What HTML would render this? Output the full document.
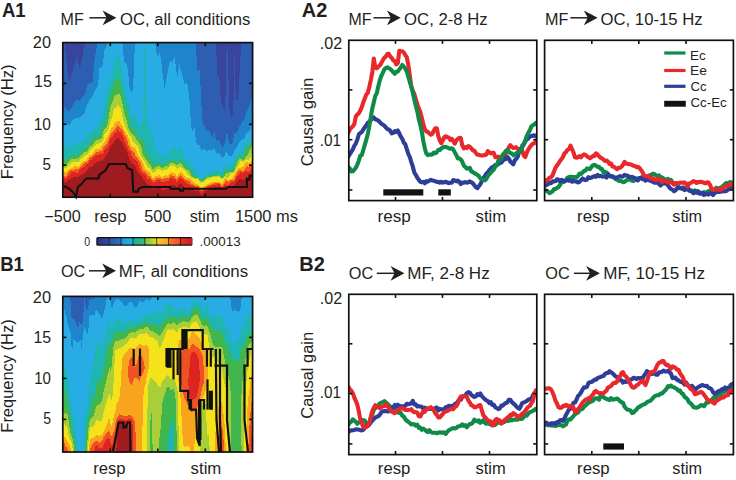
<!DOCTYPE html>
<html><head><meta charset="utf-8"><style>
html,body{margin:0;padding:0;background:#fff;width:736px;height:480px;overflow:hidden}
svg{display:block}
text{font-family:"Liberation Sans", sans-serif;fill:#231f20}
</style></head><body>
<svg width="736" height="480" viewBox="0 0 736 480">
<rect width="736" height="480" fill="#fff"/>
<rect x="63" y="43" width="1.5" height="17.5" fill="#39449d"/>
<rect x="63" y="60" width="1.5" height="51.5" fill="#2e5eb2"/>
<rect x="63" y="111" width="1.5" height="13.5" fill="#1f84cc"/>
<rect x="63" y="124" width="1.5" height="23.5" fill="#27ade3"/>
<rect x="63" y="147" width="1.5" height="13.5" fill="#1fb5b0"/>
<rect x="63" y="160" width="1.5" height="5.5" fill="#40b64c"/>
<rect x="63" y="165" width="1.5" height="2.5" fill="#a9cf38"/>
<rect x="63" y="167" width="1.5" height="6.5" fill="#f4e31b"/>
<rect x="63" y="173" width="1.5" height="3.5" fill="#f8a51d"/>
<rect x="63" y="176" width="1.5" height="2.5" fill="#ef5123"/>
<rect x="63" y="178" width="1.5" height="4.5" fill="#dc2420"/>
<rect x="63" y="182" width="1.5" height="15.5" fill="#9e1b1f"/>
<rect x="64" y="43" width="1.5" height="63.5" fill="#2e5eb2"/>
<rect x="64" y="106" width="1.5" height="18.5" fill="#1f84cc"/>
<rect x="64" y="124" width="1.5" height="19.5" fill="#27ade3"/>
<rect x="64" y="143" width="1.5" height="16.5" fill="#1fb5b0"/>
<rect x="64" y="159" width="1.5" height="6.5" fill="#40b64c"/>
<rect x="64" y="165" width="1.5" height="3.5" fill="#a9cf38"/>
<rect x="64" y="168" width="1.5" height="4.5" fill="#f4e31b"/>
<rect x="64" y="172" width="1.5" height="4.5" fill="#f8a51d"/>
<rect x="64" y="176" width="1.5" height="2.5" fill="#ef5123"/>
<rect x="64" y="178" width="1.5" height="4.5" fill="#dc2420"/>
<rect x="64" y="182" width="1.5" height="15.5" fill="#9e1b1f"/>
<rect x="65" y="43" width="1.5" height="10.5" fill="#39449d"/>
<rect x="65" y="53" width="1.5" height="55.5" fill="#2e5eb2"/>
<rect x="65" y="108" width="1.5" height="17.5" fill="#1f84cc"/>
<rect x="65" y="125" width="1.5" height="21.5" fill="#27ade3"/>
<rect x="65" y="146" width="1.5" height="14.5" fill="#1fb5b0"/>
<rect x="65" y="160" width="1.5" height="5.5" fill="#40b64c"/>
<rect x="65" y="165" width="1.5" height="3.5" fill="#a9cf38"/>
<rect x="65" y="168" width="1.5" height="4.5" fill="#f4e31b"/>
<rect x="65" y="172" width="1.5" height="5.5" fill="#f8a51d"/>
<rect x="65" y="177" width="1.5" height="2.5" fill="#ef5123"/>
<rect x="65" y="179" width="1.5" height="3.5" fill="#dc2420"/>
<rect x="65" y="182" width="1.5" height="15.5" fill="#9e1b1f"/>
<rect x="66" y="43" width="1.5" height="18.5" fill="#39449d"/>
<rect x="66" y="61" width="1.5" height="49.5" fill="#2e5eb2"/>
<rect x="66" y="110" width="1.5" height="15.5" fill="#1f84cc"/>
<rect x="66" y="125" width="1.5" height="22.5" fill="#27ade3"/>
<rect x="66" y="147" width="1.5" height="13.5" fill="#1fb5b0"/>
<rect x="66" y="160" width="1.5" height="5.5" fill="#40b64c"/>
<rect x="66" y="165" width="1.5" height="3.5" fill="#a9cf38"/>
<rect x="66" y="168" width="1.5" height="4.5" fill="#f4e31b"/>
<rect x="66" y="172" width="1.5" height="4.5" fill="#f8a51d"/>
<rect x="66" y="176" width="1.5" height="2.5" fill="#ef5123"/>
<rect x="66" y="178" width="1.5" height="4.5" fill="#dc2420"/>
<rect x="66" y="182" width="1.5" height="15.5" fill="#9e1b1f"/>
<rect x="67" y="43" width="1.5" height="27.5" fill="#39449d"/>
<rect x="67" y="70" width="1.5" height="40.5" fill="#2e5eb2"/>
<rect x="67" y="110" width="1.5" height="14.5" fill="#1f84cc"/>
<rect x="67" y="124" width="1.5" height="23.5" fill="#27ade3"/>
<rect x="67" y="147" width="1.5" height="12.5" fill="#1fb5b0"/>
<rect x="67" y="159" width="1.5" height="4.5" fill="#40b64c"/>
<rect x="67" y="163" width="1.5" height="4.5" fill="#a9cf38"/>
<rect x="67" y="167" width="1.5" height="4.5" fill="#f4e31b"/>
<rect x="67" y="171" width="1.5" height="3.5" fill="#f8a51d"/>
<rect x="67" y="174" width="1.5" height="3.5" fill="#ef5123"/>
<rect x="67" y="177" width="1.5" height="4.5" fill="#dc2420"/>
<rect x="67" y="181" width="1.5" height="16.5" fill="#9e1b1f"/>
<rect x="68" y="43" width="1.5" height="35.5" fill="#39449d"/>
<rect x="68" y="78" width="1.5" height="33.5" fill="#2e5eb2"/>
<rect x="68" y="111" width="1.5" height="13.5" fill="#1f84cc"/>
<rect x="68" y="124" width="1.5" height="24.5" fill="#27ade3"/>
<rect x="68" y="148" width="1.5" height="10.5" fill="#1fb5b0"/>
<rect x="68" y="158" width="1.5" height="4.5" fill="#40b64c"/>
<rect x="68" y="162" width="1.5" height="4.5" fill="#a9cf38"/>
<rect x="68" y="166" width="1.5" height="4.5" fill="#f4e31b"/>
<rect x="68" y="170" width="1.5" height="2.5" fill="#f8a51d"/>
<rect x="68" y="172" width="1.5" height="4.5" fill="#ef5123"/>
<rect x="68" y="176" width="1.5" height="4.5" fill="#dc2420"/>
<rect x="68" y="180" width="1.5" height="17.5" fill="#9e1b1f"/>
<rect x="69" y="43" width="1.5" height="38.5" fill="#39449d"/>
<rect x="69" y="81" width="1.5" height="30.5" fill="#2e5eb2"/>
<rect x="69" y="111" width="1.5" height="14.5" fill="#1f84cc"/>
<rect x="69" y="125" width="1.5" height="23.5" fill="#27ade3"/>
<rect x="69" y="148" width="1.5" height="9.5" fill="#1fb5b0"/>
<rect x="69" y="157" width="1.5" height="4.5" fill="#40b64c"/>
<rect x="69" y="161" width="1.5" height="4.5" fill="#a9cf38"/>
<rect x="69" y="165" width="1.5" height="4.5" fill="#f4e31b"/>
<rect x="69" y="169" width="1.5" height="2.5" fill="#f8a51d"/>
<rect x="69" y="171" width="1.5" height="4.5" fill="#ef5123"/>
<rect x="69" y="175" width="1.5" height="5.5" fill="#dc2420"/>
<rect x="69" y="180" width="1.5" height="17.5" fill="#9e1b1f"/>
<rect x="70" y="43" width="1.5" height="35.5" fill="#39449d"/>
<rect x="70" y="78" width="1.5" height="31.5" fill="#2e5eb2"/>
<rect x="70" y="109" width="1.5" height="14.5" fill="#1f84cc"/>
<rect x="70" y="123" width="1.5" height="24.5" fill="#27ade3"/>
<rect x="70" y="147" width="1.5" height="10.5" fill="#1fb5b0"/>
<rect x="70" y="157" width="1.5" height="3.5" fill="#40b64c"/>
<rect x="70" y="160" width="1.5" height="4.5" fill="#a9cf38"/>
<rect x="70" y="164" width="1.5" height="5.5" fill="#f4e31b"/>
<rect x="70" y="169" width="1.5" height="1.5" fill="#f8a51d"/>
<rect x="70" y="170" width="1.5" height="4.5" fill="#ef5123"/>
<rect x="70" y="174" width="1.5" height="5.5" fill="#dc2420"/>
<rect x="70" y="179" width="1.5" height="18.5" fill="#9e1b1f"/>
<rect x="71" y="43" width="1.5" height="32.5" fill="#39449d"/>
<rect x="71" y="75" width="1.5" height="33.5" fill="#2e5eb2"/>
<rect x="71" y="108" width="1.5" height="13.5" fill="#1f84cc"/>
<rect x="71" y="121" width="1.5" height="25.5" fill="#27ade3"/>
<rect x="71" y="146" width="1.5" height="11.5" fill="#1fb5b0"/>
<rect x="71" y="157" width="1.5" height="2.5" fill="#40b64c"/>
<rect x="71" y="159" width="1.5" height="4.5" fill="#a9cf38"/>
<rect x="71" y="163" width="1.5" height="5.5" fill="#f4e31b"/>
<rect x="71" y="168" width="1.5" height="2.5" fill="#f8a51d"/>
<rect x="71" y="170" width="1.5" height="2.5" fill="#ef5123"/>
<rect x="71" y="172" width="1.5" height="6.5" fill="#dc2420"/>
<rect x="71" y="178" width="1.5" height="19.5" fill="#9e1b1f"/>
<rect x="72" y="43" width="1.5" height="29.5" fill="#39449d"/>
<rect x="72" y="72" width="1.5" height="34.5" fill="#2e5eb2"/>
<rect x="72" y="106" width="1.5" height="14.5" fill="#1f84cc"/>
<rect x="72" y="120" width="1.5" height="25.5" fill="#27ade3"/>
<rect x="72" y="145" width="1.5" height="11.5" fill="#1fb5b0"/>
<rect x="72" y="156" width="1.5" height="3.5" fill="#40b64c"/>
<rect x="72" y="159" width="1.5" height="3.5" fill="#a9cf38"/>
<rect x="72" y="162" width="1.5" height="6.5" fill="#f4e31b"/>
<rect x="72" y="168" width="1.5" height="2.5" fill="#f8a51d"/>
<rect x="72" y="170" width="1.5" height="2.5" fill="#ef5123"/>
<rect x="72" y="172" width="1.5" height="6.5" fill="#dc2420"/>
<rect x="72" y="178" width="1.5" height="19.5" fill="#9e1b1f"/>
<rect x="73" y="43" width="1.5" height="25.5" fill="#39449d"/>
<rect x="73" y="68" width="1.5" height="36.5" fill="#2e5eb2"/>
<rect x="73" y="104" width="1.5" height="15.5" fill="#1f84cc"/>
<rect x="73" y="119" width="1.5" height="25.5" fill="#27ade3"/>
<rect x="73" y="144" width="1.5" height="11.5" fill="#1fb5b0"/>
<rect x="73" y="155" width="1.5" height="4.5" fill="#40b64c"/>
<rect x="73" y="159" width="1.5" height="3.5" fill="#a9cf38"/>
<rect x="73" y="162" width="1.5" height="5.5" fill="#f4e31b"/>
<rect x="73" y="167" width="1.5" height="3.5" fill="#f8a51d"/>
<rect x="73" y="170" width="1.5" height="2.5" fill="#ef5123"/>
<rect x="73" y="172" width="1.5" height="5.5" fill="#dc2420"/>
<rect x="73" y="177" width="1.5" height="20.5" fill="#9e1b1f"/>
<rect x="74" y="43" width="1.5" height="21.5" fill="#39449d"/>
<rect x="74" y="64" width="1.5" height="38.5" fill="#2e5eb2"/>
<rect x="74" y="102" width="1.5" height="17.5" fill="#1f84cc"/>
<rect x="74" y="119" width="1.5" height="24.5" fill="#27ade3"/>
<rect x="74" y="143" width="1.5" height="11.5" fill="#1fb5b0"/>
<rect x="74" y="154" width="1.5" height="5.5" fill="#40b64c"/>
<rect x="74" y="159" width="1.5" height="3.5" fill="#a9cf38"/>
<rect x="74" y="162" width="1.5" height="4.5" fill="#f4e31b"/>
<rect x="74" y="166" width="1.5" height="4.5" fill="#f8a51d"/>
<rect x="74" y="170" width="1.5" height="2.5" fill="#ef5123"/>
<rect x="74" y="172" width="1.5" height="5.5" fill="#dc2420"/>
<rect x="74" y="177" width="1.5" height="20.5" fill="#9e1b1f"/>
<rect x="75" y="43" width="1.5" height="18.5" fill="#39449d"/>
<rect x="75" y="61" width="1.5" height="40.5" fill="#2e5eb2"/>
<rect x="75" y="101" width="1.5" height="17.5" fill="#1f84cc"/>
<rect x="75" y="118" width="1.5" height="24.5" fill="#27ade3"/>
<rect x="75" y="142" width="1.5" height="12.5" fill="#1fb5b0"/>
<rect x="75" y="154" width="1.5" height="5.5" fill="#40b64c"/>
<rect x="75" y="159" width="1.5" height="3.5" fill="#a9cf38"/>
<rect x="75" y="162" width="1.5" height="4.5" fill="#f4e31b"/>
<rect x="75" y="166" width="1.5" height="3.5" fill="#f8a51d"/>
<rect x="75" y="169" width="1.5" height="3.5" fill="#ef5123"/>
<rect x="75" y="172" width="1.5" height="5.5" fill="#dc2420"/>
<rect x="75" y="177" width="1.5" height="20.5" fill="#9e1b1f"/>
<rect x="76" y="43" width="1.5" height="15.5" fill="#39449d"/>
<rect x="76" y="58" width="1.5" height="42.5" fill="#2e5eb2"/>
<rect x="76" y="100" width="1.5" height="18.5" fill="#1f84cc"/>
<rect x="76" y="118" width="1.5" height="24.5" fill="#27ade3"/>
<rect x="76" y="142" width="1.5" height="12.5" fill="#1fb5b0"/>
<rect x="76" y="154" width="1.5" height="4.5" fill="#40b64c"/>
<rect x="76" y="158" width="1.5" height="4.5" fill="#a9cf38"/>
<rect x="76" y="162" width="1.5" height="4.5" fill="#f4e31b"/>
<rect x="76" y="166" width="1.5" height="3.5" fill="#f8a51d"/>
<rect x="76" y="169" width="1.5" height="4.5" fill="#ef5123"/>
<rect x="76" y="173" width="1.5" height="4.5" fill="#dc2420"/>
<rect x="76" y="177" width="1.5" height="20.5" fill="#9e1b1f"/>
<rect x="77" y="43" width="1.5" height="16.5" fill="#39449d"/>
<rect x="77" y="59" width="1.5" height="41.5" fill="#2e5eb2"/>
<rect x="77" y="100" width="1.5" height="18.5" fill="#1f84cc"/>
<rect x="77" y="118" width="1.5" height="24.5" fill="#27ade3"/>
<rect x="77" y="142" width="1.5" height="13.5" fill="#1fb5b0"/>
<rect x="77" y="155" width="1.5" height="4.5" fill="#40b64c"/>
<rect x="77" y="159" width="1.5" height="3.5" fill="#a9cf38"/>
<rect x="77" y="162" width="1.5" height="5.5" fill="#f4e31b"/>
<rect x="77" y="167" width="1.5" height="2.5" fill="#f8a51d"/>
<rect x="77" y="169" width="1.5" height="4.5" fill="#ef5123"/>
<rect x="77" y="173" width="1.5" height="4.5" fill="#dc2420"/>
<rect x="77" y="177" width="1.5" height="20.5" fill="#9e1b1f"/>
<rect x="78" y="43" width="1.5" height="21.5" fill="#39449d"/>
<rect x="78" y="64" width="1.5" height="37.5" fill="#2e5eb2"/>
<rect x="78" y="101" width="1.5" height="17.5" fill="#1f84cc"/>
<rect x="78" y="118" width="1.5" height="26.5" fill="#27ade3"/>
<rect x="78" y="144" width="1.5" height="11.5" fill="#1fb5b0"/>
<rect x="78" y="155" width="1.5" height="3.5" fill="#40b64c"/>
<rect x="78" y="158" width="1.5" height="4.5" fill="#a9cf38"/>
<rect x="78" y="162" width="1.5" height="5.5" fill="#f4e31b"/>
<rect x="78" y="167" width="1.5" height="2.5" fill="#f8a51d"/>
<rect x="78" y="169" width="1.5" height="3.5" fill="#ef5123"/>
<rect x="78" y="172" width="1.5" height="5.5" fill="#dc2420"/>
<rect x="78" y="177" width="1.5" height="20.5" fill="#9e1b1f"/>
<rect x="79" y="43" width="1.5" height="25.5" fill="#39449d"/>
<rect x="79" y="68" width="1.5" height="33.5" fill="#2e5eb2"/>
<rect x="79" y="101" width="1.5" height="16.5" fill="#1f84cc"/>
<rect x="79" y="117" width="1.5" height="27.5" fill="#27ade3"/>
<rect x="79" y="144" width="1.5" height="10.5" fill="#1fb5b0"/>
<rect x="79" y="154" width="1.5" height="3.5" fill="#40b64c"/>
<rect x="79" y="157" width="1.5" height="4.5" fill="#a9cf38"/>
<rect x="79" y="161" width="1.5" height="5.5" fill="#f4e31b"/>
<rect x="79" y="166" width="1.5" height="2.5" fill="#f8a51d"/>
<rect x="79" y="168" width="1.5" height="2.5" fill="#ef5123"/>
<rect x="79" y="170" width="1.5" height="6.5" fill="#dc2420"/>
<rect x="79" y="176" width="1.5" height="21.5" fill="#9e1b1f"/>
<rect x="80" y="43" width="1.5" height="23.5" fill="#39449d"/>
<rect x="80" y="66" width="1.5" height="34.5" fill="#2e5eb2"/>
<rect x="80" y="100" width="1.5" height="17.5" fill="#1f84cc"/>
<rect x="80" y="117" width="1.5" height="26.5" fill="#27ade3"/>
<rect x="80" y="143" width="1.5" height="10.5" fill="#1fb5b0"/>
<rect x="80" y="153" width="1.5" height="3.5" fill="#40b64c"/>
<rect x="80" y="156" width="1.5" height="3.5" fill="#a9cf38"/>
<rect x="80" y="159" width="1.5" height="5.5" fill="#f4e31b"/>
<rect x="80" y="164" width="1.5" height="3.5" fill="#f8a51d"/>
<rect x="80" y="167" width="1.5" height="2.5" fill="#ef5123"/>
<rect x="80" y="169" width="1.5" height="6.5" fill="#dc2420"/>
<rect x="80" y="175" width="1.5" height="22.5" fill="#9e1b1f"/>
<rect x="81" y="43" width="1.5" height="18.5" fill="#39449d"/>
<rect x="81" y="61" width="1.5" height="37.5" fill="#2e5eb2"/>
<rect x="81" y="98" width="1.5" height="18.5" fill="#1f84cc"/>
<rect x="81" y="116" width="1.5" height="26.5" fill="#27ade3"/>
<rect x="81" y="142" width="1.5" height="9.5" fill="#1fb5b0"/>
<rect x="81" y="151" width="1.5" height="4.5" fill="#40b64c"/>
<rect x="81" y="155" width="1.5" height="4.5" fill="#a9cf38"/>
<rect x="81" y="159" width="1.5" height="4.5" fill="#f4e31b"/>
<rect x="81" y="163" width="1.5" height="3.5" fill="#f8a51d"/>
<rect x="81" y="166" width="1.5" height="2.5" fill="#ef5123"/>
<rect x="81" y="168" width="1.5" height="7.5" fill="#dc2420"/>
<rect x="81" y="175" width="1.5" height="22.5" fill="#9e1b1f"/>
<rect x="82" y="43" width="1.5" height="13.5" fill="#39449d"/>
<rect x="82" y="56" width="1.5" height="41.5" fill="#2e5eb2"/>
<rect x="82" y="97" width="1.5" height="18.5" fill="#1f84cc"/>
<rect x="82" y="115" width="1.5" height="26.5" fill="#27ade3"/>
<rect x="82" y="141" width="1.5" height="9.5" fill="#1fb5b0"/>
<rect x="82" y="150" width="1.5" height="4.5" fill="#40b64c"/>
<rect x="82" y="154" width="1.5" height="4.5" fill="#a9cf38"/>
<rect x="82" y="158" width="1.5" height="4.5" fill="#f4e31b"/>
<rect x="82" y="162" width="1.5" height="3.5" fill="#f8a51d"/>
<rect x="82" y="165" width="1.5" height="3.5" fill="#ef5123"/>
<rect x="82" y="168" width="1.5" height="6.5" fill="#dc2420"/>
<rect x="82" y="174" width="1.5" height="23.5" fill="#9e1b1f"/>
<rect x="83" y="43" width="1.5" height="7.5" fill="#39449d"/>
<rect x="83" y="50" width="1.5" height="46.5" fill="#2e5eb2"/>
<rect x="83" y="96" width="1.5" height="18.5" fill="#1f84cc"/>
<rect x="83" y="114" width="1.5" height="26.5" fill="#27ade3"/>
<rect x="83" y="140" width="1.5" height="9.5" fill="#1fb5b0"/>
<rect x="83" y="149" width="1.5" height="4.5" fill="#40b64c"/>
<rect x="83" y="153" width="1.5" height="4.5" fill="#a9cf38"/>
<rect x="83" y="157" width="1.5" height="4.5" fill="#f4e31b"/>
<rect x="83" y="161" width="1.5" height="3.5" fill="#f8a51d"/>
<rect x="83" y="164" width="1.5" height="3.5" fill="#ef5123"/>
<rect x="83" y="167" width="1.5" height="6.5" fill="#dc2420"/>
<rect x="83" y="173" width="1.5" height="24.5" fill="#9e1b1f"/>
<rect x="84" y="43" width="1.5" height="4.5" fill="#39449d"/>
<rect x="84" y="47" width="1.5" height="48.5" fill="#2e5eb2"/>
<rect x="84" y="95" width="1.5" height="18.5" fill="#1f84cc"/>
<rect x="84" y="113" width="1.5" height="27.5" fill="#27ade3"/>
<rect x="84" y="140" width="1.5" height="9.5" fill="#1fb5b0"/>
<rect x="84" y="149" width="1.5" height="3.5" fill="#40b64c"/>
<rect x="84" y="152" width="1.5" height="4.5" fill="#a9cf38"/>
<rect x="84" y="156" width="1.5" height="5.5" fill="#f4e31b"/>
<rect x="84" y="161" width="1.5" height="2.5" fill="#f8a51d"/>
<rect x="84" y="163" width="1.5" height="4.5" fill="#ef5123"/>
<rect x="84" y="167" width="1.5" height="6.5" fill="#dc2420"/>
<rect x="84" y="173" width="1.5" height="24.5" fill="#9e1b1f"/>
<rect x="85" y="43" width="1.5" height="50.5" fill="#2e5eb2"/>
<rect x="85" y="93" width="1.5" height="16.5" fill="#1f84cc"/>
<rect x="85" y="109" width="1.5" height="30.5" fill="#27ade3"/>
<rect x="85" y="139" width="1.5" height="10.5" fill="#1fb5b0"/>
<rect x="85" y="149" width="1.5" height="3.5" fill="#40b64c"/>
<rect x="85" y="152" width="1.5" height="3.5" fill="#a9cf38"/>
<rect x="85" y="155" width="1.5" height="6.5" fill="#f4e31b"/>
<rect x="85" y="161" width="1.5" height="1.5" fill="#f8a51d"/>
<rect x="85" y="162" width="1.5" height="3.5" fill="#ef5123"/>
<rect x="85" y="165" width="1.5" height="7.5" fill="#dc2420"/>
<rect x="85" y="172" width="1.5" height="25.5" fill="#9e1b1f"/>
<rect x="86" y="43" width="1.5" height="45.5" fill="#2e5eb2"/>
<rect x="86" y="88" width="1.5" height="18.5" fill="#1f84cc"/>
<rect x="86" y="106" width="1.5" height="30.5" fill="#27ade3"/>
<rect x="86" y="136" width="1.5" height="12.5" fill="#1fb5b0"/>
<rect x="86" y="148" width="1.5" height="4.5" fill="#40b64c"/>
<rect x="86" y="152" width="1.5" height="3.5" fill="#a9cf38"/>
<rect x="86" y="155" width="1.5" height="5.5" fill="#f4e31b"/>
<rect x="86" y="160" width="1.5" height="2.5" fill="#f8a51d"/>
<rect x="86" y="162" width="1.5" height="2.5" fill="#ef5123"/>
<rect x="86" y="164" width="1.5" height="7.5" fill="#dc2420"/>
<rect x="86" y="171" width="1.5" height="26.5" fill="#9e1b1f"/>
<rect x="87" y="43" width="1.5" height="42.5" fill="#2e5eb2"/>
<rect x="87" y="85" width="1.5" height="19.5" fill="#1f84cc"/>
<rect x="87" y="104" width="1.5" height="31.5" fill="#27ade3"/>
<rect x="87" y="135" width="1.5" height="11.5" fill="#1fb5b0"/>
<rect x="87" y="146" width="1.5" height="5.5" fill="#40b64c"/>
<rect x="87" y="151" width="1.5" height="3.5" fill="#a9cf38"/>
<rect x="87" y="154" width="1.5" height="4.5" fill="#f4e31b"/>
<rect x="87" y="158" width="1.5" height="4.5" fill="#f8a51d"/>
<rect x="87" y="162" width="1.5" height="2.5" fill="#ef5123"/>
<rect x="87" y="164" width="1.5" height="6.5" fill="#dc2420"/>
<rect x="87" y="170" width="1.5" height="27.5" fill="#9e1b1f"/>
<rect x="88" y="43" width="1.5" height="41.5" fill="#2e5eb2"/>
<rect x="88" y="84" width="1.5" height="19.5" fill="#1f84cc"/>
<rect x="88" y="103" width="1.5" height="30.5" fill="#27ade3"/>
<rect x="88" y="133" width="1.5" height="11.5" fill="#1fb5b0"/>
<rect x="88" y="144" width="1.5" height="5.5" fill="#40b64c"/>
<rect x="88" y="149" width="1.5" height="4.5" fill="#a9cf38"/>
<rect x="88" y="153" width="1.5" height="4.5" fill="#f4e31b"/>
<rect x="88" y="157" width="1.5" height="3.5" fill="#f8a51d"/>
<rect x="88" y="160" width="1.5" height="3.5" fill="#ef5123"/>
<rect x="88" y="163" width="1.5" height="6.5" fill="#dc2420"/>
<rect x="88" y="169" width="1.5" height="28.5" fill="#9e1b1f"/>
<rect x="89" y="43" width="1.5" height="40.5" fill="#2e5eb2"/>
<rect x="89" y="83" width="1.5" height="17.5" fill="#1f84cc"/>
<rect x="89" y="100" width="1.5" height="32.5" fill="#27ade3"/>
<rect x="89" y="132" width="1.5" height="11.5" fill="#1fb5b0"/>
<rect x="89" y="143" width="1.5" height="4.5" fill="#40b64c"/>
<rect x="89" y="147" width="1.5" height="4.5" fill="#a9cf38"/>
<rect x="89" y="151" width="1.5" height="4.5" fill="#f4e31b"/>
<rect x="89" y="155" width="1.5" height="3.5" fill="#f8a51d"/>
<rect x="89" y="158" width="1.5" height="3.5" fill="#ef5123"/>
<rect x="89" y="161" width="1.5" height="6.5" fill="#dc2420"/>
<rect x="89" y="167" width="1.5" height="30.5" fill="#9e1b1f"/>
<rect x="90" y="43" width="1.5" height="40.5" fill="#2e5eb2"/>
<rect x="90" y="83" width="1.5" height="16.5" fill="#1f84cc"/>
<rect x="90" y="99" width="1.5" height="33.5" fill="#27ade3"/>
<rect x="90" y="132" width="1.5" height="10.5" fill="#1fb5b0"/>
<rect x="90" y="142" width="1.5" height="4.5" fill="#40b64c"/>
<rect x="90" y="146" width="1.5" height="4.5" fill="#a9cf38"/>
<rect x="90" y="150" width="1.5" height="5.5" fill="#f4e31b"/>
<rect x="90" y="155" width="1.5" height="2.5" fill="#f8a51d"/>
<rect x="90" y="157" width="1.5" height="3.5" fill="#ef5123"/>
<rect x="90" y="160" width="1.5" height="7.5" fill="#dc2420"/>
<rect x="90" y="167" width="1.5" height="30.5" fill="#9e1b1f"/>
<rect x="91" y="43" width="1.5" height="40.5" fill="#2e5eb2"/>
<rect x="91" y="83" width="1.5" height="15.5" fill="#1f84cc"/>
<rect x="91" y="98" width="1.5" height="34.5" fill="#27ade3"/>
<rect x="91" y="132" width="1.5" height="10.5" fill="#1fb5b0"/>
<rect x="91" y="142" width="1.5" height="4.5" fill="#40b64c"/>
<rect x="91" y="146" width="1.5" height="3.5" fill="#a9cf38"/>
<rect x="91" y="149" width="1.5" height="6.5" fill="#f4e31b"/>
<rect x="91" y="155" width="1.5" height="2.5" fill="#f8a51d"/>
<rect x="91" y="157" width="1.5" height="3.5" fill="#ef5123"/>
<rect x="91" y="160" width="1.5" height="7.5" fill="#dc2420"/>
<rect x="91" y="167" width="1.5" height="30.5" fill="#9e1b1f"/>
<rect x="92" y="43" width="1.5" height="39.5" fill="#2e5eb2"/>
<rect x="92" y="82" width="1.5" height="14.5" fill="#1f84cc"/>
<rect x="92" y="96" width="1.5" height="36.5" fill="#27ade3"/>
<rect x="92" y="132" width="1.5" height="9.5" fill="#1fb5b0"/>
<rect x="92" y="141" width="1.5" height="4.5" fill="#40b64c"/>
<rect x="92" y="145" width="1.5" height="3.5" fill="#a9cf38"/>
<rect x="92" y="148" width="1.5" height="6.5" fill="#f4e31b"/>
<rect x="92" y="154" width="1.5" height="2.5" fill="#f8a51d"/>
<rect x="92" y="156" width="1.5" height="2.5" fill="#ef5123"/>
<rect x="92" y="158" width="1.5" height="8.5" fill="#dc2420"/>
<rect x="92" y="166" width="1.5" height="31.5" fill="#9e1b1f"/>
<rect x="93" y="43" width="1.5" height="28.5" fill="#2e5eb2"/>
<rect x="93" y="71" width="1.5" height="23.5" fill="#1f84cc"/>
<rect x="93" y="94" width="1.5" height="36.5" fill="#27ade3"/>
<rect x="93" y="130" width="1.5" height="9.5" fill="#1fb5b0"/>
<rect x="93" y="139" width="1.5" height="5.5" fill="#40b64c"/>
<rect x="93" y="144" width="1.5" height="3.5" fill="#a9cf38"/>
<rect x="93" y="147" width="1.5" height="5.5" fill="#f4e31b"/>
<rect x="93" y="152" width="1.5" height="3.5" fill="#f8a51d"/>
<rect x="93" y="155" width="1.5" height="2.5" fill="#ef5123"/>
<rect x="93" y="157" width="1.5" height="8.5" fill="#dc2420"/>
<rect x="93" y="165" width="1.5" height="32.5" fill="#9e1b1f"/>
<rect x="94" y="43" width="1.5" height="18.5" fill="#2e5eb2"/>
<rect x="94" y="61" width="1.5" height="30.5" fill="#1f84cc"/>
<rect x="94" y="91" width="1.5" height="37.5" fill="#27ade3"/>
<rect x="94" y="128" width="1.5" height="10.5" fill="#1fb5b0"/>
<rect x="94" y="138" width="1.5" height="4.5" fill="#40b64c"/>
<rect x="94" y="142" width="1.5" height="4.5" fill="#a9cf38"/>
<rect x="94" y="146" width="1.5" height="5.5" fill="#f4e31b"/>
<rect x="94" y="151" width="1.5" height="3.5" fill="#f8a51d"/>
<rect x="94" y="154" width="1.5" height="2.5" fill="#ef5123"/>
<rect x="94" y="156" width="1.5" height="8.5" fill="#dc2420"/>
<rect x="94" y="164" width="1.5" height="33.5" fill="#9e1b1f"/>
<rect x="95" y="43" width="1.5" height="11.5" fill="#2e5eb2"/>
<rect x="95" y="54" width="1.5" height="36.5" fill="#1f84cc"/>
<rect x="95" y="90" width="1.5" height="36.5" fill="#27ade3"/>
<rect x="95" y="126" width="1.5" height="10.5" fill="#1fb5b0"/>
<rect x="95" y="136" width="1.5" height="5.5" fill="#40b64c"/>
<rect x="95" y="141" width="1.5" height="4.5" fill="#a9cf38"/>
<rect x="95" y="145" width="1.5" height="4.5" fill="#f4e31b"/>
<rect x="95" y="149" width="1.5" height="4.5" fill="#f8a51d"/>
<rect x="95" y="153" width="1.5" height="3.5" fill="#ef5123"/>
<rect x="95" y="156" width="1.5" height="7.5" fill="#dc2420"/>
<rect x="95" y="163" width="1.5" height="34.5" fill="#9e1b1f"/>
<rect x="96" y="43" width="1.5" height="5.5" fill="#2e5eb2"/>
<rect x="96" y="48" width="1.5" height="40.5" fill="#1f84cc"/>
<rect x="96" y="88" width="1.5" height="38.5" fill="#27ade3"/>
<rect x="96" y="126" width="1.5" height="10.5" fill="#1fb5b0"/>
<rect x="96" y="136" width="1.5" height="4.5" fill="#40b64c"/>
<rect x="96" y="140" width="1.5" height="4.5" fill="#a9cf38"/>
<rect x="96" y="144" width="1.5" height="5.5" fill="#f4e31b"/>
<rect x="96" y="149" width="1.5" height="3.5" fill="#f8a51d"/>
<rect x="96" y="152" width="1.5" height="3.5" fill="#ef5123"/>
<rect x="96" y="155" width="1.5" height="7.5" fill="#dc2420"/>
<rect x="96" y="162" width="1.5" height="35.5" fill="#9e1b1f"/>
<rect x="97" y="43" width="1.5" height="43.5" fill="#1f84cc"/>
<rect x="97" y="86" width="1.5" height="40.5" fill="#27ade3"/>
<rect x="97" y="126" width="1.5" height="10.5" fill="#1fb5b0"/>
<rect x="97" y="136" width="1.5" height="4.5" fill="#40b64c"/>
<rect x="97" y="140" width="1.5" height="4.5" fill="#a9cf38"/>
<rect x="97" y="144" width="1.5" height="5.5" fill="#f4e31b"/>
<rect x="97" y="149" width="1.5" height="3.5" fill="#f8a51d"/>
<rect x="97" y="152" width="1.5" height="3.5" fill="#ef5123"/>
<rect x="97" y="155" width="1.5" height="7.5" fill="#dc2420"/>
<rect x="97" y="162" width="1.5" height="35.5" fill="#9e1b1f"/>
<rect x="98" y="43" width="1.5" height="36.5" fill="#1f84cc"/>
<rect x="98" y="79" width="1.5" height="46.5" fill="#27ade3"/>
<rect x="98" y="125" width="1.5" height="11.5" fill="#1fb5b0"/>
<rect x="98" y="136" width="1.5" height="4.5" fill="#40b64c"/>
<rect x="98" y="140" width="1.5" height="4.5" fill="#a9cf38"/>
<rect x="98" y="144" width="1.5" height="5.5" fill="#f4e31b"/>
<rect x="98" y="149" width="1.5" height="3.5" fill="#f8a51d"/>
<rect x="98" y="152" width="1.5" height="3.5" fill="#ef5123"/>
<rect x="98" y="155" width="1.5" height="7.5" fill="#dc2420"/>
<rect x="98" y="162" width="1.5" height="35.5" fill="#9e1b1f"/>
<rect x="99" y="43" width="1.5" height="25.5" fill="#1f84cc"/>
<rect x="99" y="68" width="1.5" height="53.5" fill="#27ade3"/>
<rect x="99" y="121" width="1.5" height="14.5" fill="#1fb5b0"/>
<rect x="99" y="135" width="1.5" height="4.5" fill="#40b64c"/>
<rect x="99" y="139" width="1.5" height="4.5" fill="#a9cf38"/>
<rect x="99" y="143" width="1.5" height="6.5" fill="#f4e31b"/>
<rect x="99" y="149" width="1.5" height="2.5" fill="#f8a51d"/>
<rect x="99" y="151" width="1.5" height="3.5" fill="#ef5123"/>
<rect x="99" y="154" width="1.5" height="7.5" fill="#dc2420"/>
<rect x="99" y="161" width="1.5" height="36.5" fill="#9e1b1f"/>
<rect x="100" y="43" width="1.5" height="24.5" fill="#1f84cc"/>
<rect x="100" y="67" width="1.5" height="53.5" fill="#27ade3"/>
<rect x="100" y="120" width="1.5" height="14.5" fill="#1fb5b0"/>
<rect x="100" y="134" width="1.5" height="5.5" fill="#40b64c"/>
<rect x="100" y="139" width="1.5" height="4.5" fill="#a9cf38"/>
<rect x="100" y="143" width="1.5" height="5.5" fill="#f4e31b"/>
<rect x="100" y="148" width="1.5" height="3.5" fill="#f8a51d"/>
<rect x="100" y="151" width="1.5" height="3.5" fill="#ef5123"/>
<rect x="100" y="154" width="1.5" height="7.5" fill="#dc2420"/>
<rect x="100" y="161" width="1.5" height="36.5" fill="#9e1b1f"/>
<rect x="101" y="43" width="1.5" height="25.5" fill="#1f84cc"/>
<rect x="101" y="68" width="1.5" height="49.5" fill="#27ade3"/>
<rect x="101" y="117" width="1.5" height="13.5" fill="#1fb5b0"/>
<rect x="101" y="130" width="1.5" height="8.5" fill="#40b64c"/>
<rect x="101" y="138" width="1.5" height="4.5" fill="#a9cf38"/>
<rect x="101" y="142" width="1.5" height="4.5" fill="#f4e31b"/>
<rect x="101" y="146" width="1.5" height="5.5" fill="#f8a51d"/>
<rect x="101" y="151" width="1.5" height="3.5" fill="#ef5123"/>
<rect x="101" y="154" width="1.5" height="7.5" fill="#dc2420"/>
<rect x="101" y="161" width="1.5" height="36.5" fill="#9e1b1f"/>
<rect x="102" y="43" width="1.5" height="22.5" fill="#1f84cc"/>
<rect x="102" y="65" width="1.5" height="50.5" fill="#27ade3"/>
<rect x="102" y="115" width="1.5" height="13.5" fill="#1fb5b0"/>
<rect x="102" y="128" width="1.5" height="7.5" fill="#40b64c"/>
<rect x="102" y="135" width="1.5" height="6.5" fill="#a9cf38"/>
<rect x="102" y="141" width="1.5" height="4.5" fill="#f4e31b"/>
<rect x="102" y="145" width="1.5" height="5.5" fill="#f8a51d"/>
<rect x="102" y="150" width="1.5" height="4.5" fill="#ef5123"/>
<rect x="102" y="154" width="1.5" height="6.5" fill="#dc2420"/>
<rect x="102" y="160" width="1.5" height="37.5" fill="#9e1b1f"/>
<rect x="103" y="43" width="1.5" height="15.5" fill="#1f84cc"/>
<rect x="103" y="58" width="1.5" height="54.5" fill="#27ade3"/>
<rect x="103" y="112" width="1.5" height="14.5" fill="#1fb5b0"/>
<rect x="103" y="126" width="1.5" height="5.5" fill="#40b64c"/>
<rect x="103" y="131" width="1.5" height="8.5" fill="#a9cf38"/>
<rect x="103" y="139" width="1.5" height="4.5" fill="#f4e31b"/>
<rect x="103" y="143" width="1.5" height="4.5" fill="#f8a51d"/>
<rect x="103" y="147" width="1.5" height="6.5" fill="#ef5123"/>
<rect x="103" y="153" width="1.5" height="6.5" fill="#dc2420"/>
<rect x="103" y="159" width="1.5" height="38.5" fill="#9e1b1f"/>
<rect x="104" y="43" width="1.5" height="7.5" fill="#1f84cc"/>
<rect x="104" y="50" width="1.5" height="59.5" fill="#27ade3"/>
<rect x="104" y="109" width="1.5" height="15.5" fill="#1fb5b0"/>
<rect x="104" y="124" width="1.5" height="5.5" fill="#40b64c"/>
<rect x="104" y="129" width="1.5" height="5.5" fill="#a9cf38"/>
<rect x="104" y="134" width="1.5" height="8.5" fill="#f4e31b"/>
<rect x="104" y="142" width="1.5" height="4.5" fill="#f8a51d"/>
<rect x="104" y="146" width="1.5" height="4.5" fill="#ef5123"/>
<rect x="104" y="150" width="1.5" height="8.5" fill="#dc2420"/>
<rect x="104" y="158" width="1.5" height="39.5" fill="#9e1b1f"/>
<rect x="105" y="43" width="1.5" height="5.5" fill="#1f84cc"/>
<rect x="105" y="48" width="1.5" height="50.5" fill="#27ade3"/>
<rect x="105" y="98" width="1.5" height="23.5" fill="#1fb5b0"/>
<rect x="105" y="121" width="1.5" height="7.5" fill="#40b64c"/>
<rect x="105" y="128" width="1.5" height="5.5" fill="#a9cf38"/>
<rect x="105" y="133" width="1.5" height="7.5" fill="#f4e31b"/>
<rect x="105" y="140" width="1.5" height="5.5" fill="#f8a51d"/>
<rect x="105" y="145" width="1.5" height="4.5" fill="#ef5123"/>
<rect x="105" y="149" width="1.5" height="7.5" fill="#dc2420"/>
<rect x="105" y="156" width="1.5" height="41.5" fill="#9e1b1f"/>
<rect x="106" y="43" width="1.5" height="3.5" fill="#1f84cc"/>
<rect x="106" y="46" width="1.5" height="45.5" fill="#27ade3"/>
<rect x="106" y="91" width="1.5" height="25.5" fill="#1fb5b0"/>
<rect x="106" y="116" width="1.5" height="11.5" fill="#40b64c"/>
<rect x="106" y="127" width="1.5" height="5.5" fill="#a9cf38"/>
<rect x="106" y="132" width="1.5" height="6.5" fill="#f4e31b"/>
<rect x="106" y="138" width="1.5" height="6.5" fill="#f8a51d"/>
<rect x="106" y="144" width="1.5" height="4.5" fill="#ef5123"/>
<rect x="106" y="148" width="1.5" height="7.5" fill="#dc2420"/>
<rect x="106" y="155" width="1.5" height="42.5" fill="#9e1b1f"/>
<rect x="107" y="43" width="1.5" height="44.5" fill="#27ade3"/>
<rect x="107" y="87" width="1.5" height="22.5" fill="#1fb5b0"/>
<rect x="107" y="109" width="1.5" height="15.5" fill="#40b64c"/>
<rect x="107" y="124" width="1.5" height="7.5" fill="#a9cf38"/>
<rect x="107" y="131" width="1.5" height="6.5" fill="#f4e31b"/>
<rect x="107" y="137" width="1.5" height="5.5" fill="#f8a51d"/>
<rect x="107" y="142" width="1.5" height="5.5" fill="#ef5123"/>
<rect x="107" y="147" width="1.5" height="7.5" fill="#dc2420"/>
<rect x="107" y="154" width="1.5" height="43.5" fill="#9e1b1f"/>
<rect x="108" y="43" width="1.5" height="42.5" fill="#27ade3"/>
<rect x="108" y="85" width="1.5" height="18.5" fill="#1fb5b0"/>
<rect x="108" y="103" width="1.5" height="16.5" fill="#40b64c"/>
<rect x="108" y="119" width="1.5" height="10.5" fill="#a9cf38"/>
<rect x="108" y="129" width="1.5" height="6.5" fill="#f4e31b"/>
<rect x="108" y="135" width="1.5" height="5.5" fill="#f8a51d"/>
<rect x="108" y="140" width="1.5" height="5.5" fill="#ef5123"/>
<rect x="108" y="145" width="1.5" height="7.5" fill="#dc2420"/>
<rect x="108" y="152" width="1.5" height="45.5" fill="#9e1b1f"/>
<rect x="109" y="43" width="1.5" height="39.5" fill="#27ade3"/>
<rect x="109" y="82" width="1.5" height="15.5" fill="#1fb5b0"/>
<rect x="109" y="97" width="1.5" height="15.5" fill="#40b64c"/>
<rect x="109" y="112" width="1.5" height="13.5" fill="#a9cf38"/>
<rect x="109" y="125" width="1.5" height="8.5" fill="#f4e31b"/>
<rect x="109" y="133" width="1.5" height="4.5" fill="#f8a51d"/>
<rect x="109" y="137" width="1.5" height="4.5" fill="#ef5123"/>
<rect x="109" y="141" width="1.5" height="8.5" fill="#dc2420"/>
<rect x="109" y="149" width="1.5" height="48.5" fill="#9e1b1f"/>
<rect x="110" y="43" width="1.5" height="34.5" fill="#27ade3"/>
<rect x="110" y="77" width="1.5" height="17.5" fill="#1fb5b0"/>
<rect x="110" y="94" width="1.5" height="13.5" fill="#40b64c"/>
<rect x="110" y="107" width="1.5" height="14.5" fill="#a9cf38"/>
<rect x="110" y="121" width="1.5" height="9.5" fill="#f4e31b"/>
<rect x="110" y="130" width="1.5" height="5.5" fill="#f8a51d"/>
<rect x="110" y="135" width="1.5" height="3.5" fill="#ef5123"/>
<rect x="110" y="138" width="1.5" height="9.5" fill="#dc2420"/>
<rect x="110" y="147" width="1.5" height="50.5" fill="#9e1b1f"/>
<rect x="111" y="43" width="1.5" height="31.5" fill="#27ade3"/>
<rect x="111" y="74" width="1.5" height="18.5" fill="#1fb5b0"/>
<rect x="111" y="92" width="1.5" height="12.5" fill="#40b64c"/>
<rect x="111" y="104" width="1.5" height="15.5" fill="#a9cf38"/>
<rect x="111" y="119" width="1.5" height="9.5" fill="#f4e31b"/>
<rect x="111" y="128" width="1.5" height="5.5" fill="#f8a51d"/>
<rect x="111" y="133" width="1.5" height="5.5" fill="#ef5123"/>
<rect x="111" y="138" width="1.5" height="7.5" fill="#dc2420"/>
<rect x="111" y="145" width="1.5" height="52.5" fill="#9e1b1f"/>
<rect x="112" y="43" width="1.5" height="27.5" fill="#27ade3"/>
<rect x="112" y="70" width="1.5" height="19.5" fill="#1fb5b0"/>
<rect x="112" y="89" width="1.5" height="13.5" fill="#40b64c"/>
<rect x="112" y="102" width="1.5" height="14.5" fill="#a9cf38"/>
<rect x="112" y="116" width="1.5" height="11.5" fill="#f4e31b"/>
<rect x="112" y="127" width="1.5" height="5.5" fill="#f8a51d"/>
<rect x="112" y="132" width="1.5" height="5.5" fill="#ef5123"/>
<rect x="112" y="137" width="1.5" height="7.5" fill="#dc2420"/>
<rect x="112" y="144" width="1.5" height="53.5" fill="#9e1b1f"/>
<rect x="113" y="43" width="1.5" height="23.5" fill="#27ade3"/>
<rect x="113" y="66" width="1.5" height="20.5" fill="#1fb5b0"/>
<rect x="113" y="86" width="1.5" height="13.5" fill="#40b64c"/>
<rect x="113" y="99" width="1.5" height="12.5" fill="#a9cf38"/>
<rect x="113" y="111" width="1.5" height="16.5" fill="#f4e31b"/>
<rect x="113" y="127" width="1.5" height="4.5" fill="#f8a51d"/>
<rect x="113" y="131" width="1.5" height="4.5" fill="#ef5123"/>
<rect x="113" y="135" width="1.5" height="8.5" fill="#dc2420"/>
<rect x="113" y="143" width="1.5" height="54.5" fill="#9e1b1f"/>
<rect x="114" y="43" width="1.5" height="16.5" fill="#27ade3"/>
<rect x="114" y="59" width="1.5" height="22.5" fill="#1fb5b0"/>
<rect x="114" y="81" width="1.5" height="15.5" fill="#40b64c"/>
<rect x="114" y="96" width="1.5" height="12.5" fill="#a9cf38"/>
<rect x="114" y="108" width="1.5" height="15.5" fill="#f4e31b"/>
<rect x="114" y="123" width="1.5" height="7.5" fill="#f8a51d"/>
<rect x="114" y="130" width="1.5" height="3.5" fill="#ef5123"/>
<rect x="114" y="133" width="1.5" height="8.5" fill="#dc2420"/>
<rect x="114" y="141" width="1.5" height="56.5" fill="#9e1b1f"/>
<rect x="115" y="43" width="1.5" height="16.5" fill="#27ade3"/>
<rect x="115" y="59" width="1.5" height="21.5" fill="#1fb5b0"/>
<rect x="115" y="80" width="1.5" height="15.5" fill="#40b64c"/>
<rect x="115" y="95" width="1.5" height="13.5" fill="#a9cf38"/>
<rect x="115" y="108" width="1.5" height="14.5" fill="#f4e31b"/>
<rect x="115" y="122" width="1.5" height="6.5" fill="#f8a51d"/>
<rect x="115" y="128" width="1.5" height="5.5" fill="#ef5123"/>
<rect x="115" y="133" width="1.5" height="7.5" fill="#dc2420"/>
<rect x="115" y="140" width="1.5" height="57.5" fill="#9e1b1f"/>
<rect x="116" y="43" width="1.5" height="15.5" fill="#27ade3"/>
<rect x="116" y="58" width="1.5" height="21.5" fill="#1fb5b0"/>
<rect x="116" y="79" width="1.5" height="16.5" fill="#40b64c"/>
<rect x="116" y="95" width="1.5" height="12.5" fill="#a9cf38"/>
<rect x="116" y="107" width="1.5" height="15.5" fill="#f4e31b"/>
<rect x="116" y="122" width="1.5" height="5.5" fill="#f8a51d"/>
<rect x="116" y="127" width="1.5" height="5.5" fill="#ef5123"/>
<rect x="116" y="132" width="1.5" height="7.5" fill="#dc2420"/>
<rect x="116" y="139" width="1.5" height="58.5" fill="#9e1b1f"/>
<rect x="117" y="43" width="1.5" height="13.5" fill="#27ade3"/>
<rect x="117" y="56" width="1.5" height="21.5" fill="#1fb5b0"/>
<rect x="117" y="77" width="1.5" height="17.5" fill="#40b64c"/>
<rect x="117" y="94" width="1.5" height="11.5" fill="#a9cf38"/>
<rect x="117" y="105" width="1.5" height="16.5" fill="#f4e31b"/>
<rect x="117" y="121" width="1.5" height="4.5" fill="#f8a51d"/>
<rect x="117" y="125" width="1.5" height="4.5" fill="#ef5123"/>
<rect x="117" y="129" width="1.5" height="9.5" fill="#dc2420"/>
<rect x="117" y="138" width="1.5" height="59.5" fill="#9e1b1f"/>
<rect x="118" y="43" width="1.5" height="14.5" fill="#27ade3"/>
<rect x="118" y="57" width="1.5" height="21.5" fill="#1fb5b0"/>
<rect x="118" y="78" width="1.5" height="16.5" fill="#40b64c"/>
<rect x="118" y="94" width="1.5" height="12.5" fill="#a9cf38"/>
<rect x="118" y="106" width="1.5" height="15.5" fill="#f4e31b"/>
<rect x="118" y="121" width="1.5" height="5.5" fill="#f8a51d"/>
<rect x="118" y="126" width="1.5" height="5.5" fill="#ef5123"/>
<rect x="118" y="131" width="1.5" height="7.5" fill="#dc2420"/>
<rect x="118" y="138" width="1.5" height="59.5" fill="#9e1b1f"/>
<rect x="119" y="43" width="1.5" height="15.5" fill="#27ade3"/>
<rect x="119" y="58" width="1.5" height="21.5" fill="#1fb5b0"/>
<rect x="119" y="79" width="1.5" height="15.5" fill="#40b64c"/>
<rect x="119" y="94" width="1.5" height="13.5" fill="#a9cf38"/>
<rect x="119" y="107" width="1.5" height="14.5" fill="#f4e31b"/>
<rect x="119" y="121" width="1.5" height="6.5" fill="#f8a51d"/>
<rect x="119" y="127" width="1.5" height="5.5" fill="#ef5123"/>
<rect x="119" y="132" width="1.5" height="7.5" fill="#dc2420"/>
<rect x="119" y="139" width="1.5" height="58.5" fill="#9e1b1f"/>
<rect x="120" y="43" width="1.5" height="20.5" fill="#27ade3"/>
<rect x="120" y="63" width="1.5" height="20.5" fill="#1fb5b0"/>
<rect x="120" y="83" width="1.5" height="13.5" fill="#40b64c"/>
<rect x="120" y="96" width="1.5" height="12.5" fill="#a9cf38"/>
<rect x="120" y="108" width="1.5" height="15.5" fill="#f4e31b"/>
<rect x="120" y="123" width="1.5" height="5.5" fill="#f8a51d"/>
<rect x="120" y="128" width="1.5" height="4.5" fill="#ef5123"/>
<rect x="120" y="132" width="1.5" height="9.5" fill="#dc2420"/>
<rect x="120" y="141" width="1.5" height="56.5" fill="#9e1b1f"/>
<rect x="121" y="43" width="1.5" height="25.5" fill="#27ade3"/>
<rect x="121" y="68" width="1.5" height="19.5" fill="#1fb5b0"/>
<rect x="121" y="87" width="1.5" height="13.5" fill="#40b64c"/>
<rect x="121" y="100" width="1.5" height="12.5" fill="#a9cf38"/>
<rect x="121" y="112" width="1.5" height="13.5" fill="#f4e31b"/>
<rect x="121" y="125" width="1.5" height="4.5" fill="#f8a51d"/>
<rect x="121" y="129" width="1.5" height="5.5" fill="#ef5123"/>
<rect x="121" y="134" width="1.5" height="8.5" fill="#dc2420"/>
<rect x="121" y="142" width="1.5" height="55.5" fill="#9e1b1f"/>
<rect x="122" y="43" width="1.5" height="1.5" fill="#1f84cc"/>
<rect x="122" y="44" width="1.5" height="30.5" fill="#27ade3"/>
<rect x="122" y="74" width="1.5" height="18.5" fill="#1fb5b0"/>
<rect x="122" y="92" width="1.5" height="12.5" fill="#40b64c"/>
<rect x="122" y="104" width="1.5" height="13.5" fill="#a9cf38"/>
<rect x="122" y="117" width="1.5" height="9.5" fill="#f4e31b"/>
<rect x="122" y="126" width="1.5" height="4.5" fill="#f8a51d"/>
<rect x="122" y="130" width="1.5" height="5.5" fill="#ef5123"/>
<rect x="122" y="135" width="1.5" height="8.5" fill="#dc2420"/>
<rect x="122" y="143" width="1.5" height="54.5" fill="#9e1b1f"/>
<rect x="123" y="43" width="1.5" height="12.5" fill="#1f84cc"/>
<rect x="123" y="55" width="1.5" height="29.5" fill="#27ade3"/>
<rect x="123" y="84" width="1.5" height="14.5" fill="#1fb5b0"/>
<rect x="123" y="98" width="1.5" height="11.5" fill="#40b64c"/>
<rect x="123" y="109" width="1.5" height="12.5" fill="#a9cf38"/>
<rect x="123" y="121" width="1.5" height="8.5" fill="#f4e31b"/>
<rect x="123" y="129" width="1.5" height="3.5" fill="#f8a51d"/>
<rect x="123" y="132" width="1.5" height="5.5" fill="#ef5123"/>
<rect x="123" y="137" width="1.5" height="8.5" fill="#dc2420"/>
<rect x="123" y="145" width="1.5" height="52.5" fill="#9e1b1f"/>
<rect x="124" y="43" width="1.5" height="19.5" fill="#1f84cc"/>
<rect x="124" y="62" width="1.5" height="27.5" fill="#27ade3"/>
<rect x="124" y="89" width="1.5" height="14.5" fill="#1fb5b0"/>
<rect x="124" y="103" width="1.5" height="11.5" fill="#40b64c"/>
<rect x="124" y="114" width="1.5" height="10.5" fill="#a9cf38"/>
<rect x="124" y="124" width="1.5" height="7.5" fill="#f4e31b"/>
<rect x="124" y="131" width="1.5" height="4.5" fill="#f8a51d"/>
<rect x="124" y="135" width="1.5" height="6.5" fill="#ef5123"/>
<rect x="124" y="141" width="1.5" height="7.5" fill="#dc2420"/>
<rect x="124" y="148" width="1.5" height="49.5" fill="#9e1b1f"/>
<rect x="125" y="43" width="1.5" height="20.5" fill="#1f84cc"/>
<rect x="125" y="63" width="1.5" height="28.5" fill="#27ade3"/>
<rect x="125" y="91" width="1.5" height="15.5" fill="#1fb5b0"/>
<rect x="125" y="106" width="1.5" height="11.5" fill="#40b64c"/>
<rect x="125" y="117" width="1.5" height="10.5" fill="#a9cf38"/>
<rect x="125" y="127" width="1.5" height="5.5" fill="#f4e31b"/>
<rect x="125" y="132" width="1.5" height="4.5" fill="#f8a51d"/>
<rect x="125" y="136" width="1.5" height="7.5" fill="#ef5123"/>
<rect x="125" y="143" width="1.5" height="6.5" fill="#dc2420"/>
<rect x="125" y="149" width="1.5" height="48.5" fill="#9e1b1f"/>
<rect x="126" y="43" width="1.5" height="21.5" fill="#1f84cc"/>
<rect x="126" y="64" width="1.5" height="29.5" fill="#27ade3"/>
<rect x="126" y="93" width="1.5" height="15.5" fill="#1fb5b0"/>
<rect x="126" y="108" width="1.5" height="12.5" fill="#40b64c"/>
<rect x="126" y="120" width="1.5" height="9.5" fill="#a9cf38"/>
<rect x="126" y="129" width="1.5" height="5.5" fill="#f4e31b"/>
<rect x="126" y="134" width="1.5" height="4.5" fill="#f8a51d"/>
<rect x="126" y="138" width="1.5" height="7.5" fill="#ef5123"/>
<rect x="126" y="145" width="1.5" height="6.5" fill="#dc2420"/>
<rect x="126" y="151" width="1.5" height="46.5" fill="#9e1b1f"/>
<rect x="127" y="43" width="1.5" height="25.5" fill="#1f84cc"/>
<rect x="127" y="68" width="1.5" height="29.5" fill="#27ade3"/>
<rect x="127" y="97" width="1.5" height="15.5" fill="#1fb5b0"/>
<rect x="127" y="112" width="1.5" height="12.5" fill="#40b64c"/>
<rect x="127" y="124" width="1.5" height="7.5" fill="#a9cf38"/>
<rect x="127" y="131" width="1.5" height="4.5" fill="#f4e31b"/>
<rect x="127" y="135" width="1.5" height="6.5" fill="#f8a51d"/>
<rect x="127" y="141" width="1.5" height="6.5" fill="#ef5123"/>
<rect x="127" y="147" width="1.5" height="6.5" fill="#dc2420"/>
<rect x="127" y="153" width="1.5" height="44.5" fill="#9e1b1f"/>
<rect x="128" y="43" width="1.5" height="33.5" fill="#1f84cc"/>
<rect x="128" y="76" width="1.5" height="25.5" fill="#27ade3"/>
<rect x="128" y="101" width="1.5" height="16.5" fill="#1fb5b0"/>
<rect x="128" y="117" width="1.5" height="11.5" fill="#40b64c"/>
<rect x="128" y="128" width="1.5" height="5.5" fill="#a9cf38"/>
<rect x="128" y="133" width="1.5" height="5.5" fill="#f4e31b"/>
<rect x="128" y="138" width="1.5" height="7.5" fill="#f8a51d"/>
<rect x="128" y="145" width="1.5" height="5.5" fill="#ef5123"/>
<rect x="128" y="150" width="1.5" height="6.5" fill="#dc2420"/>
<rect x="128" y="156" width="1.5" height="41.5" fill="#9e1b1f"/>
<rect x="129" y="43" width="1.5" height="44.5" fill="#1f84cc"/>
<rect x="129" y="87" width="1.5" height="19.5" fill="#27ade3"/>
<rect x="129" y="106" width="1.5" height="15.5" fill="#1fb5b0"/>
<rect x="129" y="121" width="1.5" height="9.5" fill="#40b64c"/>
<rect x="129" y="130" width="1.5" height="5.5" fill="#a9cf38"/>
<rect x="129" y="135" width="1.5" height="5.5" fill="#f4e31b"/>
<rect x="129" y="140" width="1.5" height="7.5" fill="#f8a51d"/>
<rect x="129" y="147" width="1.5" height="4.5" fill="#ef5123"/>
<rect x="129" y="151" width="1.5" height="8.5" fill="#dc2420"/>
<rect x="129" y="159" width="1.5" height="38.5" fill="#9e1b1f"/>
<rect x="130" y="43" width="1.5" height="48.5" fill="#1f84cc"/>
<rect x="130" y="91" width="1.5" height="21.5" fill="#27ade3"/>
<rect x="130" y="112" width="1.5" height="14.5" fill="#1fb5b0"/>
<rect x="130" y="126" width="1.5" height="6.5" fill="#40b64c"/>
<rect x="130" y="132" width="1.5" height="4.5" fill="#a9cf38"/>
<rect x="130" y="136" width="1.5" height="8.5" fill="#f4e31b"/>
<rect x="130" y="144" width="1.5" height="5.5" fill="#f8a51d"/>
<rect x="130" y="149" width="1.5" height="3.5" fill="#ef5123"/>
<rect x="130" y="152" width="1.5" height="9.5" fill="#dc2420"/>
<rect x="130" y="161" width="1.5" height="36.5" fill="#9e1b1f"/>
<rect x="131" y="43" width="1.5" height="49.5" fill="#1f84cc"/>
<rect x="131" y="92" width="1.5" height="23.5" fill="#27ade3"/>
<rect x="131" y="115" width="1.5" height="14.5" fill="#1fb5b0"/>
<rect x="131" y="129" width="1.5" height="4.5" fill="#40b64c"/>
<rect x="131" y="133" width="1.5" height="5.5" fill="#a9cf38"/>
<rect x="131" y="138" width="1.5" height="8.5" fill="#f4e31b"/>
<rect x="131" y="146" width="1.5" height="4.5" fill="#f8a51d"/>
<rect x="131" y="150" width="1.5" height="5.5" fill="#ef5123"/>
<rect x="131" y="155" width="1.5" height="8.5" fill="#dc2420"/>
<rect x="131" y="163" width="1.5" height="34.5" fill="#9e1b1f"/>
<rect x="132" y="43" width="1.5" height="47.5" fill="#1f84cc"/>
<rect x="132" y="90" width="1.5" height="26.5" fill="#27ade3"/>
<rect x="132" y="116" width="1.5" height="13.5" fill="#1fb5b0"/>
<rect x="132" y="129" width="1.5" height="5.5" fill="#40b64c"/>
<rect x="132" y="134" width="1.5" height="7.5" fill="#a9cf38"/>
<rect x="132" y="141" width="1.5" height="6.5" fill="#f4e31b"/>
<rect x="132" y="147" width="1.5" height="4.5" fill="#f8a51d"/>
<rect x="132" y="151" width="1.5" height="6.5" fill="#ef5123"/>
<rect x="132" y="157" width="1.5" height="7.5" fill="#dc2420"/>
<rect x="132" y="164" width="1.5" height="33.5" fill="#9e1b1f"/>
<rect x="133" y="43" width="1.5" height="35.5" fill="#1f84cc"/>
<rect x="133" y="78" width="1.5" height="37.5" fill="#27ade3"/>
<rect x="133" y="115" width="1.5" height="14.5" fill="#1fb5b0"/>
<rect x="133" y="129" width="1.5" height="6.5" fill="#40b64c"/>
<rect x="133" y="135" width="1.5" height="7.5" fill="#a9cf38"/>
<rect x="133" y="142" width="1.5" height="5.5" fill="#f4e31b"/>
<rect x="133" y="147" width="1.5" height="5.5" fill="#f8a51d"/>
<rect x="133" y="152" width="1.5" height="7.5" fill="#ef5123"/>
<rect x="133" y="159" width="1.5" height="5.5" fill="#dc2420"/>
<rect x="133" y="164" width="1.5" height="33.5" fill="#9e1b1f"/>
<rect x="134" y="43" width="1.5" height="10.5" fill="#1f84cc"/>
<rect x="134" y="53" width="1.5" height="62.5" fill="#27ade3"/>
<rect x="134" y="115" width="1.5" height="14.5" fill="#1fb5b0"/>
<rect x="134" y="129" width="1.5" height="7.5" fill="#40b64c"/>
<rect x="134" y="136" width="1.5" height="7.5" fill="#a9cf38"/>
<rect x="134" y="143" width="1.5" height="4.5" fill="#f4e31b"/>
<rect x="134" y="147" width="1.5" height="6.5" fill="#f8a51d"/>
<rect x="134" y="153" width="1.5" height="6.5" fill="#ef5123"/>
<rect x="134" y="159" width="1.5" height="6.5" fill="#dc2420"/>
<rect x="134" y="165" width="1.5" height="32.5" fill="#9e1b1f"/>
<rect x="135" y="43" width="1.5" height="73.5" fill="#27ade3"/>
<rect x="135" y="116" width="1.5" height="14.5" fill="#1fb5b0"/>
<rect x="135" y="130" width="1.5" height="8.5" fill="#40b64c"/>
<rect x="135" y="138" width="1.5" height="6.5" fill="#a9cf38"/>
<rect x="135" y="144" width="1.5" height="5.5" fill="#f4e31b"/>
<rect x="135" y="149" width="1.5" height="7.5" fill="#f8a51d"/>
<rect x="135" y="156" width="1.5" height="4.5" fill="#ef5123"/>
<rect x="135" y="160" width="1.5" height="7.5" fill="#dc2420"/>
<rect x="135" y="167" width="1.5" height="30.5" fill="#9e1b1f"/>
<rect x="136" y="43" width="1.5" height="77.5" fill="#27ade3"/>
<rect x="136" y="120" width="1.5" height="13.5" fill="#1fb5b0"/>
<rect x="136" y="133" width="1.5" height="7.5" fill="#40b64c"/>
<rect x="136" y="140" width="1.5" height="5.5" fill="#a9cf38"/>
<rect x="136" y="145" width="1.5" height="6.5" fill="#f4e31b"/>
<rect x="136" y="151" width="1.5" height="6.5" fill="#f8a51d"/>
<rect x="136" y="157" width="1.5" height="4.5" fill="#ef5123"/>
<rect x="136" y="161" width="1.5" height="9.5" fill="#dc2420"/>
<rect x="136" y="170" width="1.5" height="27.5" fill="#9e1b1f"/>
<rect x="137" y="43" width="1.5" height="81.5" fill="#27ade3"/>
<rect x="137" y="124" width="1.5" height="12.5" fill="#1fb5b0"/>
<rect x="137" y="136" width="1.5" height="5.5" fill="#40b64c"/>
<rect x="137" y="141" width="1.5" height="5.5" fill="#a9cf38"/>
<rect x="137" y="146" width="1.5" height="8.5" fill="#f4e31b"/>
<rect x="137" y="154" width="1.5" height="4.5" fill="#f8a51d"/>
<rect x="137" y="158" width="1.5" height="4.5" fill="#ef5123"/>
<rect x="137" y="162" width="1.5" height="9.5" fill="#dc2420"/>
<rect x="137" y="171" width="1.5" height="26.5" fill="#9e1b1f"/>
<rect x="138" y="43" width="1.5" height="82.5" fill="#27ade3"/>
<rect x="138" y="125" width="1.5" height="13.5" fill="#1fb5b0"/>
<rect x="138" y="138" width="1.5" height="4.5" fill="#40b64c"/>
<rect x="138" y="142" width="1.5" height="6.5" fill="#a9cf38"/>
<rect x="138" y="148" width="1.5" height="8.5" fill="#f4e31b"/>
<rect x="138" y="156" width="1.5" height="4.5" fill="#f8a51d"/>
<rect x="138" y="160" width="1.5" height="5.5" fill="#ef5123"/>
<rect x="138" y="165" width="1.5" height="8.5" fill="#dc2420"/>
<rect x="138" y="173" width="1.5" height="24.5" fill="#9e1b1f"/>
<rect x="139" y="43" width="1.5" height="82.5" fill="#27ade3"/>
<rect x="139" y="125" width="1.5" height="13.5" fill="#1fb5b0"/>
<rect x="139" y="138" width="1.5" height="6.5" fill="#40b64c"/>
<rect x="139" y="144" width="1.5" height="8.5" fill="#a9cf38"/>
<rect x="139" y="152" width="1.5" height="5.5" fill="#f4e31b"/>
<rect x="139" y="157" width="1.5" height="4.5" fill="#f8a51d"/>
<rect x="139" y="161" width="1.5" height="7.5" fill="#ef5123"/>
<rect x="139" y="168" width="1.5" height="6.5" fill="#dc2420"/>
<rect x="139" y="174" width="1.5" height="23.5" fill="#9e1b1f"/>
<rect x="140" y="43" width="1.5" height="82.5" fill="#27ade3"/>
<rect x="140" y="125" width="1.5" height="13.5" fill="#1fb5b0"/>
<rect x="140" y="138" width="1.5" height="7.5" fill="#40b64c"/>
<rect x="140" y="145" width="1.5" height="10.5" fill="#a9cf38"/>
<rect x="140" y="155" width="1.5" height="4.5" fill="#f4e31b"/>
<rect x="140" y="159" width="1.5" height="4.5" fill="#f8a51d"/>
<rect x="140" y="163" width="1.5" height="8.5" fill="#ef5123"/>
<rect x="140" y="171" width="1.5" height="4.5" fill="#dc2420"/>
<rect x="140" y="175" width="1.5" height="22.5" fill="#9e1b1f"/>
<rect x="141" y="43" width="1.5" height="81.5" fill="#27ade3"/>
<rect x="141" y="124" width="1.5" height="15.5" fill="#1fb5b0"/>
<rect x="141" y="139" width="1.5" height="9.5" fill="#40b64c"/>
<rect x="141" y="148" width="1.5" height="9.5" fill="#a9cf38"/>
<rect x="141" y="157" width="1.5" height="3.5" fill="#f4e31b"/>
<rect x="141" y="160" width="1.5" height="6.5" fill="#f8a51d"/>
<rect x="141" y="166" width="1.5" height="6.5" fill="#ef5123"/>
<rect x="141" y="172" width="1.5" height="4.5" fill="#dc2420"/>
<rect x="141" y="176" width="1.5" height="21.5" fill="#9e1b1f"/>
<rect x="142" y="43" width="1.5" height="79.5" fill="#27ade3"/>
<rect x="142" y="122" width="1.5" height="18.5" fill="#1fb5b0"/>
<rect x="142" y="140" width="1.5" height="13.5" fill="#40b64c"/>
<rect x="142" y="153" width="1.5" height="5.5" fill="#a9cf38"/>
<rect x="142" y="158" width="1.5" height="4.5" fill="#f4e31b"/>
<rect x="142" y="162" width="1.5" height="7.5" fill="#f8a51d"/>
<rect x="142" y="169" width="1.5" height="4.5" fill="#ef5123"/>
<rect x="142" y="173" width="1.5" height="5.5" fill="#dc2420"/>
<rect x="142" y="178" width="1.5" height="19.5" fill="#9e1b1f"/>
<rect x="143" y="43" width="1.5" height="57.5" fill="#27ade3"/>
<rect x="143" y="100" width="1.5" height="41.5" fill="#1fb5b0"/>
<rect x="143" y="141" width="1.5" height="15.5" fill="#40b64c"/>
<rect x="143" y="156" width="1.5" height="4.5" fill="#a9cf38"/>
<rect x="143" y="160" width="1.5" height="4.5" fill="#f4e31b"/>
<rect x="143" y="164" width="1.5" height="7.5" fill="#f8a51d"/>
<rect x="143" y="171" width="1.5" height="3.5" fill="#ef5123"/>
<rect x="143" y="174" width="1.5" height="6.5" fill="#dc2420"/>
<rect x="143" y="180" width="1.5" height="17.5" fill="#9e1b1f"/>
<rect x="144" y="43" width="1.5" height="100.5" fill="#1fb5b0"/>
<rect x="144" y="143" width="1.5" height="14.5" fill="#40b64c"/>
<rect x="144" y="157" width="1.5" height="4.5" fill="#a9cf38"/>
<rect x="144" y="161" width="1.5" height="6.5" fill="#f4e31b"/>
<rect x="144" y="167" width="1.5" height="4.5" fill="#f8a51d"/>
<rect x="144" y="171" width="1.5" height="3.5" fill="#ef5123"/>
<rect x="144" y="174" width="1.5" height="6.5" fill="#dc2420"/>
<rect x="144" y="180" width="1.5" height="17.5" fill="#9e1b1f"/>
<rect x="145" y="43" width="1.5" height="10.5" fill="#27ade3"/>
<rect x="145" y="53" width="1.5" height="97.5" fill="#1fb5b0"/>
<rect x="145" y="150" width="1.5" height="9.5" fill="#40b64c"/>
<rect x="145" y="159" width="1.5" height="4.5" fill="#a9cf38"/>
<rect x="145" y="163" width="1.5" height="6.5" fill="#f4e31b"/>
<rect x="145" y="169" width="1.5" height="3.5" fill="#f8a51d"/>
<rect x="145" y="172" width="1.5" height="3.5" fill="#ef5123"/>
<rect x="145" y="175" width="1.5" height="7.5" fill="#dc2420"/>
<rect x="145" y="182" width="1.5" height="15.5" fill="#9e1b1f"/>
<rect x="146" y="43" width="1.5" height="60.5" fill="#27ade3"/>
<rect x="146" y="103" width="1.5" height="51.5" fill="#1fb5b0"/>
<rect x="146" y="154" width="1.5" height="6.5" fill="#40b64c"/>
<rect x="146" y="160" width="1.5" height="5.5" fill="#a9cf38"/>
<rect x="146" y="165" width="1.5" height="5.5" fill="#f4e31b"/>
<rect x="146" y="170" width="1.5" height="3.5" fill="#f8a51d"/>
<rect x="146" y="173" width="1.5" height="4.5" fill="#ef5123"/>
<rect x="146" y="177" width="1.5" height="6.5" fill="#dc2420"/>
<rect x="146" y="183" width="1.5" height="14.5" fill="#9e1b1f"/>
<rect x="147" y="43" width="1.5" height="79.5" fill="#27ade3"/>
<rect x="147" y="122" width="1.5" height="34.5" fill="#1fb5b0"/>
<rect x="147" y="156" width="1.5" height="5.5" fill="#40b64c"/>
<rect x="147" y="161" width="1.5" height="6.5" fill="#a9cf38"/>
<rect x="147" y="167" width="1.5" height="4.5" fill="#f4e31b"/>
<rect x="147" y="171" width="1.5" height="3.5" fill="#f8a51d"/>
<rect x="147" y="174" width="1.5" height="5.5" fill="#ef5123"/>
<rect x="147" y="179" width="1.5" height="5.5" fill="#dc2420"/>
<rect x="147" y="184" width="1.5" height="13.5" fill="#9e1b1f"/>
<rect x="148" y="43" width="1.5" height="83.5" fill="#27ade3"/>
<rect x="148" y="126" width="1.5" height="30.5" fill="#1fb5b0"/>
<rect x="148" y="156" width="1.5" height="7.5" fill="#40b64c"/>
<rect x="148" y="163" width="1.5" height="5.5" fill="#a9cf38"/>
<rect x="148" y="168" width="1.5" height="3.5" fill="#f4e31b"/>
<rect x="148" y="171" width="1.5" height="5.5" fill="#f8a51d"/>
<rect x="148" y="176" width="1.5" height="3.5" fill="#ef5123"/>
<rect x="148" y="179" width="1.5" height="6.5" fill="#dc2420"/>
<rect x="148" y="185" width="1.5" height="12.5" fill="#9e1b1f"/>
<rect x="149" y="43" width="1.5" height="88.5" fill="#27ade3"/>
<rect x="149" y="131" width="1.5" height="26.5" fill="#1fb5b0"/>
<rect x="149" y="157" width="1.5" height="7.5" fill="#40b64c"/>
<rect x="149" y="164" width="1.5" height="4.5" fill="#a9cf38"/>
<rect x="149" y="168" width="1.5" height="4.5" fill="#f4e31b"/>
<rect x="149" y="172" width="1.5" height="4.5" fill="#f8a51d"/>
<rect x="149" y="176" width="1.5" height="3.5" fill="#ef5123"/>
<rect x="149" y="179" width="1.5" height="6.5" fill="#dc2420"/>
<rect x="149" y="185" width="1.5" height="12.5" fill="#9e1b1f"/>
<rect x="150" y="43" width="1.5" height="88.5" fill="#27ade3"/>
<rect x="150" y="131" width="1.5" height="27.5" fill="#1fb5b0"/>
<rect x="150" y="158" width="1.5" height="7.5" fill="#40b64c"/>
<rect x="150" y="165" width="1.5" height="4.5" fill="#a9cf38"/>
<rect x="150" y="169" width="1.5" height="4.5" fill="#f4e31b"/>
<rect x="150" y="173" width="1.5" height="4.5" fill="#f8a51d"/>
<rect x="150" y="177" width="1.5" height="2.5" fill="#ef5123"/>
<rect x="150" y="179" width="1.5" height="6.5" fill="#dc2420"/>
<rect x="150" y="185" width="1.5" height="12.5" fill="#9e1b1f"/>
<rect x="151" y="43" width="1.5" height="88.5" fill="#27ade3"/>
<rect x="151" y="131" width="1.5" height="30.5" fill="#1fb5b0"/>
<rect x="151" y="161" width="1.5" height="6.5" fill="#40b64c"/>
<rect x="151" y="167" width="1.5" height="4.5" fill="#a9cf38"/>
<rect x="151" y="171" width="1.5" height="5.5" fill="#f4e31b"/>
<rect x="151" y="176" width="1.5" height="3.5" fill="#f8a51d"/>
<rect x="151" y="179" width="1.5" height="2.5" fill="#ef5123"/>
<rect x="151" y="181" width="1.5" height="6.5" fill="#dc2420"/>
<rect x="151" y="187" width="1.5" height="10.5" fill="#9e1b1f"/>
<rect x="152" y="43" width="1.5" height="92.5" fill="#27ade3"/>
<rect x="152" y="135" width="1.5" height="30.5" fill="#1fb5b0"/>
<rect x="152" y="165" width="1.5" height="4.5" fill="#40b64c"/>
<rect x="152" y="169" width="1.5" height="3.5" fill="#a9cf38"/>
<rect x="152" y="172" width="1.5" height="6.5" fill="#f4e31b"/>
<rect x="152" y="178" width="1.5" height="2.5" fill="#f8a51d"/>
<rect x="152" y="180" width="1.5" height="2.5" fill="#ef5123"/>
<rect x="152" y="182" width="1.5" height="6.5" fill="#dc2420"/>
<rect x="152" y="188" width="1.5" height="9.5" fill="#9e1b1f"/>
<rect x="153" y="43" width="1.5" height="98.5" fill="#27ade3"/>
<rect x="153" y="141" width="1.5" height="24.5" fill="#1fb5b0"/>
<rect x="153" y="165" width="1.5" height="4.5" fill="#40b64c"/>
<rect x="153" y="169" width="1.5" height="4.5" fill="#a9cf38"/>
<rect x="153" y="173" width="1.5" height="5.5" fill="#f4e31b"/>
<rect x="153" y="178" width="1.5" height="2.5" fill="#f8a51d"/>
<rect x="153" y="180" width="1.5" height="3.5" fill="#ef5123"/>
<rect x="153" y="183" width="1.5" height="6.5" fill="#dc2420"/>
<rect x="153" y="189" width="1.5" height="8.5" fill="#9e1b1f"/>
<rect x="154" y="43" width="1.5" height="103.5" fill="#27ade3"/>
<rect x="154" y="146" width="1.5" height="19.5" fill="#1fb5b0"/>
<rect x="154" y="165" width="1.5" height="3.5" fill="#40b64c"/>
<rect x="154" y="168" width="1.5" height="4.5" fill="#a9cf38"/>
<rect x="154" y="172" width="1.5" height="5.5" fill="#f4e31b"/>
<rect x="154" y="177" width="1.5" height="3.5" fill="#f8a51d"/>
<rect x="154" y="180" width="1.5" height="2.5" fill="#ef5123"/>
<rect x="154" y="182" width="1.5" height="7.5" fill="#dc2420"/>
<rect x="154" y="189" width="1.5" height="8.5" fill="#9e1b1f"/>
<rect x="155" y="43" width="1.5" height="3.5" fill="#1f84cc"/>
<rect x="155" y="46" width="1.5" height="103.5" fill="#27ade3"/>
<rect x="155" y="149" width="1.5" height="15.5" fill="#1fb5b0"/>
<rect x="155" y="164" width="1.5" height="3.5" fill="#40b64c"/>
<rect x="155" y="167" width="1.5" height="4.5" fill="#a9cf38"/>
<rect x="155" y="171" width="1.5" height="5.5" fill="#f4e31b"/>
<rect x="155" y="176" width="1.5" height="3.5" fill="#f8a51d"/>
<rect x="155" y="179" width="1.5" height="3.5" fill="#ef5123"/>
<rect x="155" y="182" width="1.5" height="6.5" fill="#dc2420"/>
<rect x="155" y="188" width="1.5" height="9.5" fill="#9e1b1f"/>
<rect x="156" y="43" width="1.5" height="10.5" fill="#1f84cc"/>
<rect x="156" y="53" width="1.5" height="100.5" fill="#27ade3"/>
<rect x="156" y="153" width="1.5" height="11.5" fill="#1fb5b0"/>
<rect x="156" y="164" width="1.5" height="3.5" fill="#40b64c"/>
<rect x="156" y="167" width="1.5" height="3.5" fill="#a9cf38"/>
<rect x="156" y="170" width="1.5" height="6.5" fill="#f4e31b"/>
<rect x="156" y="176" width="1.5" height="2.5" fill="#f8a51d"/>
<rect x="156" y="178" width="1.5" height="3.5" fill="#ef5123"/>
<rect x="156" y="181" width="1.5" height="7.5" fill="#dc2420"/>
<rect x="156" y="188" width="1.5" height="9.5" fill="#9e1b1f"/>
<rect x="157" y="43" width="1.5" height="13.5" fill="#1f84cc"/>
<rect x="157" y="56" width="1.5" height="99.5" fill="#27ade3"/>
<rect x="157" y="155" width="1.5" height="9.5" fill="#1fb5b0"/>
<rect x="157" y="164" width="1.5" height="2.5" fill="#40b64c"/>
<rect x="157" y="166" width="1.5" height="3.5" fill="#a9cf38"/>
<rect x="157" y="169" width="1.5" height="7.5" fill="#f4e31b"/>
<rect x="157" y="176" width="1.5" height="2.5" fill="#f8a51d"/>
<rect x="157" y="178" width="1.5" height="2.5" fill="#ef5123"/>
<rect x="157" y="180" width="1.5" height="8.5" fill="#dc2420"/>
<rect x="157" y="188" width="1.5" height="9.5" fill="#9e1b1f"/>
<rect x="158" y="43" width="1.5" height="12.5" fill="#1f84cc"/>
<rect x="158" y="55" width="1.5" height="98.5" fill="#27ade3"/>
<rect x="158" y="153" width="1.5" height="10.5" fill="#1fb5b0"/>
<rect x="158" y="163" width="1.5" height="3.5" fill="#40b64c"/>
<rect x="158" y="166" width="1.5" height="3.5" fill="#a9cf38"/>
<rect x="158" y="169" width="1.5" height="6.5" fill="#f4e31b"/>
<rect x="158" y="175" width="1.5" height="3.5" fill="#f8a51d"/>
<rect x="158" y="178" width="1.5" height="2.5" fill="#ef5123"/>
<rect x="158" y="180" width="1.5" height="7.5" fill="#dc2420"/>
<rect x="158" y="187" width="1.5" height="10.5" fill="#9e1b1f"/>
<rect x="159" y="43" width="1.5" height="10.5" fill="#1f84cc"/>
<rect x="159" y="53" width="1.5" height="97.5" fill="#27ade3"/>
<rect x="159" y="150" width="1.5" height="13.5" fill="#1fb5b0"/>
<rect x="159" y="163" width="1.5" height="3.5" fill="#40b64c"/>
<rect x="159" y="166" width="1.5" height="3.5" fill="#a9cf38"/>
<rect x="159" y="169" width="1.5" height="6.5" fill="#f4e31b"/>
<rect x="159" y="175" width="1.5" height="3.5" fill="#f8a51d"/>
<rect x="159" y="178" width="1.5" height="2.5" fill="#ef5123"/>
<rect x="159" y="180" width="1.5" height="7.5" fill="#dc2420"/>
<rect x="159" y="187" width="1.5" height="10.5" fill="#9e1b1f"/>
<rect x="160" y="43" width="1.5" height="14.5" fill="#1f84cc"/>
<rect x="160" y="57" width="1.5" height="97.5" fill="#27ade3"/>
<rect x="160" y="154" width="1.5" height="10.5" fill="#1fb5b0"/>
<rect x="160" y="164" width="1.5" height="3.5" fill="#40b64c"/>
<rect x="160" y="167" width="1.5" height="3.5" fill="#a9cf38"/>
<rect x="160" y="170" width="1.5" height="6.5" fill="#f4e31b"/>
<rect x="160" y="176" width="1.5" height="2.5" fill="#f8a51d"/>
<rect x="160" y="178" width="1.5" height="3.5" fill="#ef5123"/>
<rect x="160" y="181" width="1.5" height="7.5" fill="#dc2420"/>
<rect x="160" y="188" width="1.5" height="9.5" fill="#9e1b1f"/>
<rect x="161" y="43" width="1.5" height="21.5" fill="#1f84cc"/>
<rect x="161" y="64" width="1.5" height="92.5" fill="#27ade3"/>
<rect x="161" y="156" width="1.5" height="9.5" fill="#1fb5b0"/>
<rect x="161" y="165" width="1.5" height="3.5" fill="#40b64c"/>
<rect x="161" y="168" width="1.5" height="2.5" fill="#a9cf38"/>
<rect x="161" y="170" width="1.5" height="7.5" fill="#f4e31b"/>
<rect x="161" y="177" width="1.5" height="2.5" fill="#f8a51d"/>
<rect x="161" y="179" width="1.5" height="3.5" fill="#ef5123"/>
<rect x="161" y="182" width="1.5" height="8.5" fill="#dc2420"/>
<rect x="161" y="190" width="1.5" height="7.5" fill="#9e1b1f"/>
<rect x="162" y="43" width="1.5" height="30.5" fill="#1f84cc"/>
<rect x="162" y="73" width="1.5" height="84.5" fill="#27ade3"/>
<rect x="162" y="157" width="1.5" height="8.5" fill="#1fb5b0"/>
<rect x="162" y="165" width="1.5" height="3.5" fill="#40b64c"/>
<rect x="162" y="168" width="1.5" height="3.5" fill="#a9cf38"/>
<rect x="162" y="171" width="1.5" height="6.5" fill="#f4e31b"/>
<rect x="162" y="177" width="1.5" height="2.5" fill="#f8a51d"/>
<rect x="162" y="179" width="1.5" height="3.5" fill="#ef5123"/>
<rect x="162" y="182" width="1.5" height="8.5" fill="#dc2420"/>
<rect x="162" y="190" width="1.5" height="7.5" fill="#9e1b1f"/>
<rect x="163" y="43" width="1.5" height="37.5" fill="#1f84cc"/>
<rect x="163" y="80" width="1.5" height="77.5" fill="#27ade3"/>
<rect x="163" y="157" width="1.5" height="7.5" fill="#1fb5b0"/>
<rect x="163" y="164" width="1.5" height="3.5" fill="#40b64c"/>
<rect x="163" y="167" width="1.5" height="3.5" fill="#a9cf38"/>
<rect x="163" y="170" width="1.5" height="6.5" fill="#f4e31b"/>
<rect x="163" y="176" width="1.5" height="3.5" fill="#f8a51d"/>
<rect x="163" y="179" width="1.5" height="3.5" fill="#ef5123"/>
<rect x="163" y="182" width="1.5" height="8.5" fill="#dc2420"/>
<rect x="163" y="190" width="1.5" height="7.5" fill="#9e1b1f"/>
<rect x="164" y="43" width="1.5" height="45.5" fill="#1f84cc"/>
<rect x="164" y="88" width="1.5" height="69.5" fill="#27ade3"/>
<rect x="164" y="157" width="1.5" height="7.5" fill="#1fb5b0"/>
<rect x="164" y="164" width="1.5" height="3.5" fill="#40b64c"/>
<rect x="164" y="167" width="1.5" height="3.5" fill="#a9cf38"/>
<rect x="164" y="170" width="1.5" height="6.5" fill="#f4e31b"/>
<rect x="164" y="176" width="1.5" height="2.5" fill="#f8a51d"/>
<rect x="164" y="178" width="1.5" height="4.5" fill="#ef5123"/>
<rect x="164" y="182" width="1.5" height="8.5" fill="#dc2420"/>
<rect x="164" y="190" width="1.5" height="7.5" fill="#9e1b1f"/>
<rect x="165" y="43" width="1.5" height="40.5" fill="#1f84cc"/>
<rect x="165" y="83" width="1.5" height="73.5" fill="#27ade3"/>
<rect x="165" y="156" width="1.5" height="7.5" fill="#1fb5b0"/>
<rect x="165" y="163" width="1.5" height="3.5" fill="#40b64c"/>
<rect x="165" y="166" width="1.5" height="4.5" fill="#a9cf38"/>
<rect x="165" y="170" width="1.5" height="5.5" fill="#f4e31b"/>
<rect x="165" y="175" width="1.5" height="3.5" fill="#f8a51d"/>
<rect x="165" y="178" width="1.5" height="3.5" fill="#ef5123"/>
<rect x="165" y="181" width="1.5" height="8.5" fill="#dc2420"/>
<rect x="165" y="189" width="1.5" height="8.5" fill="#9e1b1f"/>
<rect x="166" y="43" width="1.5" height="35.5" fill="#1f84cc"/>
<rect x="166" y="78" width="1.5" height="78.5" fill="#27ade3"/>
<rect x="166" y="156" width="1.5" height="7.5" fill="#1fb5b0"/>
<rect x="166" y="163" width="1.5" height="3.5" fill="#40b64c"/>
<rect x="166" y="166" width="1.5" height="3.5" fill="#a9cf38"/>
<rect x="166" y="169" width="1.5" height="6.5" fill="#f4e31b"/>
<rect x="166" y="175" width="1.5" height="3.5" fill="#f8a51d"/>
<rect x="166" y="178" width="1.5" height="3.5" fill="#ef5123"/>
<rect x="166" y="181" width="1.5" height="8.5" fill="#dc2420"/>
<rect x="166" y="189" width="1.5" height="8.5" fill="#9e1b1f"/>
<rect x="167" y="43" width="1.5" height="30.5" fill="#1f84cc"/>
<rect x="167" y="73" width="1.5" height="82.5" fill="#27ade3"/>
<rect x="167" y="155" width="1.5" height="9.5" fill="#1fb5b0"/>
<rect x="167" y="164" width="1.5" height="2.5" fill="#40b64c"/>
<rect x="167" y="166" width="1.5" height="3.5" fill="#a9cf38"/>
<rect x="167" y="169" width="1.5" height="7.5" fill="#f4e31b"/>
<rect x="167" y="176" width="1.5" height="2.5" fill="#f8a51d"/>
<rect x="167" y="178" width="1.5" height="3.5" fill="#ef5123"/>
<rect x="167" y="181" width="1.5" height="8.5" fill="#dc2420"/>
<rect x="167" y="189" width="1.5" height="8.5" fill="#9e1b1f"/>
<rect x="168" y="43" width="1.5" height="24.5" fill="#1f84cc"/>
<rect x="168" y="67" width="1.5" height="87.5" fill="#27ade3"/>
<rect x="168" y="154" width="1.5" height="9.5" fill="#1fb5b0"/>
<rect x="168" y="163" width="1.5" height="3.5" fill="#40b64c"/>
<rect x="168" y="166" width="1.5" height="2.5" fill="#a9cf38"/>
<rect x="168" y="168" width="1.5" height="7.5" fill="#f4e31b"/>
<rect x="168" y="175" width="1.5" height="3.5" fill="#f8a51d"/>
<rect x="168" y="178" width="1.5" height="3.5" fill="#ef5123"/>
<rect x="168" y="181" width="1.5" height="7.5" fill="#dc2420"/>
<rect x="168" y="188" width="1.5" height="9.5" fill="#9e1b1f"/>
<rect x="169" y="43" width="1.5" height="19.5" fill="#1f84cc"/>
<rect x="169" y="62" width="1.5" height="89.5" fill="#27ade3"/>
<rect x="169" y="151" width="1.5" height="11.5" fill="#1fb5b0"/>
<rect x="169" y="162" width="1.5" height="2.5" fill="#40b64c"/>
<rect x="169" y="164" width="1.5" height="3.5" fill="#a9cf38"/>
<rect x="169" y="167" width="1.5" height="7.5" fill="#f4e31b"/>
<rect x="169" y="174" width="1.5" height="3.5" fill="#f8a51d"/>
<rect x="169" y="177" width="1.5" height="2.5" fill="#ef5123"/>
<rect x="169" y="179" width="1.5" height="8.5" fill="#dc2420"/>
<rect x="169" y="187" width="1.5" height="10.5" fill="#9e1b1f"/>
<rect x="170" y="43" width="1.5" height="18.5" fill="#1f84cc"/>
<rect x="170" y="61" width="1.5" height="89.5" fill="#27ade3"/>
<rect x="170" y="150" width="1.5" height="10.5" fill="#1fb5b0"/>
<rect x="170" y="160" width="1.5" height="3.5" fill="#40b64c"/>
<rect x="170" y="163" width="1.5" height="3.5" fill="#a9cf38"/>
<rect x="170" y="166" width="1.5" height="7.5" fill="#f4e31b"/>
<rect x="170" y="173" width="1.5" height="2.5" fill="#f8a51d"/>
<rect x="170" y="175" width="1.5" height="3.5" fill="#ef5123"/>
<rect x="170" y="178" width="1.5" height="7.5" fill="#dc2420"/>
<rect x="170" y="185" width="1.5" height="12.5" fill="#9e1b1f"/>
<rect x="171" y="43" width="1.5" height="19.5" fill="#1f84cc"/>
<rect x="171" y="62" width="1.5" height="87.5" fill="#27ade3"/>
<rect x="171" y="149" width="1.5" height="11.5" fill="#1fb5b0"/>
<rect x="171" y="160" width="1.5" height="3.5" fill="#40b64c"/>
<rect x="171" y="163" width="1.5" height="2.5" fill="#a9cf38"/>
<rect x="171" y="165" width="1.5" height="7.5" fill="#f4e31b"/>
<rect x="171" y="172" width="1.5" height="3.5" fill="#f8a51d"/>
<rect x="171" y="175" width="1.5" height="3.5" fill="#ef5123"/>
<rect x="171" y="178" width="1.5" height="7.5" fill="#dc2420"/>
<rect x="171" y="185" width="1.5" height="12.5" fill="#9e1b1f"/>
<rect x="172" y="43" width="1.5" height="18.5" fill="#1f84cc"/>
<rect x="172" y="61" width="1.5" height="87.5" fill="#27ade3"/>
<rect x="172" y="148" width="1.5" height="12.5" fill="#1fb5b0"/>
<rect x="172" y="160" width="1.5" height="3.5" fill="#40b64c"/>
<rect x="172" y="163" width="1.5" height="3.5" fill="#a9cf38"/>
<rect x="172" y="166" width="1.5" height="7.5" fill="#f4e31b"/>
<rect x="172" y="173" width="1.5" height="3.5" fill="#f8a51d"/>
<rect x="172" y="176" width="1.5" height="2.5" fill="#ef5123"/>
<rect x="172" y="178" width="1.5" height="7.5" fill="#dc2420"/>
<rect x="172" y="185" width="1.5" height="12.5" fill="#9e1b1f"/>
<rect x="173" y="43" width="1.5" height="16.5" fill="#1f84cc"/>
<rect x="173" y="59" width="1.5" height="87.5" fill="#27ade3"/>
<rect x="173" y="146" width="1.5" height="14.5" fill="#1fb5b0"/>
<rect x="173" y="160" width="1.5" height="3.5" fill="#40b64c"/>
<rect x="173" y="163" width="1.5" height="3.5" fill="#a9cf38"/>
<rect x="173" y="166" width="1.5" height="7.5" fill="#f4e31b"/>
<rect x="173" y="173" width="1.5" height="3.5" fill="#f8a51d"/>
<rect x="173" y="176" width="1.5" height="3.5" fill="#ef5123"/>
<rect x="173" y="179" width="1.5" height="6.5" fill="#dc2420"/>
<rect x="173" y="185" width="1.5" height="12.5" fill="#9e1b1f"/>
<rect x="174" y="43" width="1.5" height="14.5" fill="#1f84cc"/>
<rect x="174" y="57" width="1.5" height="88.5" fill="#27ade3"/>
<rect x="174" y="145" width="1.5" height="15.5" fill="#1fb5b0"/>
<rect x="174" y="160" width="1.5" height="4.5" fill="#40b64c"/>
<rect x="174" y="164" width="1.5" height="2.5" fill="#a9cf38"/>
<rect x="174" y="166" width="1.5" height="7.5" fill="#f4e31b"/>
<rect x="174" y="173" width="1.5" height="3.5" fill="#f8a51d"/>
<rect x="174" y="176" width="1.5" height="3.5" fill="#ef5123"/>
<rect x="174" y="179" width="1.5" height="6.5" fill="#dc2420"/>
<rect x="174" y="185" width="1.5" height="12.5" fill="#9e1b1f"/>
<rect x="175" y="43" width="1.5" height="21.5" fill="#1f84cc"/>
<rect x="175" y="64" width="1.5" height="85.5" fill="#27ade3"/>
<rect x="175" y="149" width="1.5" height="12.5" fill="#1fb5b0"/>
<rect x="175" y="161" width="1.5" height="3.5" fill="#40b64c"/>
<rect x="175" y="164" width="1.5" height="3.5" fill="#a9cf38"/>
<rect x="175" y="167" width="1.5" height="7.5" fill="#f4e31b"/>
<rect x="175" y="174" width="1.5" height="4.5" fill="#f8a51d"/>
<rect x="175" y="178" width="1.5" height="2.5" fill="#ef5123"/>
<rect x="175" y="180" width="1.5" height="6.5" fill="#dc2420"/>
<rect x="175" y="186" width="1.5" height="11.5" fill="#9e1b1f"/>
<rect x="176" y="43" width="1.5" height="29.5" fill="#1f84cc"/>
<rect x="176" y="72" width="1.5" height="80.5" fill="#27ade3"/>
<rect x="176" y="152" width="1.5" height="11.5" fill="#1fb5b0"/>
<rect x="176" y="163" width="1.5" height="2.5" fill="#40b64c"/>
<rect x="176" y="165" width="1.5" height="3.5" fill="#a9cf38"/>
<rect x="176" y="168" width="1.5" height="8.5" fill="#f4e31b"/>
<rect x="176" y="176" width="1.5" height="3.5" fill="#f8a51d"/>
<rect x="176" y="179" width="1.5" height="3.5" fill="#ef5123"/>
<rect x="176" y="182" width="1.5" height="5.5" fill="#dc2420"/>
<rect x="176" y="187" width="1.5" height="10.5" fill="#9e1b1f"/>
<rect x="177" y="43" width="1.5" height="33.5" fill="#1f84cc"/>
<rect x="177" y="76" width="1.5" height="75.5" fill="#27ade3"/>
<rect x="177" y="151" width="1.5" height="11.5" fill="#1fb5b0"/>
<rect x="177" y="162" width="1.5" height="3.5" fill="#40b64c"/>
<rect x="177" y="165" width="1.5" height="4.5" fill="#a9cf38"/>
<rect x="177" y="169" width="1.5" height="7.5" fill="#f4e31b"/>
<rect x="177" y="176" width="1.5" height="2.5" fill="#f8a51d"/>
<rect x="177" y="178" width="1.5" height="3.5" fill="#ef5123"/>
<rect x="177" y="181" width="1.5" height="6.5" fill="#dc2420"/>
<rect x="177" y="187" width="1.5" height="10.5" fill="#9e1b1f"/>
<rect x="178" y="43" width="1.5" height="27.5" fill="#1f84cc"/>
<rect x="178" y="70" width="1.5" height="80.5" fill="#27ade3"/>
<rect x="178" y="150" width="1.5" height="11.5" fill="#1fb5b0"/>
<rect x="178" y="161" width="1.5" height="3.5" fill="#40b64c"/>
<rect x="178" y="164" width="1.5" height="4.5" fill="#a9cf38"/>
<rect x="178" y="168" width="1.5" height="6.5" fill="#f4e31b"/>
<rect x="178" y="174" width="1.5" height="3.5" fill="#f8a51d"/>
<rect x="178" y="177" width="1.5" height="3.5" fill="#ef5123"/>
<rect x="178" y="180" width="1.5" height="5.5" fill="#dc2420"/>
<rect x="178" y="185" width="1.5" height="12.5" fill="#9e1b1f"/>
<rect x="179" y="43" width="1.5" height="22.5" fill="#1f84cc"/>
<rect x="179" y="65" width="1.5" height="82.5" fill="#27ade3"/>
<rect x="179" y="147" width="1.5" height="13.5" fill="#1fb5b0"/>
<rect x="179" y="160" width="1.5" height="3.5" fill="#40b64c"/>
<rect x="179" y="163" width="1.5" height="4.5" fill="#a9cf38"/>
<rect x="179" y="167" width="1.5" height="6.5" fill="#f4e31b"/>
<rect x="179" y="173" width="1.5" height="3.5" fill="#f8a51d"/>
<rect x="179" y="176" width="1.5" height="2.5" fill="#ef5123"/>
<rect x="179" y="178" width="1.5" height="6.5" fill="#dc2420"/>
<rect x="179" y="184" width="1.5" height="13.5" fill="#9e1b1f"/>
<rect x="180" y="43" width="1.5" height="26.5" fill="#1f84cc"/>
<rect x="180" y="69" width="1.5" height="79.5" fill="#27ade3"/>
<rect x="180" y="148" width="1.5" height="12.5" fill="#1fb5b0"/>
<rect x="180" y="160" width="1.5" height="3.5" fill="#40b64c"/>
<rect x="180" y="163" width="1.5" height="4.5" fill="#a9cf38"/>
<rect x="180" y="167" width="1.5" height="5.5" fill="#f4e31b"/>
<rect x="180" y="172" width="1.5" height="3.5" fill="#f8a51d"/>
<rect x="180" y="175" width="1.5" height="3.5" fill="#ef5123"/>
<rect x="180" y="178" width="1.5" height="5.5" fill="#dc2420"/>
<rect x="180" y="183" width="1.5" height="14.5" fill="#9e1b1f"/>
<rect x="181" y="43" width="1.5" height="30.5" fill="#1f84cc"/>
<rect x="181" y="73" width="1.5" height="76.5" fill="#27ade3"/>
<rect x="181" y="149" width="1.5" height="12.5" fill="#1fb5b0"/>
<rect x="181" y="161" width="1.5" height="3.5" fill="#40b64c"/>
<rect x="181" y="164" width="1.5" height="4.5" fill="#a9cf38"/>
<rect x="181" y="168" width="1.5" height="5.5" fill="#f4e31b"/>
<rect x="181" y="173" width="1.5" height="3.5" fill="#f8a51d"/>
<rect x="181" y="176" width="1.5" height="3.5" fill="#ef5123"/>
<rect x="181" y="179" width="1.5" height="5.5" fill="#dc2420"/>
<rect x="181" y="184" width="1.5" height="13.5" fill="#9e1b1f"/>
<rect x="182" y="43" width="1.5" height="33.5" fill="#1f84cc"/>
<rect x="182" y="76" width="1.5" height="75.5" fill="#27ade3"/>
<rect x="182" y="151" width="1.5" height="11.5" fill="#1fb5b0"/>
<rect x="182" y="162" width="1.5" height="3.5" fill="#40b64c"/>
<rect x="182" y="165" width="1.5" height="3.5" fill="#a9cf38"/>
<rect x="182" y="168" width="1.5" height="5.5" fill="#f4e31b"/>
<rect x="182" y="173" width="1.5" height="4.5" fill="#f8a51d"/>
<rect x="182" y="177" width="1.5" height="2.5" fill="#ef5123"/>
<rect x="182" y="179" width="1.5" height="6.5" fill="#dc2420"/>
<rect x="182" y="185" width="1.5" height="12.5" fill="#9e1b1f"/>
<rect x="183" y="43" width="1.5" height="37.5" fill="#1f84cc"/>
<rect x="183" y="80" width="1.5" height="74.5" fill="#27ade3"/>
<rect x="183" y="154" width="1.5" height="9.5" fill="#1fb5b0"/>
<rect x="183" y="163" width="1.5" height="4.5" fill="#40b64c"/>
<rect x="183" y="167" width="1.5" height="2.5" fill="#a9cf38"/>
<rect x="183" y="169" width="1.5" height="6.5" fill="#f4e31b"/>
<rect x="183" y="175" width="1.5" height="3.5" fill="#f8a51d"/>
<rect x="183" y="178" width="1.5" height="2.5" fill="#ef5123"/>
<rect x="183" y="180" width="1.5" height="6.5" fill="#dc2420"/>
<rect x="183" y="186" width="1.5" height="11.5" fill="#9e1b1f"/>
<rect x="184" y="43" width="1.5" height="41.5" fill="#1f84cc"/>
<rect x="184" y="84" width="1.5" height="73.5" fill="#27ade3"/>
<rect x="184" y="157" width="1.5" height="8.5" fill="#1fb5b0"/>
<rect x="184" y="165" width="1.5" height="3.5" fill="#40b64c"/>
<rect x="184" y="168" width="1.5" height="2.5" fill="#a9cf38"/>
<rect x="184" y="170" width="1.5" height="6.5" fill="#f4e31b"/>
<rect x="184" y="176" width="1.5" height="3.5" fill="#f8a51d"/>
<rect x="184" y="179" width="1.5" height="2.5" fill="#ef5123"/>
<rect x="184" y="181" width="1.5" height="6.5" fill="#dc2420"/>
<rect x="184" y="187" width="1.5" height="10.5" fill="#9e1b1f"/>
<rect x="185" y="43" width="1.5" height="40.5" fill="#1f84cc"/>
<rect x="185" y="83" width="1.5" height="76.5" fill="#27ade3"/>
<rect x="185" y="159" width="1.5" height="8.5" fill="#1fb5b0"/>
<rect x="185" y="167" width="1.5" height="2.5" fill="#40b64c"/>
<rect x="185" y="169" width="1.5" height="2.5" fill="#a9cf38"/>
<rect x="185" y="171" width="1.5" height="6.5" fill="#f4e31b"/>
<rect x="185" y="177" width="1.5" height="3.5" fill="#f8a51d"/>
<rect x="185" y="180" width="1.5" height="2.5" fill="#ef5123"/>
<rect x="185" y="182" width="1.5" height="6.5" fill="#dc2420"/>
<rect x="185" y="188" width="1.5" height="9.5" fill="#9e1b1f"/>
<rect x="186" y="43" width="1.5" height="40.5" fill="#1f84cc"/>
<rect x="186" y="83" width="1.5" height="76.5" fill="#27ade3"/>
<rect x="186" y="159" width="1.5" height="9.5" fill="#1fb5b0"/>
<rect x="186" y="168" width="1.5" height="2.5" fill="#40b64c"/>
<rect x="186" y="170" width="1.5" height="2.5" fill="#a9cf38"/>
<rect x="186" y="172" width="1.5" height="6.5" fill="#f4e31b"/>
<rect x="186" y="178" width="1.5" height="2.5" fill="#f8a51d"/>
<rect x="186" y="180" width="1.5" height="3.5" fill="#ef5123"/>
<rect x="186" y="183" width="1.5" height="5.5" fill="#dc2420"/>
<rect x="186" y="188" width="1.5" height="9.5" fill="#9e1b1f"/>
<rect x="187" y="43" width="1.5" height="42.5" fill="#1f84cc"/>
<rect x="187" y="85" width="1.5" height="75.5" fill="#27ade3"/>
<rect x="187" y="160" width="1.5" height="8.5" fill="#1fb5b0"/>
<rect x="187" y="168" width="1.5" height="2.5" fill="#40b64c"/>
<rect x="187" y="170" width="1.5" height="4.5" fill="#a9cf38"/>
<rect x="187" y="174" width="1.5" height="4.5" fill="#f4e31b"/>
<rect x="187" y="178" width="1.5" height="2.5" fill="#f8a51d"/>
<rect x="187" y="180" width="1.5" height="4.5" fill="#ef5123"/>
<rect x="187" y="184" width="1.5" height="4.5" fill="#dc2420"/>
<rect x="187" y="188" width="1.5" height="9.5" fill="#9e1b1f"/>
<rect x="188" y="43" width="1.5" height="49.5" fill="#1f84cc"/>
<rect x="188" y="92" width="1.5" height="69.5" fill="#27ade3"/>
<rect x="188" y="161" width="1.5" height="7.5" fill="#1fb5b0"/>
<rect x="188" y="168" width="1.5" height="2.5" fill="#40b64c"/>
<rect x="188" y="170" width="1.5" height="5.5" fill="#a9cf38"/>
<rect x="188" y="175" width="1.5" height="3.5" fill="#f4e31b"/>
<rect x="188" y="178" width="1.5" height="3.5" fill="#f8a51d"/>
<rect x="188" y="181" width="1.5" height="3.5" fill="#ef5123"/>
<rect x="188" y="184" width="1.5" height="4.5" fill="#dc2420"/>
<rect x="188" y="188" width="1.5" height="9.5" fill="#9e1b1f"/>
<rect x="189" y="43" width="1.5" height="58.5" fill="#1f84cc"/>
<rect x="189" y="101" width="1.5" height="60.5" fill="#27ade3"/>
<rect x="189" y="161" width="1.5" height="7.5" fill="#1fb5b0"/>
<rect x="189" y="168" width="1.5" height="4.5" fill="#40b64c"/>
<rect x="189" y="172" width="1.5" height="4.5" fill="#a9cf38"/>
<rect x="189" y="176" width="1.5" height="2.5" fill="#f4e31b"/>
<rect x="189" y="178" width="1.5" height="3.5" fill="#f8a51d"/>
<rect x="189" y="181" width="1.5" height="4.5" fill="#ef5123"/>
<rect x="189" y="185" width="1.5" height="3.5" fill="#dc2420"/>
<rect x="189" y="188" width="1.5" height="9.5" fill="#9e1b1f"/>
<rect x="190" y="43" width="1.5" height="74.5" fill="#1f84cc"/>
<rect x="190" y="117" width="1.5" height="46.5" fill="#27ade3"/>
<rect x="190" y="163" width="1.5" height="6.5" fill="#1fb5b0"/>
<rect x="190" y="169" width="1.5" height="5.5" fill="#40b64c"/>
<rect x="190" y="174" width="1.5" height="3.5" fill="#a9cf38"/>
<rect x="190" y="177" width="1.5" height="2.5" fill="#f4e31b"/>
<rect x="190" y="179" width="1.5" height="4.5" fill="#f8a51d"/>
<rect x="190" y="183" width="1.5" height="2.5" fill="#ef5123"/>
<rect x="190" y="185" width="1.5" height="4.5" fill="#dc2420"/>
<rect x="190" y="189" width="1.5" height="8.5" fill="#9e1b1f"/>
<rect x="191" y="43" width="1.5" height="85.5" fill="#1f84cc"/>
<rect x="191" y="128" width="1.5" height="37.5" fill="#27ade3"/>
<rect x="191" y="165" width="1.5" height="6.5" fill="#1fb5b0"/>
<rect x="191" y="171" width="1.5" height="5.5" fill="#40b64c"/>
<rect x="191" y="176" width="1.5" height="2.5" fill="#a9cf38"/>
<rect x="191" y="178" width="1.5" height="2.5" fill="#f4e31b"/>
<rect x="191" y="180" width="1.5" height="4.5" fill="#f8a51d"/>
<rect x="191" y="184" width="1.5" height="2.5" fill="#ef5123"/>
<rect x="191" y="186" width="1.5" height="4.5" fill="#dc2420"/>
<rect x="191" y="190" width="1.5" height="7.5" fill="#9e1b1f"/>
<rect x="192" y="43" width="1.5" height="88.5" fill="#1f84cc"/>
<rect x="192" y="131" width="1.5" height="35.5" fill="#27ade3"/>
<rect x="192" y="166" width="1.5" height="8.5" fill="#1fb5b0"/>
<rect x="192" y="174" width="1.5" height="3.5" fill="#40b64c"/>
<rect x="192" y="177" width="1.5" height="1.5" fill="#a9cf38"/>
<rect x="192" y="178" width="1.5" height="3.5" fill="#f4e31b"/>
<rect x="192" y="181" width="1.5" height="3.5" fill="#f8a51d"/>
<rect x="192" y="184" width="1.5" height="2.5" fill="#ef5123"/>
<rect x="192" y="186" width="1.5" height="4.5" fill="#dc2420"/>
<rect x="192" y="190" width="1.5" height="7.5" fill="#9e1b1f"/>
<rect x="193" y="43" width="1.5" height="86.5" fill="#1f84cc"/>
<rect x="193" y="129" width="1.5" height="37.5" fill="#27ade3"/>
<rect x="193" y="166" width="1.5" height="9.5" fill="#1fb5b0"/>
<rect x="193" y="175" width="1.5" height="2.5" fill="#40b64c"/>
<rect x="193" y="177" width="1.5" height="1.5" fill="#a9cf38"/>
<rect x="193" y="178" width="1.5" height="4.5" fill="#f4e31b"/>
<rect x="193" y="182" width="1.5" height="3.5" fill="#f8a51d"/>
<rect x="193" y="185" width="1.5" height="1.5" fill="#ef5123"/>
<rect x="193" y="186" width="1.5" height="4.5" fill="#dc2420"/>
<rect x="193" y="190" width="1.5" height="7.5" fill="#9e1b1f"/>
<rect x="194" y="43" width="1.5" height="84.5" fill="#1f84cc"/>
<rect x="194" y="127" width="1.5" height="40.5" fill="#27ade3"/>
<rect x="194" y="167" width="1.5" height="9.5" fill="#1fb5b0"/>
<rect x="194" y="176" width="1.5" height="2.5" fill="#40b64c"/>
<rect x="194" y="178" width="1.5" height="1.5" fill="#a9cf38"/>
<rect x="194" y="179" width="1.5" height="4.5" fill="#f4e31b"/>
<rect x="194" y="183" width="1.5" height="2.5" fill="#f8a51d"/>
<rect x="194" y="185" width="1.5" height="2.5" fill="#ef5123"/>
<rect x="194" y="187" width="1.5" height="3.5" fill="#dc2420"/>
<rect x="194" y="190" width="1.5" height="7.5" fill="#9e1b1f"/>
<rect x="195" y="43" width="1.5" height="94.5" fill="#1f84cc"/>
<rect x="195" y="137" width="1.5" height="36.5" fill="#27ade3"/>
<rect x="195" y="173" width="1.5" height="4.5" fill="#1fb5b0"/>
<rect x="195" y="177" width="1.5" height="1.5" fill="#40b64c"/>
<rect x="195" y="178" width="1.5" height="1.5" fill="#a9cf38"/>
<rect x="195" y="179" width="1.5" height="5.5" fill="#f4e31b"/>
<rect x="195" y="184" width="1.5" height="2.5" fill="#f8a51d"/>
<rect x="195" y="186" width="1.5" height="1.5" fill="#ef5123"/>
<rect x="195" y="187" width="1.5" height="4.5" fill="#dc2420"/>
<rect x="195" y="191" width="1.5" height="6.5" fill="#9e1b1f"/>
<rect x="196" y="43" width="1.5" height="14.5" fill="#2e5eb2"/>
<rect x="196" y="57" width="1.5" height="86.5" fill="#1f84cc"/>
<rect x="196" y="143" width="1.5" height="31.5" fill="#27ade3"/>
<rect x="196" y="174" width="1.5" height="3.5" fill="#1fb5b0"/>
<rect x="196" y="177" width="1.5" height="1.5" fill="#40b64c"/>
<rect x="196" y="178" width="1.5" height="1.5" fill="#a9cf38"/>
<rect x="196" y="179" width="1.5" height="5.5" fill="#f4e31b"/>
<rect x="196" y="184" width="1.5" height="2.5" fill="#f8a51d"/>
<rect x="196" y="186" width="1.5" height="1.5" fill="#ef5123"/>
<rect x="196" y="187" width="1.5" height="4.5" fill="#dc2420"/>
<rect x="196" y="191" width="1.5" height="6.5" fill="#9e1b1f"/>
<rect x="197" y="43" width="1.5" height="27.5" fill="#2e5eb2"/>
<rect x="197" y="70" width="1.5" height="75.5" fill="#1f84cc"/>
<rect x="197" y="145" width="1.5" height="29.5" fill="#27ade3"/>
<rect x="197" y="174" width="1.5" height="3.5" fill="#1fb5b0"/>
<rect x="197" y="177" width="1.5" height="1.5" fill="#40b64c"/>
<rect x="197" y="178" width="1.5" height="1.5" fill="#a9cf38"/>
<rect x="197" y="179" width="1.5" height="5.5" fill="#f4e31b"/>
<rect x="197" y="184" width="1.5" height="2.5" fill="#f8a51d"/>
<rect x="197" y="186" width="1.5" height="1.5" fill="#ef5123"/>
<rect x="197" y="187" width="1.5" height="4.5" fill="#dc2420"/>
<rect x="197" y="191" width="1.5" height="6.5" fill="#9e1b1f"/>
<rect x="198" y="43" width="1.5" height="27.5" fill="#2e5eb2"/>
<rect x="198" y="70" width="1.5" height="75.5" fill="#1f84cc"/>
<rect x="198" y="145" width="1.5" height="29.5" fill="#27ade3"/>
<rect x="198" y="174" width="1.5" height="3.5" fill="#1fb5b0"/>
<rect x="198" y="177" width="1.5" height="1.5" fill="#40b64c"/>
<rect x="198" y="178" width="1.5" height="2.5" fill="#a9cf38"/>
<rect x="198" y="180" width="1.5" height="5.5" fill="#f4e31b"/>
<rect x="198" y="185" width="1.5" height="1.5" fill="#f8a51d"/>
<rect x="198" y="186" width="1.5" height="2.5" fill="#ef5123"/>
<rect x="198" y="188" width="1.5" height="3.5" fill="#dc2420"/>
<rect x="198" y="191" width="1.5" height="6.5" fill="#9e1b1f"/>
<rect x="199" y="43" width="1.5" height="27.5" fill="#2e5eb2"/>
<rect x="199" y="70" width="1.5" height="75.5" fill="#1f84cc"/>
<rect x="199" y="145" width="1.5" height="31.5" fill="#27ade3"/>
<rect x="199" y="176" width="1.5" height="3.5" fill="#1fb5b0"/>
<rect x="199" y="179" width="1.5" height="1.5" fill="#40b64c"/>
<rect x="199" y="180" width="1.5" height="1.5" fill="#a9cf38"/>
<rect x="199" y="181" width="1.5" height="5.5" fill="#f4e31b"/>
<rect x="199" y="186" width="1.5" height="2.5" fill="#f8a51d"/>
<rect x="199" y="188" width="1.5" height="2.5" fill="#ef5123"/>
<rect x="199" y="190" width="1.5" height="3.5" fill="#dc2420"/>
<rect x="199" y="193" width="1.5" height="4.5" fill="#9e1b1f"/>
<rect x="200" y="43" width="1.5" height="43.5" fill="#2e5eb2"/>
<rect x="200" y="86" width="1.5" height="62.5" fill="#1f84cc"/>
<rect x="200" y="148" width="1.5" height="29.5" fill="#27ade3"/>
<rect x="200" y="177" width="1.5" height="3.5" fill="#1fb5b0"/>
<rect x="200" y="180" width="1.5" height="1.5" fill="#40b64c"/>
<rect x="200" y="181" width="1.5" height="1.5" fill="#a9cf38"/>
<rect x="200" y="182" width="1.5" height="6.5" fill="#f4e31b"/>
<rect x="200" y="188" width="1.5" height="2.5" fill="#f8a51d"/>
<rect x="200" y="190" width="1.5" height="1.5" fill="#ef5123"/>
<rect x="200" y="191" width="1.5" height="3.5" fill="#dc2420"/>
<rect x="200" y="194" width="1.5" height="3.5" fill="#9e1b1f"/>
<rect x="201" y="43" width="1.5" height="63.5" fill="#2e5eb2"/>
<rect x="201" y="106" width="1.5" height="44.5" fill="#1f84cc"/>
<rect x="201" y="150" width="1.5" height="28.5" fill="#27ade3"/>
<rect x="201" y="178" width="1.5" height="3.5" fill="#1fb5b0"/>
<rect x="201" y="181" width="1.5" height="1.5" fill="#40b64c"/>
<rect x="201" y="182" width="1.5" height="1.5" fill="#a9cf38"/>
<rect x="201" y="183" width="1.5" height="5.5" fill="#f4e31b"/>
<rect x="201" y="188" width="1.5" height="2.5" fill="#f8a51d"/>
<rect x="201" y="190" width="1.5" height="2.5" fill="#ef5123"/>
<rect x="201" y="192" width="1.5" height="3.5" fill="#dc2420"/>
<rect x="201" y="195" width="1.5" height="2.5" fill="#9e1b1f"/>
<rect x="202" y="43" width="1.5" height="79.5" fill="#2e5eb2"/>
<rect x="202" y="122" width="1.5" height="28.5" fill="#1f84cc"/>
<rect x="202" y="150" width="1.5" height="27.5" fill="#27ade3"/>
<rect x="202" y="177" width="1.5" height="3.5" fill="#1fb5b0"/>
<rect x="202" y="180" width="1.5" height="1.5" fill="#40b64c"/>
<rect x="202" y="181" width="1.5" height="1.5" fill="#a9cf38"/>
<rect x="202" y="182" width="1.5" height="6.5" fill="#f4e31b"/>
<rect x="202" y="188" width="1.5" height="2.5" fill="#f8a51d"/>
<rect x="202" y="190" width="1.5" height="1.5" fill="#ef5123"/>
<rect x="202" y="191" width="1.5" height="3.5" fill="#dc2420"/>
<rect x="202" y="194" width="1.5" height="3.5" fill="#9e1b1f"/>
<rect x="203" y="43" width="1.5" height="83.5" fill="#2e5eb2"/>
<rect x="203" y="126" width="1.5" height="23.5" fill="#1f84cc"/>
<rect x="203" y="149" width="1.5" height="27.5" fill="#27ade3"/>
<rect x="203" y="176" width="1.5" height="3.5" fill="#1fb5b0"/>
<rect x="203" y="179" width="1.5" height="2.5" fill="#40b64c"/>
<rect x="203" y="181" width="1.5" height="1.5" fill="#a9cf38"/>
<rect x="203" y="182" width="1.5" height="5.5" fill="#f4e31b"/>
<rect x="203" y="187" width="1.5" height="2.5" fill="#f8a51d"/>
<rect x="203" y="189" width="1.5" height="1.5" fill="#ef5123"/>
<rect x="203" y="190" width="1.5" height="3.5" fill="#dc2420"/>
<rect x="203" y="193" width="1.5" height="4.5" fill="#9e1b1f"/>
<rect x="204" y="43" width="1.5" height="82.5" fill="#2e5eb2"/>
<rect x="204" y="125" width="1.5" height="24.5" fill="#1f84cc"/>
<rect x="204" y="149" width="1.5" height="25.5" fill="#27ade3"/>
<rect x="204" y="174" width="1.5" height="5.5" fill="#1fb5b0"/>
<rect x="204" y="179" width="1.5" height="1.5" fill="#40b64c"/>
<rect x="204" y="180" width="1.5" height="1.5" fill="#a9cf38"/>
<rect x="204" y="181" width="1.5" height="5.5" fill="#f4e31b"/>
<rect x="204" y="186" width="1.5" height="2.5" fill="#f8a51d"/>
<rect x="204" y="188" width="1.5" height="2.5" fill="#ef5123"/>
<rect x="204" y="190" width="1.5" height="2.5" fill="#dc2420"/>
<rect x="204" y="192" width="1.5" height="5.5" fill="#9e1b1f"/>
<rect x="205" y="43" width="1.5" height="86.5" fill="#2e5eb2"/>
<rect x="205" y="129" width="1.5" height="21.5" fill="#1f84cc"/>
<rect x="205" y="150" width="1.5" height="25.5" fill="#27ade3"/>
<rect x="205" y="175" width="1.5" height="3.5" fill="#1fb5b0"/>
<rect x="205" y="178" width="1.5" height="1.5" fill="#40b64c"/>
<rect x="205" y="179" width="1.5" height="1.5" fill="#a9cf38"/>
<rect x="205" y="180" width="1.5" height="6.5" fill="#f4e31b"/>
<rect x="205" y="186" width="1.5" height="1.5" fill="#f8a51d"/>
<rect x="205" y="187" width="1.5" height="2.5" fill="#ef5123"/>
<rect x="205" y="189" width="1.5" height="2.5" fill="#dc2420"/>
<rect x="205" y="191" width="1.5" height="6.5" fill="#9e1b1f"/>
<rect x="206" y="43" width="1.5" height="87.5" fill="#2e5eb2"/>
<rect x="206" y="130" width="1.5" height="21.5" fill="#1f84cc"/>
<rect x="206" y="151" width="1.5" height="23.5" fill="#27ade3"/>
<rect x="206" y="174" width="1.5" height="3.5" fill="#1fb5b0"/>
<rect x="206" y="177" width="1.5" height="1.5" fill="#40b64c"/>
<rect x="206" y="178" width="1.5" height="1.5" fill="#a9cf38"/>
<rect x="206" y="179" width="1.5" height="6.5" fill="#f4e31b"/>
<rect x="206" y="185" width="1.5" height="1.5" fill="#f8a51d"/>
<rect x="206" y="186" width="1.5" height="2.5" fill="#ef5123"/>
<rect x="206" y="188" width="1.5" height="3.5" fill="#dc2420"/>
<rect x="206" y="191" width="1.5" height="6.5" fill="#9e1b1f"/>
<rect x="207" y="43" width="1.5" height="88.5" fill="#2e5eb2"/>
<rect x="207" y="131" width="1.5" height="20.5" fill="#1f84cc"/>
<rect x="207" y="151" width="1.5" height="22.5" fill="#27ade3"/>
<rect x="207" y="173" width="1.5" height="3.5" fill="#1fb5b0"/>
<rect x="207" y="176" width="1.5" height="1.5" fill="#40b64c"/>
<rect x="207" y="177" width="1.5" height="2.5" fill="#a9cf38"/>
<rect x="207" y="179" width="1.5" height="5.5" fill="#f4e31b"/>
<rect x="207" y="184" width="1.5" height="2.5" fill="#f8a51d"/>
<rect x="207" y="186" width="1.5" height="1.5" fill="#ef5123"/>
<rect x="207" y="187" width="1.5" height="3.5" fill="#dc2420"/>
<rect x="207" y="190" width="1.5" height="7.5" fill="#9e1b1f"/>
<rect x="208" y="43" width="1.5" height="88.5" fill="#2e5eb2"/>
<rect x="208" y="131" width="1.5" height="19.5" fill="#1f84cc"/>
<rect x="208" y="150" width="1.5" height="23.5" fill="#27ade3"/>
<rect x="208" y="173" width="1.5" height="3.5" fill="#1fb5b0"/>
<rect x="208" y="176" width="1.5" height="1.5" fill="#40b64c"/>
<rect x="208" y="177" width="1.5" height="2.5" fill="#a9cf38"/>
<rect x="208" y="179" width="1.5" height="5.5" fill="#f4e31b"/>
<rect x="208" y="184" width="1.5" height="1.5" fill="#f8a51d"/>
<rect x="208" y="185" width="1.5" height="2.5" fill="#ef5123"/>
<rect x="208" y="187" width="1.5" height="3.5" fill="#dc2420"/>
<rect x="208" y="190" width="1.5" height="7.5" fill="#9e1b1f"/>
<rect x="209" y="43" width="1.5" height="88.5" fill="#2e5eb2"/>
<rect x="209" y="131" width="1.5" height="19.5" fill="#1f84cc"/>
<rect x="209" y="150" width="1.5" height="22.5" fill="#27ade3"/>
<rect x="209" y="172" width="1.5" height="4.5" fill="#1fb5b0"/>
<rect x="209" y="176" width="1.5" height="1.5" fill="#40b64c"/>
<rect x="209" y="177" width="1.5" height="1.5" fill="#a9cf38"/>
<rect x="209" y="178" width="1.5" height="5.5" fill="#f4e31b"/>
<rect x="209" y="183" width="1.5" height="2.5" fill="#f8a51d"/>
<rect x="209" y="185" width="1.5" height="1.5" fill="#ef5123"/>
<rect x="209" y="186" width="1.5" height="3.5" fill="#dc2420"/>
<rect x="209" y="189" width="1.5" height="8.5" fill="#9e1b1f"/>
<rect x="210" y="43" width="1.5" height="90.5" fill="#2e5eb2"/>
<rect x="210" y="133" width="1.5" height="17.5" fill="#1f84cc"/>
<rect x="210" y="150" width="1.5" height="22.5" fill="#27ade3"/>
<rect x="210" y="172" width="1.5" height="4.5" fill="#1fb5b0"/>
<rect x="210" y="176" width="1.5" height="1.5" fill="#40b64c"/>
<rect x="210" y="177" width="1.5" height="1.5" fill="#a9cf38"/>
<rect x="210" y="178" width="1.5" height="5.5" fill="#f4e31b"/>
<rect x="210" y="183" width="1.5" height="2.5" fill="#f8a51d"/>
<rect x="210" y="185" width="1.5" height="1.5" fill="#ef5123"/>
<rect x="210" y="186" width="1.5" height="3.5" fill="#dc2420"/>
<rect x="210" y="189" width="1.5" height="8.5" fill="#9e1b1f"/>
<rect x="211" y="43" width="1.5" height="93.5" fill="#2e5eb2"/>
<rect x="211" y="136" width="1.5" height="14.5" fill="#1f84cc"/>
<rect x="211" y="150" width="1.5" height="22.5" fill="#27ade3"/>
<rect x="211" y="172" width="1.5" height="4.5" fill="#1fb5b0"/>
<rect x="211" y="176" width="1.5" height="1.5" fill="#40b64c"/>
<rect x="211" y="177" width="1.5" height="1.5" fill="#a9cf38"/>
<rect x="211" y="178" width="1.5" height="5.5" fill="#f4e31b"/>
<rect x="211" y="183" width="1.5" height="1.5" fill="#f8a51d"/>
<rect x="211" y="184" width="1.5" height="2.5" fill="#ef5123"/>
<rect x="211" y="186" width="1.5" height="3.5" fill="#dc2420"/>
<rect x="211" y="189" width="1.5" height="8.5" fill="#9e1b1f"/>
<rect x="212" y="43" width="1.5" height="94.5" fill="#2e5eb2"/>
<rect x="212" y="137" width="1.5" height="13.5" fill="#1f84cc"/>
<rect x="212" y="150" width="1.5" height="21.5" fill="#27ade3"/>
<rect x="212" y="171" width="1.5" height="4.5" fill="#1fb5b0"/>
<rect x="212" y="175" width="1.5" height="1.5" fill="#40b64c"/>
<rect x="212" y="176" width="1.5" height="1.5" fill="#a9cf38"/>
<rect x="212" y="177" width="1.5" height="5.5" fill="#f4e31b"/>
<rect x="212" y="182" width="1.5" height="2.5" fill="#f8a51d"/>
<rect x="212" y="184" width="1.5" height="1.5" fill="#ef5123"/>
<rect x="212" y="185" width="1.5" height="3.5" fill="#dc2420"/>
<rect x="212" y="188" width="1.5" height="9.5" fill="#9e1b1f"/>
<rect x="213" y="43" width="1.5" height="91.5" fill="#2e5eb2"/>
<rect x="213" y="134" width="1.5" height="15.5" fill="#1f84cc"/>
<rect x="213" y="149" width="1.5" height="21.5" fill="#27ade3"/>
<rect x="213" y="170" width="1.5" height="5.5" fill="#1fb5b0"/>
<rect x="213" y="175" width="1.5" height="1.5" fill="#40b64c"/>
<rect x="213" y="176" width="1.5" height="1.5" fill="#a9cf38"/>
<rect x="213" y="177" width="1.5" height="5.5" fill="#f4e31b"/>
<rect x="213" y="182" width="1.5" height="2.5" fill="#f8a51d"/>
<rect x="213" y="184" width="1.5" height="1.5" fill="#ef5123"/>
<rect x="213" y="185" width="1.5" height="3.5" fill="#dc2420"/>
<rect x="213" y="188" width="1.5" height="9.5" fill="#9e1b1f"/>
<rect x="214" y="43" width="1.5" height="88.5" fill="#2e5eb2"/>
<rect x="214" y="131" width="1.5" height="18.5" fill="#1f84cc"/>
<rect x="214" y="149" width="1.5" height="19.5" fill="#27ade3"/>
<rect x="214" y="168" width="1.5" height="7.5" fill="#1fb5b0"/>
<rect x="214" y="175" width="1.5" height="1.5" fill="#40b64c"/>
<rect x="214" y="176" width="1.5" height="1.5" fill="#a9cf38"/>
<rect x="214" y="177" width="1.5" height="5.5" fill="#f4e31b"/>
<rect x="214" y="182" width="1.5" height="1.5" fill="#f8a51d"/>
<rect x="214" y="183" width="1.5" height="2.5" fill="#ef5123"/>
<rect x="214" y="185" width="1.5" height="2.5" fill="#dc2420"/>
<rect x="214" y="187" width="1.5" height="10.5" fill="#9e1b1f"/>
<rect x="215" y="43" width="1.5" height="95.5" fill="#2e5eb2"/>
<rect x="215" y="138" width="1.5" height="13.5" fill="#1f84cc"/>
<rect x="215" y="151" width="1.5" height="19.5" fill="#27ade3"/>
<rect x="215" y="170" width="1.5" height="5.5" fill="#1fb5b0"/>
<rect x="215" y="175" width="1.5" height="1.5" fill="#40b64c"/>
<rect x="215" y="176" width="1.5" height="1.5" fill="#a9cf38"/>
<rect x="215" y="177" width="1.5" height="5.5" fill="#f4e31b"/>
<rect x="215" y="182" width="1.5" height="1.5" fill="#f8a51d"/>
<rect x="215" y="183" width="1.5" height="2.5" fill="#ef5123"/>
<rect x="215" y="185" width="1.5" height="2.5" fill="#dc2420"/>
<rect x="215" y="187" width="1.5" height="10.5" fill="#9e1b1f"/>
<rect x="216" y="43" width="1.5" height="13.5" fill="#39449d"/>
<rect x="216" y="56" width="1.5" height="84.5" fill="#2e5eb2"/>
<rect x="216" y="140" width="1.5" height="13.5" fill="#1f84cc"/>
<rect x="216" y="153" width="1.5" height="18.5" fill="#27ade3"/>
<rect x="216" y="171" width="1.5" height="4.5" fill="#1fb5b0"/>
<rect x="216" y="175" width="1.5" height="1.5" fill="#40b64c"/>
<rect x="216" y="176" width="1.5" height="1.5" fill="#a9cf38"/>
<rect x="216" y="177" width="1.5" height="5.5" fill="#f4e31b"/>
<rect x="216" y="182" width="1.5" height="1.5" fill="#f8a51d"/>
<rect x="216" y="183" width="1.5" height="2.5" fill="#ef5123"/>
<rect x="216" y="185" width="1.5" height="2.5" fill="#dc2420"/>
<rect x="216" y="187" width="1.5" height="10.5" fill="#9e1b1f"/>
<rect x="217" y="43" width="1.5" height="32.5" fill="#39449d"/>
<rect x="217" y="75" width="1.5" height="66.5" fill="#2e5eb2"/>
<rect x="217" y="141" width="1.5" height="13.5" fill="#1f84cc"/>
<rect x="217" y="154" width="1.5" height="17.5" fill="#27ade3"/>
<rect x="217" y="171" width="1.5" height="4.5" fill="#1fb5b0"/>
<rect x="217" y="175" width="1.5" height="1.5" fill="#40b64c"/>
<rect x="217" y="176" width="1.5" height="1.5" fill="#a9cf38"/>
<rect x="217" y="177" width="1.5" height="5.5" fill="#f4e31b"/>
<rect x="217" y="182" width="1.5" height="1.5" fill="#f8a51d"/>
<rect x="217" y="183" width="1.5" height="1.5" fill="#ef5123"/>
<rect x="217" y="184" width="1.5" height="3.5" fill="#dc2420"/>
<rect x="217" y="187" width="1.5" height="10.5" fill="#9e1b1f"/>
<rect x="218" y="43" width="1.5" height="34.5" fill="#39449d"/>
<rect x="218" y="77" width="1.5" height="63.5" fill="#2e5eb2"/>
<rect x="218" y="140" width="1.5" height="13.5" fill="#1f84cc"/>
<rect x="218" y="153" width="1.5" height="18.5" fill="#27ade3"/>
<rect x="218" y="171" width="1.5" height="3.5" fill="#1fb5b0"/>
<rect x="218" y="174" width="1.5" height="1.5" fill="#40b64c"/>
<rect x="218" y="175" width="1.5" height="1.5" fill="#a9cf38"/>
<rect x="218" y="176" width="1.5" height="6.5" fill="#f4e31b"/>
<rect x="218" y="182" width="1.5" height="1.5" fill="#f8a51d"/>
<rect x="218" y="183" width="1.5" height="1.5" fill="#ef5123"/>
<rect x="218" y="184" width="1.5" height="3.5" fill="#dc2420"/>
<rect x="218" y="187" width="1.5" height="10.5" fill="#9e1b1f"/>
<rect x="219" y="43" width="1.5" height="37.5" fill="#39449d"/>
<rect x="219" y="80" width="1.5" height="61.5" fill="#2e5eb2"/>
<rect x="219" y="141" width="1.5" height="13.5" fill="#1f84cc"/>
<rect x="219" y="154" width="1.5" height="17.5" fill="#27ade3"/>
<rect x="219" y="171" width="1.5" height="4.5" fill="#1fb5b0"/>
<rect x="219" y="175" width="1.5" height="1.5" fill="#40b64c"/>
<rect x="219" y="176" width="1.5" height="1.5" fill="#a9cf38"/>
<rect x="219" y="177" width="1.5" height="5.5" fill="#f4e31b"/>
<rect x="219" y="182" width="1.5" height="1.5" fill="#f8a51d"/>
<rect x="219" y="183" width="1.5" height="1.5" fill="#ef5123"/>
<rect x="219" y="184" width="1.5" height="3.5" fill="#dc2420"/>
<rect x="219" y="187" width="1.5" height="10.5" fill="#9e1b1f"/>
<rect x="220" y="43" width="1.5" height="54.5" fill="#39449d"/>
<rect x="220" y="97" width="1.5" height="47.5" fill="#2e5eb2"/>
<rect x="220" y="144" width="1.5" height="11.5" fill="#1f84cc"/>
<rect x="220" y="155" width="1.5" height="17.5" fill="#27ade3"/>
<rect x="220" y="172" width="1.5" height="4.5" fill="#1fb5b0"/>
<rect x="220" y="176" width="1.5" height="1.5" fill="#40b64c"/>
<rect x="220" y="177" width="1.5" height="1.5" fill="#a9cf38"/>
<rect x="220" y="178" width="1.5" height="5.5" fill="#f4e31b"/>
<rect x="220" y="183" width="1.5" height="1.5" fill="#f8a51d"/>
<rect x="220" y="184" width="1.5" height="2.5" fill="#ef5123"/>
<rect x="220" y="186" width="1.5" height="2.5" fill="#dc2420"/>
<rect x="220" y="188" width="1.5" height="9.5" fill="#9e1b1f"/>
<rect x="221" y="43" width="1.5" height="60.5" fill="#39449d"/>
<rect x="221" y="103" width="1.5" height="44.5" fill="#2e5eb2"/>
<rect x="221" y="147" width="1.5" height="10.5" fill="#1f84cc"/>
<rect x="221" y="157" width="1.5" height="15.5" fill="#27ade3"/>
<rect x="221" y="172" width="1.5" height="5.5" fill="#1fb5b0"/>
<rect x="221" y="177" width="1.5" height="1.5" fill="#40b64c"/>
<rect x="221" y="178" width="1.5" height="1.5" fill="#a9cf38"/>
<rect x="221" y="179" width="1.5" height="5.5" fill="#f4e31b"/>
<rect x="221" y="184" width="1.5" height="2.5" fill="#f8a51d"/>
<rect x="221" y="186" width="1.5" height="1.5" fill="#ef5123"/>
<rect x="221" y="187" width="1.5" height="2.5" fill="#dc2420"/>
<rect x="221" y="189" width="1.5" height="8.5" fill="#9e1b1f"/>
<rect x="222" y="43" width="1.5" height="63.5" fill="#39449d"/>
<rect x="222" y="106" width="1.5" height="41.5" fill="#2e5eb2"/>
<rect x="222" y="147" width="1.5" height="10.5" fill="#1f84cc"/>
<rect x="222" y="157" width="1.5" height="14.5" fill="#27ade3"/>
<rect x="222" y="171" width="1.5" height="5.5" fill="#1fb5b0"/>
<rect x="222" y="176" width="1.5" height="2.5" fill="#40b64c"/>
<rect x="222" y="178" width="1.5" height="1.5" fill="#a9cf38"/>
<rect x="222" y="179" width="1.5" height="4.5" fill="#f4e31b"/>
<rect x="222" y="183" width="1.5" height="3.5" fill="#f8a51d"/>
<rect x="222" y="186" width="1.5" height="1.5" fill="#ef5123"/>
<rect x="222" y="187" width="1.5" height="2.5" fill="#dc2420"/>
<rect x="222" y="189" width="1.5" height="8.5" fill="#9e1b1f"/>
<rect x="223" y="43" width="1.5" height="65.5" fill="#39449d"/>
<rect x="223" y="108" width="1.5" height="38.5" fill="#2e5eb2"/>
<rect x="223" y="146" width="1.5" height="11.5" fill="#1f84cc"/>
<rect x="223" y="157" width="1.5" height="12.5" fill="#27ade3"/>
<rect x="223" y="169" width="1.5" height="5.5" fill="#1fb5b0"/>
<rect x="223" y="174" width="1.5" height="3.5" fill="#40b64c"/>
<rect x="223" y="177" width="1.5" height="1.5" fill="#a9cf38"/>
<rect x="223" y="178" width="1.5" height="3.5" fill="#f4e31b"/>
<rect x="223" y="181" width="1.5" height="3.5" fill="#f8a51d"/>
<rect x="223" y="184" width="1.5" height="2.5" fill="#ef5123"/>
<rect x="223" y="186" width="1.5" height="2.5" fill="#dc2420"/>
<rect x="223" y="188" width="1.5" height="9.5" fill="#9e1b1f"/>
<rect x="224" y="43" width="1.5" height="68.5" fill="#39449d"/>
<rect x="224" y="111" width="1.5" height="34.5" fill="#2e5eb2"/>
<rect x="224" y="145" width="1.5" height="11.5" fill="#1f84cc"/>
<rect x="224" y="156" width="1.5" height="12.5" fill="#27ade3"/>
<rect x="224" y="168" width="1.5" height="4.5" fill="#1fb5b0"/>
<rect x="224" y="172" width="1.5" height="4.5" fill="#40b64c"/>
<rect x="224" y="176" width="1.5" height="1.5" fill="#a9cf38"/>
<rect x="224" y="177" width="1.5" height="2.5" fill="#f4e31b"/>
<rect x="224" y="179" width="1.5" height="4.5" fill="#f8a51d"/>
<rect x="224" y="183" width="1.5" height="2.5" fill="#ef5123"/>
<rect x="224" y="185" width="1.5" height="2.5" fill="#dc2420"/>
<rect x="224" y="187" width="1.5" height="10.5" fill="#9e1b1f"/>
<rect x="225" y="43" width="1.5" height="53.5" fill="#39449d"/>
<rect x="225" y="96" width="1.5" height="44.5" fill="#2e5eb2"/>
<rect x="225" y="140" width="1.5" height="13.5" fill="#1f84cc"/>
<rect x="225" y="153" width="1.5" height="12.5" fill="#27ade3"/>
<rect x="225" y="165" width="1.5" height="4.5" fill="#1fb5b0"/>
<rect x="225" y="169" width="1.5" height="5.5" fill="#40b64c"/>
<rect x="225" y="174" width="1.5" height="3.5" fill="#a9cf38"/>
<rect x="225" y="177" width="1.5" height="1.5" fill="#f4e31b"/>
<rect x="225" y="178" width="1.5" height="3.5" fill="#f8a51d"/>
<rect x="225" y="181" width="1.5" height="3.5" fill="#ef5123"/>
<rect x="225" y="184" width="1.5" height="2.5" fill="#dc2420"/>
<rect x="225" y="186" width="1.5" height="11.5" fill="#9e1b1f"/>
<rect x="226" y="43" width="1.5" height="9.5" fill="#39449d"/>
<rect x="226" y="52" width="1.5" height="82.5" fill="#2e5eb2"/>
<rect x="226" y="134" width="1.5" height="18.5" fill="#1f84cc"/>
<rect x="226" y="152" width="1.5" height="12.5" fill="#27ade3"/>
<rect x="226" y="164" width="1.5" height="6.5" fill="#1fb5b0"/>
<rect x="226" y="170" width="1.5" height="3.5" fill="#40b64c"/>
<rect x="226" y="173" width="1.5" height="5.5" fill="#a9cf38"/>
<rect x="226" y="178" width="1.5" height="1.5" fill="#f4e31b"/>
<rect x="226" y="179" width="1.5" height="2.5" fill="#f8a51d"/>
<rect x="226" y="181" width="1.5" height="4.5" fill="#ef5123"/>
<rect x="226" y="185" width="1.5" height="2.5" fill="#dc2420"/>
<rect x="226" y="187" width="1.5" height="10.5" fill="#9e1b1f"/>
<rect x="227" y="43" width="1.5" height="4.5" fill="#39449d"/>
<rect x="227" y="47" width="1.5" height="87.5" fill="#2e5eb2"/>
<rect x="227" y="134" width="1.5" height="19.5" fill="#1f84cc"/>
<rect x="227" y="153" width="1.5" height="12.5" fill="#27ade3"/>
<rect x="227" y="165" width="1.5" height="6.5" fill="#1fb5b0"/>
<rect x="227" y="171" width="1.5" height="2.5" fill="#40b64c"/>
<rect x="227" y="173" width="1.5" height="5.5" fill="#a9cf38"/>
<rect x="227" y="178" width="1.5" height="2.5" fill="#f4e31b"/>
<rect x="227" y="180" width="1.5" height="1.5" fill="#f8a51d"/>
<rect x="227" y="181" width="1.5" height="5.5" fill="#ef5123"/>
<rect x="227" y="186" width="1.5" height="2.5" fill="#dc2420"/>
<rect x="227" y="188" width="1.5" height="9.5" fill="#9e1b1f"/>
<rect x="228" y="43" width="1.5" height="37.5" fill="#39449d"/>
<rect x="228" y="80" width="1.5" height="60.5" fill="#2e5eb2"/>
<rect x="228" y="140" width="1.5" height="15.5" fill="#1f84cc"/>
<rect x="228" y="155" width="1.5" height="11.5" fill="#27ade3"/>
<rect x="228" y="166" width="1.5" height="6.5" fill="#1fb5b0"/>
<rect x="228" y="172" width="1.5" height="1.5" fill="#40b64c"/>
<rect x="228" y="173" width="1.5" height="4.5" fill="#a9cf38"/>
<rect x="228" y="177" width="1.5" height="3.5" fill="#f4e31b"/>
<rect x="228" y="180" width="1.5" height="2.5" fill="#f8a51d"/>
<rect x="228" y="182" width="1.5" height="3.5" fill="#ef5123"/>
<rect x="228" y="185" width="1.5" height="4.5" fill="#dc2420"/>
<rect x="228" y="189" width="1.5" height="8.5" fill="#9e1b1f"/>
<rect x="229" y="43" width="1.5" height="67.5" fill="#39449d"/>
<rect x="229" y="110" width="1.5" height="33.5" fill="#2e5eb2"/>
<rect x="229" y="143" width="1.5" height="13.5" fill="#1f84cc"/>
<rect x="229" y="156" width="1.5" height="10.5" fill="#27ade3"/>
<rect x="229" y="166" width="1.5" height="5.5" fill="#1fb5b0"/>
<rect x="229" y="171" width="1.5" height="1.5" fill="#40b64c"/>
<rect x="229" y="172" width="1.5" height="4.5" fill="#a9cf38"/>
<rect x="229" y="176" width="1.5" height="4.5" fill="#f4e31b"/>
<rect x="229" y="180" width="1.5" height="1.5" fill="#f8a51d"/>
<rect x="229" y="181" width="1.5" height="3.5" fill="#ef5123"/>
<rect x="229" y="184" width="1.5" height="4.5" fill="#dc2420"/>
<rect x="229" y="188" width="1.5" height="9.5" fill="#9e1b1f"/>
<rect x="230" y="43" width="1.5" height="72.5" fill="#39449d"/>
<rect x="230" y="115" width="1.5" height="29.5" fill="#2e5eb2"/>
<rect x="230" y="144" width="1.5" height="12.5" fill="#1f84cc"/>
<rect x="230" y="156" width="1.5" height="10.5" fill="#27ade3"/>
<rect x="230" y="166" width="1.5" height="5.5" fill="#1fb5b0"/>
<rect x="230" y="171" width="1.5" height="1.5" fill="#40b64c"/>
<rect x="230" y="172" width="1.5" height="2.5" fill="#a9cf38"/>
<rect x="230" y="174" width="1.5" height="5.5" fill="#f4e31b"/>
<rect x="230" y="179" width="1.5" height="1.5" fill="#f8a51d"/>
<rect x="230" y="180" width="1.5" height="3.5" fill="#ef5123"/>
<rect x="230" y="183" width="1.5" height="4.5" fill="#dc2420"/>
<rect x="230" y="187" width="1.5" height="10.5" fill="#9e1b1f"/>
<rect x="231" y="43" width="1.5" height="74.5" fill="#39449d"/>
<rect x="231" y="117" width="1.5" height="27.5" fill="#2e5eb2"/>
<rect x="231" y="144" width="1.5" height="12.5" fill="#1f84cc"/>
<rect x="231" y="156" width="1.5" height="10.5" fill="#27ade3"/>
<rect x="231" y="166" width="1.5" height="5.5" fill="#1fb5b0"/>
<rect x="231" y="171" width="1.5" height="1.5" fill="#40b64c"/>
<rect x="231" y="172" width="1.5" height="1.5" fill="#a9cf38"/>
<rect x="231" y="173" width="1.5" height="6.5" fill="#f4e31b"/>
<rect x="231" y="179" width="1.5" height="1.5" fill="#f8a51d"/>
<rect x="231" y="180" width="1.5" height="2.5" fill="#ef5123"/>
<rect x="231" y="182" width="1.5" height="5.5" fill="#dc2420"/>
<rect x="231" y="187" width="1.5" height="10.5" fill="#9e1b1f"/>
<rect x="232" y="43" width="1.5" height="72.5" fill="#39449d"/>
<rect x="232" y="115" width="1.5" height="28.5" fill="#2e5eb2"/>
<rect x="232" y="143" width="1.5" height="12.5" fill="#1f84cc"/>
<rect x="232" y="155" width="1.5" height="9.5" fill="#27ade3"/>
<rect x="232" y="164" width="1.5" height="6.5" fill="#1fb5b0"/>
<rect x="232" y="170" width="1.5" height="2.5" fill="#40b64c"/>
<rect x="232" y="172" width="1.5" height="1.5" fill="#a9cf38"/>
<rect x="232" y="173" width="1.5" height="5.5" fill="#f4e31b"/>
<rect x="232" y="178" width="1.5" height="2.5" fill="#f8a51d"/>
<rect x="232" y="180" width="1.5" height="2.5" fill="#ef5123"/>
<rect x="232" y="182" width="1.5" height="6.5" fill="#dc2420"/>
<rect x="232" y="188" width="1.5" height="9.5" fill="#9e1b1f"/>
<rect x="233" y="43" width="1.5" height="57.5" fill="#39449d"/>
<rect x="233" y="100" width="1.5" height="38.5" fill="#2e5eb2"/>
<rect x="233" y="138" width="1.5" height="15.5" fill="#1f84cc"/>
<rect x="233" y="153" width="1.5" height="9.5" fill="#27ade3"/>
<rect x="233" y="162" width="1.5" height="6.5" fill="#1fb5b0"/>
<rect x="233" y="168" width="1.5" height="4.5" fill="#40b64c"/>
<rect x="233" y="172" width="1.5" height="1.5" fill="#a9cf38"/>
<rect x="233" y="173" width="1.5" height="3.5" fill="#f4e31b"/>
<rect x="233" y="176" width="1.5" height="4.5" fill="#f8a51d"/>
<rect x="233" y="180" width="1.5" height="2.5" fill="#ef5123"/>
<rect x="233" y="182" width="1.5" height="5.5" fill="#dc2420"/>
<rect x="233" y="187" width="1.5" height="10.5" fill="#9e1b1f"/>
<rect x="234" y="43" width="1.5" height="12.5" fill="#39449d"/>
<rect x="234" y="55" width="1.5" height="78.5" fill="#2e5eb2"/>
<rect x="234" y="133" width="1.5" height="17.5" fill="#1f84cc"/>
<rect x="234" y="150" width="1.5" height="10.5" fill="#27ade3"/>
<rect x="234" y="160" width="1.5" height="5.5" fill="#1fb5b0"/>
<rect x="234" y="165" width="1.5" height="5.5" fill="#40b64c"/>
<rect x="234" y="170" width="1.5" height="2.5" fill="#a9cf38"/>
<rect x="234" y="172" width="1.5" height="2.5" fill="#f4e31b"/>
<rect x="234" y="174" width="1.5" height="5.5" fill="#f8a51d"/>
<rect x="234" y="179" width="1.5" height="2.5" fill="#ef5123"/>
<rect x="234" y="181" width="1.5" height="4.5" fill="#dc2420"/>
<rect x="234" y="185" width="1.5" height="12.5" fill="#9e1b1f"/>
<rect x="235" y="43" width="1.5" height="47.5" fill="#39449d"/>
<rect x="235" y="90" width="1.5" height="43.5" fill="#2e5eb2"/>
<rect x="235" y="133" width="1.5" height="16.5" fill="#1f84cc"/>
<rect x="235" y="149" width="1.5" height="9.5" fill="#27ade3"/>
<rect x="235" y="158" width="1.5" height="4.5" fill="#1fb5b0"/>
<rect x="235" y="162" width="1.5" height="5.5" fill="#40b64c"/>
<rect x="235" y="167" width="1.5" height="3.5" fill="#a9cf38"/>
<rect x="235" y="170" width="1.5" height="3.5" fill="#f4e31b"/>
<rect x="235" y="173" width="1.5" height="3.5" fill="#f8a51d"/>
<rect x="235" y="176" width="1.5" height="3.5" fill="#ef5123"/>
<rect x="235" y="179" width="1.5" height="5.5" fill="#dc2420"/>
<rect x="235" y="184" width="1.5" height="13.5" fill="#9e1b1f"/>
<rect x="236" y="43" width="1.5" height="57.5" fill="#39449d"/>
<rect x="236" y="100" width="1.5" height="33.5" fill="#2e5eb2"/>
<rect x="236" y="133" width="1.5" height="15.5" fill="#1f84cc"/>
<rect x="236" y="148" width="1.5" height="9.5" fill="#27ade3"/>
<rect x="236" y="157" width="1.5" height="3.5" fill="#1fb5b0"/>
<rect x="236" y="160" width="1.5" height="5.5" fill="#40b64c"/>
<rect x="236" y="165" width="1.5" height="3.5" fill="#a9cf38"/>
<rect x="236" y="168" width="1.5" height="3.5" fill="#f4e31b"/>
<rect x="236" y="171" width="1.5" height="3.5" fill="#f8a51d"/>
<rect x="236" y="174" width="1.5" height="3.5" fill="#ef5123"/>
<rect x="236" y="177" width="1.5" height="5.5" fill="#dc2420"/>
<rect x="236" y="182" width="1.5" height="15.5" fill="#9e1b1f"/>
<rect x="237" y="43" width="1.5" height="57.5" fill="#39449d"/>
<rect x="237" y="100" width="1.5" height="31.5" fill="#2e5eb2"/>
<rect x="237" y="131" width="1.5" height="15.5" fill="#1f84cc"/>
<rect x="237" y="146" width="1.5" height="9.5" fill="#27ade3"/>
<rect x="237" y="155" width="1.5" height="4.5" fill="#1fb5b0"/>
<rect x="237" y="159" width="1.5" height="3.5" fill="#40b64c"/>
<rect x="237" y="162" width="1.5" height="5.5" fill="#a9cf38"/>
<rect x="237" y="167" width="1.5" height="2.5" fill="#f4e31b"/>
<rect x="237" y="169" width="1.5" height="3.5" fill="#f8a51d"/>
<rect x="237" y="172" width="1.5" height="4.5" fill="#ef5123"/>
<rect x="237" y="176" width="1.5" height="5.5" fill="#dc2420"/>
<rect x="237" y="181" width="1.5" height="16.5" fill="#9e1b1f"/>
<rect x="238" y="43" width="1.5" height="52.5" fill="#39449d"/>
<rect x="238" y="95" width="1.5" height="34.5" fill="#2e5eb2"/>
<rect x="238" y="129" width="1.5" height="15.5" fill="#1f84cc"/>
<rect x="238" y="144" width="1.5" height="10.5" fill="#27ade3"/>
<rect x="238" y="154" width="1.5" height="4.5" fill="#1fb5b0"/>
<rect x="238" y="158" width="1.5" height="2.5" fill="#40b64c"/>
<rect x="238" y="160" width="1.5" height="6.5" fill="#a9cf38"/>
<rect x="238" y="166" width="1.5" height="2.5" fill="#f4e31b"/>
<rect x="238" y="168" width="1.5" height="3.5" fill="#f8a51d"/>
<rect x="238" y="171" width="1.5" height="4.5" fill="#ef5123"/>
<rect x="238" y="175" width="1.5" height="5.5" fill="#dc2420"/>
<rect x="238" y="180" width="1.5" height="17.5" fill="#9e1b1f"/>
<rect x="239" y="43" width="1.5" height="31.5" fill="#39449d"/>
<rect x="239" y="74" width="1.5" height="52.5" fill="#2e5eb2"/>
<rect x="239" y="126" width="1.5" height="16.5" fill="#1f84cc"/>
<rect x="239" y="142" width="1.5" height="11.5" fill="#27ade3"/>
<rect x="239" y="153" width="1.5" height="4.5" fill="#1fb5b0"/>
<rect x="239" y="157" width="1.5" height="2.5" fill="#40b64c"/>
<rect x="239" y="159" width="1.5" height="4.5" fill="#a9cf38"/>
<rect x="239" y="163" width="1.5" height="5.5" fill="#f4e31b"/>
<rect x="239" y="168" width="1.5" height="2.5" fill="#f8a51d"/>
<rect x="239" y="170" width="1.5" height="4.5" fill="#ef5123"/>
<rect x="239" y="174" width="1.5" height="5.5" fill="#dc2420"/>
<rect x="239" y="179" width="1.5" height="18.5" fill="#9e1b1f"/>
<rect x="240" y="43" width="1.5" height="13.5" fill="#39449d"/>
<rect x="240" y="56" width="1.5" height="69.5" fill="#2e5eb2"/>
<rect x="240" y="125" width="1.5" height="16.5" fill="#1f84cc"/>
<rect x="240" y="141" width="1.5" height="12.5" fill="#27ade3"/>
<rect x="240" y="153" width="1.5" height="4.5" fill="#1fb5b0"/>
<rect x="240" y="157" width="1.5" height="2.5" fill="#40b64c"/>
<rect x="240" y="159" width="1.5" height="2.5" fill="#a9cf38"/>
<rect x="240" y="161" width="1.5" height="7.5" fill="#f4e31b"/>
<rect x="240" y="168" width="1.5" height="2.5" fill="#f8a51d"/>
<rect x="240" y="170" width="1.5" height="2.5" fill="#ef5123"/>
<rect x="240" y="172" width="1.5" height="7.5" fill="#dc2420"/>
<rect x="240" y="179" width="1.5" height="18.5" fill="#9e1b1f"/>
<rect x="241" y="43" width="1.5" height="80.5" fill="#2e5eb2"/>
<rect x="241" y="123" width="1.5" height="17.5" fill="#1f84cc"/>
<rect x="241" y="140" width="1.5" height="11.5" fill="#27ade3"/>
<rect x="241" y="151" width="1.5" height="6.5" fill="#1fb5b0"/>
<rect x="241" y="157" width="1.5" height="2.5" fill="#40b64c"/>
<rect x="241" y="159" width="1.5" height="2.5" fill="#a9cf38"/>
<rect x="241" y="161" width="1.5" height="6.5" fill="#f4e31b"/>
<rect x="241" y="167" width="1.5" height="4.5" fill="#f8a51d"/>
<rect x="241" y="171" width="1.5" height="2.5" fill="#ef5123"/>
<rect x="241" y="173" width="1.5" height="6.5" fill="#dc2420"/>
<rect x="241" y="179" width="1.5" height="18.5" fill="#9e1b1f"/>
<rect x="242" y="43" width="1.5" height="78.5" fill="#2e5eb2"/>
<rect x="242" y="121" width="1.5" height="18.5" fill="#1f84cc"/>
<rect x="242" y="139" width="1.5" height="10.5" fill="#27ade3"/>
<rect x="242" y="149" width="1.5" height="8.5" fill="#1fb5b0"/>
<rect x="242" y="157" width="1.5" height="3.5" fill="#40b64c"/>
<rect x="242" y="160" width="1.5" height="2.5" fill="#a9cf38"/>
<rect x="242" y="162" width="1.5" height="5.5" fill="#f4e31b"/>
<rect x="242" y="167" width="1.5" height="4.5" fill="#f8a51d"/>
<rect x="242" y="171" width="1.5" height="2.5" fill="#ef5123"/>
<rect x="242" y="173" width="1.5" height="7.5" fill="#dc2420"/>
<rect x="242" y="180" width="1.5" height="17.5" fill="#9e1b1f"/>
<rect x="243" y="43" width="1.5" height="78.5" fill="#2e5eb2"/>
<rect x="243" y="121" width="1.5" height="18.5" fill="#1f84cc"/>
<rect x="243" y="139" width="1.5" height="9.5" fill="#27ade3"/>
<rect x="243" y="148" width="1.5" height="8.5" fill="#1fb5b0"/>
<rect x="243" y="156" width="1.5" height="4.5" fill="#40b64c"/>
<rect x="243" y="160" width="1.5" height="2.5" fill="#a9cf38"/>
<rect x="243" y="162" width="1.5" height="4.5" fill="#f4e31b"/>
<rect x="243" y="166" width="1.5" height="5.5" fill="#f8a51d"/>
<rect x="243" y="171" width="1.5" height="2.5" fill="#ef5123"/>
<rect x="243" y="173" width="1.5" height="7.5" fill="#dc2420"/>
<rect x="243" y="180" width="1.5" height="17.5" fill="#9e1b1f"/>
<rect x="244" y="43" width="1.5" height="76.5" fill="#2e5eb2"/>
<rect x="244" y="119" width="1.5" height="19.5" fill="#1f84cc"/>
<rect x="244" y="138" width="1.5" height="7.5" fill="#27ade3"/>
<rect x="244" y="145" width="1.5" height="9.5" fill="#1fb5b0"/>
<rect x="244" y="154" width="1.5" height="5.5" fill="#40b64c"/>
<rect x="244" y="159" width="1.5" height="2.5" fill="#a9cf38"/>
<rect x="244" y="161" width="1.5" height="3.5" fill="#f4e31b"/>
<rect x="244" y="164" width="1.5" height="6.5" fill="#f8a51d"/>
<rect x="244" y="170" width="1.5" height="2.5" fill="#ef5123"/>
<rect x="244" y="172" width="1.5" height="7.5" fill="#dc2420"/>
<rect x="244" y="179" width="1.5" height="18.5" fill="#9e1b1f"/>
<rect x="245" y="43" width="1.5" height="72.5" fill="#2e5eb2"/>
<rect x="245" y="115" width="1.5" height="20.5" fill="#1f84cc"/>
<rect x="245" y="135" width="1.5" height="8.5" fill="#27ade3"/>
<rect x="245" y="143" width="1.5" height="7.5" fill="#1fb5b0"/>
<rect x="245" y="150" width="1.5" height="7.5" fill="#40b64c"/>
<rect x="245" y="157" width="1.5" height="3.5" fill="#a9cf38"/>
<rect x="245" y="160" width="1.5" height="2.5" fill="#f4e31b"/>
<rect x="245" y="162" width="1.5" height="6.5" fill="#f8a51d"/>
<rect x="245" y="168" width="1.5" height="3.5" fill="#ef5123"/>
<rect x="245" y="171" width="1.5" height="6.5" fill="#dc2420"/>
<rect x="245" y="177" width="1.5" height="20.5" fill="#9e1b1f"/>
<rect x="246" y="43" width="1.5" height="69.5" fill="#2e5eb2"/>
<rect x="246" y="112" width="1.5" height="21.5" fill="#1f84cc"/>
<rect x="246" y="133" width="1.5" height="8.5" fill="#27ade3"/>
<rect x="246" y="141" width="1.5" height="7.5" fill="#1fb5b0"/>
<rect x="246" y="148" width="1.5" height="8.5" fill="#40b64c"/>
<rect x="246" y="156" width="1.5" height="3.5" fill="#a9cf38"/>
<rect x="246" y="159" width="1.5" height="3.5" fill="#f4e31b"/>
<rect x="246" y="162" width="1.5" height="5.5" fill="#f8a51d"/>
<rect x="246" y="167" width="1.5" height="4.5" fill="#ef5123"/>
<rect x="246" y="171" width="1.5" height="5.5" fill="#dc2420"/>
<rect x="246" y="176" width="1.5" height="21.5" fill="#9e1b1f"/>
<rect x="247" y="43" width="1.5" height="67.5" fill="#2e5eb2"/>
<rect x="247" y="110" width="1.5" height="23.5" fill="#1f84cc"/>
<rect x="247" y="133" width="1.5" height="8.5" fill="#27ade3"/>
<rect x="247" y="141" width="1.5" height="6.5" fill="#1fb5b0"/>
<rect x="247" y="147" width="1.5" height="8.5" fill="#40b64c"/>
<rect x="247" y="155" width="1.5" height="5.5" fill="#a9cf38"/>
<rect x="247" y="160" width="1.5" height="2.5" fill="#f4e31b"/>
<rect x="247" y="162" width="1.5" height="4.5" fill="#f8a51d"/>
<rect x="247" y="166" width="1.5" height="6.5" fill="#ef5123"/>
<rect x="247" y="172" width="1.5" height="5.5" fill="#dc2420"/>
<rect x="247" y="177" width="1.5" height="20.5" fill="#9e1b1f"/>
<rect x="248" y="43" width="1.5" height="65.5" fill="#2e5eb2"/>
<rect x="248" y="108" width="1.5" height="24.5" fill="#1f84cc"/>
<rect x="248" y="132" width="1.5" height="10.5" fill="#27ade3"/>
<rect x="248" y="142" width="1.5" height="5.5" fill="#1fb5b0"/>
<rect x="248" y="147" width="1.5" height="6.5" fill="#40b64c"/>
<rect x="248" y="153" width="1.5" height="7.5" fill="#a9cf38"/>
<rect x="248" y="160" width="1.5" height="3.5" fill="#f4e31b"/>
<rect x="248" y="163" width="1.5" height="4.5" fill="#f8a51d"/>
<rect x="248" y="167" width="1.5" height="5.5" fill="#ef5123"/>
<rect x="248" y="172" width="1.5" height="5.5" fill="#dc2420"/>
<rect x="248" y="177" width="1.5" height="20.5" fill="#9e1b1f"/>
<rect x="249" y="43" width="1.5" height="63.5" fill="#2e5eb2"/>
<rect x="249" y="106" width="1.5" height="25.5" fill="#1f84cc"/>
<rect x="249" y="131" width="1.5" height="10.5" fill="#27ade3"/>
<rect x="249" y="141" width="1.5" height="5.5" fill="#1fb5b0"/>
<rect x="249" y="146" width="1.5" height="5.5" fill="#40b64c"/>
<rect x="249" y="151" width="1.5" height="8.5" fill="#a9cf38"/>
<rect x="249" y="159" width="1.5" height="4.5" fill="#f4e31b"/>
<rect x="249" y="163" width="1.5" height="3.5" fill="#f8a51d"/>
<rect x="249" y="166" width="1.5" height="6.5" fill="#ef5123"/>
<rect x="249" y="172" width="1.5" height="5.5" fill="#dc2420"/>
<rect x="249" y="177" width="1.5" height="20.5" fill="#9e1b1f"/>
<rect x="250" y="43" width="1.5" height="59.5" fill="#2e5eb2"/>
<rect x="250" y="102" width="1.5" height="27.5" fill="#1f84cc"/>
<rect x="250" y="129" width="1.5" height="11.5" fill="#27ade3"/>
<rect x="250" y="140" width="1.5" height="4.5" fill="#1fb5b0"/>
<rect x="250" y="144" width="1.5" height="5.5" fill="#40b64c"/>
<rect x="250" y="149" width="1.5" height="8.5" fill="#a9cf38"/>
<rect x="250" y="157" width="1.5" height="5.5" fill="#f4e31b"/>
<rect x="250" y="162" width="1.5" height="3.5" fill="#f8a51d"/>
<rect x="250" y="165" width="1.5" height="5.5" fill="#ef5123"/>
<rect x="250" y="170" width="1.5" height="6.5" fill="#dc2420"/>
<rect x="250" y="176" width="1.5" height="21.5" fill="#9e1b1f"/>
<rect x="251" y="43" width="1.5" height="55.5" fill="#2e5eb2"/>
<rect x="251" y="98" width="1.5" height="28.5" fill="#1f84cc"/>
<rect x="251" y="126" width="1.5" height="13.5" fill="#27ade3"/>
<rect x="251" y="139" width="1.5" height="4.5" fill="#1fb5b0"/>
<rect x="251" y="143" width="1.5" height="4.5" fill="#40b64c"/>
<rect x="251" y="147" width="1.5" height="6.5" fill="#a9cf38"/>
<rect x="251" y="153" width="1.5" height="8.5" fill="#f4e31b"/>
<rect x="251" y="161" width="1.5" height="3.5" fill="#f8a51d"/>
<rect x="251" y="164" width="1.5" height="3.5" fill="#ef5123"/>
<rect x="251" y="167" width="1.5" height="8.5" fill="#dc2420"/>
<rect x="251" y="175" width="1.5" height="22.5" fill="#9e1b1f"/>
<polyline points="63.5,186 69.4,188.8 73.1,192.5 76,197 77.8,187 81.6,184 84.4,180.4 86.3,178.5 98.5,178.5 99.4,174.7 105,171 107.8,166.3 108.8,164 125.7,164 127.5,168.2 132.2,170 133.2,191.6 137.9,191.6 138.8,188.8 142.5,187 170,187 171,188.8 179.4,188.8 180.3,190.7 183,190.7 183,188.8 226.3,188.8 228.2,187 246.9,187 246.9,179.4 249.6,179.4 249.6,175.5 252.5,175.5" fill="none" stroke="#111" stroke-width="2.1"/>
<rect x="63" y="297" width="1.5" height="7.5" fill="#1f84cc"/>
<rect x="63" y="304" width="1.5" height="59.5" fill="#27ade3"/>
<rect x="63" y="363" width="1.5" height="14.5" fill="#1fb5b0"/>
<rect x="63" y="377" width="1.5" height="35.5" fill="#40b64c"/>
<rect x="63" y="412" width="1.5" height="11.5" fill="#a9cf38"/>
<rect x="63" y="423" width="1.5" height="12.5" fill="#f4e31b"/>
<rect x="63" y="435" width="1.5" height="6.5" fill="#f8a51d"/>
<rect x="63" y="441" width="1.5" height="6.5" fill="#ef5123"/>
<rect x="63" y="447" width="1.5" height="5.5" fill="#dc2420"/>
<rect x="64" y="297" width="1.5" height="13.5" fill="#1f84cc"/>
<rect x="64" y="310" width="1.5" height="56.5" fill="#27ade3"/>
<rect x="64" y="366" width="1.5" height="21.5" fill="#1fb5b0"/>
<rect x="64" y="387" width="1.5" height="26.5" fill="#40b64c"/>
<rect x="64" y="413" width="1.5" height="11.5" fill="#a9cf38"/>
<rect x="64" y="424" width="1.5" height="13.5" fill="#f4e31b"/>
<rect x="64" y="437" width="1.5" height="6.5" fill="#f8a51d"/>
<rect x="64" y="443" width="1.5" height="9.5" fill="#ef5123"/>
<rect x="65" y="297" width="1.5" height="18.5" fill="#1f84cc"/>
<rect x="65" y="315" width="1.5" height="54.5" fill="#27ade3"/>
<rect x="65" y="369" width="1.5" height="24.5" fill="#1fb5b0"/>
<rect x="65" y="393" width="1.5" height="21.5" fill="#40b64c"/>
<rect x="65" y="414" width="1.5" height="12.5" fill="#a9cf38"/>
<rect x="65" y="426" width="1.5" height="12.5" fill="#f4e31b"/>
<rect x="65" y="438" width="1.5" height="8.5" fill="#f8a51d"/>
<rect x="65" y="446" width="1.5" height="6.5" fill="#ef5123"/>
<rect x="66" y="297" width="1.5" height="20.5" fill="#1f84cc"/>
<rect x="66" y="317" width="1.5" height="57.5" fill="#27ade3"/>
<rect x="66" y="374" width="1.5" height="24.5" fill="#1fb5b0"/>
<rect x="66" y="398" width="1.5" height="15.5" fill="#40b64c"/>
<rect x="66" y="413" width="1.5" height="13.5" fill="#a9cf38"/>
<rect x="66" y="426" width="1.5" height="14.5" fill="#f4e31b"/>
<rect x="66" y="440" width="1.5" height="7.5" fill="#f8a51d"/>
<rect x="66" y="447" width="1.5" height="5.5" fill="#ef5123"/>
<rect x="67" y="297" width="1.5" height="26.5" fill="#1f84cc"/>
<rect x="67" y="323" width="1.5" height="54.5" fill="#27ade3"/>
<rect x="67" y="377" width="1.5" height="25.5" fill="#1fb5b0"/>
<rect x="67" y="402" width="1.5" height="13.5" fill="#40b64c"/>
<rect x="67" y="415" width="1.5" height="14.5" fill="#a9cf38"/>
<rect x="67" y="429" width="1.5" height="13.5" fill="#f4e31b"/>
<rect x="67" y="442" width="1.5" height="7.5" fill="#f8a51d"/>
<rect x="67" y="449" width="1.5" height="3.5" fill="#ef5123"/>
<rect x="68" y="297" width="1.5" height="30.5" fill="#1f84cc"/>
<rect x="68" y="327" width="1.5" height="54.5" fill="#27ade3"/>
<rect x="68" y="381" width="1.5" height="25.5" fill="#1fb5b0"/>
<rect x="68" y="406" width="1.5" height="14.5" fill="#40b64c"/>
<rect x="68" y="420" width="1.5" height="15.5" fill="#a9cf38"/>
<rect x="68" y="435" width="1.5" height="8.5" fill="#f4e31b"/>
<rect x="68" y="443" width="1.5" height="9.5" fill="#f8a51d"/>
<rect x="69" y="297" width="1.5" height="32.5" fill="#1f84cc"/>
<rect x="69" y="329" width="1.5" height="56.5" fill="#27ade3"/>
<rect x="69" y="385" width="1.5" height="26.5" fill="#1fb5b0"/>
<rect x="69" y="411" width="1.5" height="16.5" fill="#40b64c"/>
<rect x="69" y="427" width="1.5" height="11.5" fill="#a9cf38"/>
<rect x="69" y="438" width="1.5" height="7.5" fill="#f4e31b"/>
<rect x="69" y="445" width="1.5" height="7.5" fill="#f8a51d"/>
<rect x="70" y="297" width="1.5" height="4.5" fill="#2e5eb2"/>
<rect x="70" y="301" width="1.5" height="32.5" fill="#1f84cc"/>
<rect x="70" y="333" width="1.5" height="65.5" fill="#27ade3"/>
<rect x="70" y="398" width="1.5" height="20.5" fill="#1fb5b0"/>
<rect x="70" y="418" width="1.5" height="15.5" fill="#40b64c"/>
<rect x="70" y="433" width="1.5" height="7.5" fill="#a9cf38"/>
<rect x="70" y="440" width="1.5" height="8.5" fill="#f4e31b"/>
<rect x="70" y="448" width="1.5" height="4.5" fill="#f8a51d"/>
<rect x="71" y="297" width="1.5" height="20.5" fill="#2e5eb2"/>
<rect x="71" y="317" width="1.5" height="29.5" fill="#1f84cc"/>
<rect x="71" y="346" width="1.5" height="61.5" fill="#27ade3"/>
<rect x="71" y="407" width="1.5" height="21.5" fill="#1fb5b0"/>
<rect x="71" y="428" width="1.5" height="8.5" fill="#40b64c"/>
<rect x="71" y="436" width="1.5" height="6.5" fill="#a9cf38"/>
<rect x="71" y="442" width="1.5" height="10.5" fill="#f4e31b"/>
<rect x="72" y="297" width="1.5" height="22.5" fill="#2e5eb2"/>
<rect x="72" y="319" width="1.5" height="29.5" fill="#1f84cc"/>
<rect x="72" y="348" width="1.5" height="65.5" fill="#27ade3"/>
<rect x="72" y="413" width="1.5" height="19.5" fill="#1fb5b0"/>
<rect x="72" y="432" width="1.5" height="7.5" fill="#40b64c"/>
<rect x="72" y="439" width="1.5" height="9.5" fill="#a9cf38"/>
<rect x="72" y="448" width="1.5" height="4.5" fill="#f4e31b"/>
<rect x="73" y="297" width="1.5" height="22.5" fill="#2e5eb2"/>
<rect x="73" y="319" width="1.5" height="20.5" fill="#1f84cc"/>
<rect x="73" y="339" width="1.5" height="77.5" fill="#27ade3"/>
<rect x="73" y="416" width="1.5" height="19.5" fill="#1fb5b0"/>
<rect x="73" y="435" width="1.5" height="9.5" fill="#40b64c"/>
<rect x="73" y="444" width="1.5" height="8.5" fill="#a9cf38"/>
<rect x="74" y="297" width="1.5" height="23.5" fill="#2e5eb2"/>
<rect x="74" y="320" width="1.5" height="20.5" fill="#1f84cc"/>
<rect x="74" y="340" width="1.5" height="78.5" fill="#27ade3"/>
<rect x="74" y="418" width="1.5" height="22.5" fill="#1fb5b0"/>
<rect x="74" y="440" width="1.5" height="12.5" fill="#40b64c"/>
<rect x="75" y="297" width="1.5" height="25.5" fill="#2e5eb2"/>
<rect x="75" y="322" width="1.5" height="19.5" fill="#1f84cc"/>
<rect x="75" y="341" width="1.5" height="86.5" fill="#27ade3"/>
<rect x="75" y="427" width="1.5" height="20.5" fill="#1fb5b0"/>
<rect x="75" y="447" width="1.5" height="5.5" fill="#40b64c"/>
<rect x="76" y="297" width="1.5" height="27.5" fill="#2e5eb2"/>
<rect x="76" y="324" width="1.5" height="18.5" fill="#1f84cc"/>
<rect x="76" y="342" width="1.5" height="96.5" fill="#27ade3"/>
<rect x="76" y="438" width="1.5" height="14.5" fill="#1fb5b0"/>
<rect x="77" y="297" width="1.5" height="30.5" fill="#2e5eb2"/>
<rect x="77" y="327" width="1.5" height="16.5" fill="#1f84cc"/>
<rect x="77" y="343" width="1.5" height="109.5" fill="#27ade3"/>
<rect x="78" y="297" width="1.5" height="30.5" fill="#2e5eb2"/>
<rect x="78" y="327" width="1.5" height="15.5" fill="#1f84cc"/>
<rect x="78" y="342" width="1.5" height="110.5" fill="#27ade3"/>
<rect x="79" y="297" width="1.5" height="25.5" fill="#2e5eb2"/>
<rect x="79" y="322" width="1.5" height="19.5" fill="#1f84cc"/>
<rect x="79" y="341" width="1.5" height="111.5" fill="#27ade3"/>
<rect x="80" y="297" width="1.5" height="27.5" fill="#2e5eb2"/>
<rect x="80" y="324" width="1.5" height="16.5" fill="#1f84cc"/>
<rect x="80" y="340" width="1.5" height="112.5" fill="#27ade3"/>
<rect x="81" y="297" width="1.5" height="27.5" fill="#2e5eb2"/>
<rect x="81" y="324" width="1.5" height="24.5" fill="#1f84cc"/>
<rect x="81" y="348" width="1.5" height="104.5" fill="#27ade3"/>
<rect x="82" y="297" width="1.5" height="26.5" fill="#2e5eb2"/>
<rect x="82" y="323" width="1.5" height="16.5" fill="#1f84cc"/>
<rect x="82" y="339" width="1.5" height="113.5" fill="#27ade3"/>
<rect x="83" y="297" width="1.5" height="15.5" fill="#2e5eb2"/>
<rect x="83" y="312" width="1.5" height="19.5" fill="#1f84cc"/>
<rect x="83" y="331" width="1.5" height="121.5" fill="#27ade3"/>
<rect x="84" y="297" width="1.5" height="1.5" fill="#2e5eb2"/>
<rect x="84" y="298" width="1.5" height="29.5" fill="#1f84cc"/>
<rect x="84" y="327" width="1.5" height="90.5" fill="#27ade3"/>
<rect x="84" y="417" width="1.5" height="35.5" fill="#1fb5b0"/>
<rect x="85" y="297" width="1.5" height="9.5" fill="#2e5eb2"/>
<rect x="85" y="306" width="1.5" height="23.5" fill="#1f84cc"/>
<rect x="85" y="329" width="1.5" height="85.5" fill="#27ade3"/>
<rect x="85" y="414" width="1.5" height="32.5" fill="#1fb5b0"/>
<rect x="85" y="446" width="1.5" height="6.5" fill="#40b64c"/>
<rect x="86" y="297" width="1.5" height="13.5" fill="#2e5eb2"/>
<rect x="86" y="310" width="1.5" height="22.5" fill="#1f84cc"/>
<rect x="86" y="332" width="1.5" height="80.5" fill="#27ade3"/>
<rect x="86" y="412" width="1.5" height="20.5" fill="#1fb5b0"/>
<rect x="86" y="432" width="1.5" height="20.5" fill="#40b64c"/>
<rect x="87" y="297" width="1.5" height="12.5" fill="#2e5eb2"/>
<rect x="87" y="309" width="1.5" height="25.5" fill="#1f84cc"/>
<rect x="87" y="334" width="1.5" height="69.5" fill="#27ade3"/>
<rect x="87" y="403" width="1.5" height="21.5" fill="#1fb5b0"/>
<rect x="87" y="424" width="1.5" height="16.5" fill="#40b64c"/>
<rect x="87" y="440" width="1.5" height="12.5" fill="#a9cf38"/>
<rect x="88" y="297" width="1.5" height="8.5" fill="#2e5eb2"/>
<rect x="88" y="305" width="1.5" height="23.5" fill="#1f84cc"/>
<rect x="88" y="328" width="1.5" height="63.5" fill="#27ade3"/>
<rect x="88" y="391" width="1.5" height="27.5" fill="#1fb5b0"/>
<rect x="88" y="418" width="1.5" height="10.5" fill="#40b64c"/>
<rect x="88" y="428" width="1.5" height="14.5" fill="#a9cf38"/>
<rect x="88" y="442" width="1.5" height="10.5" fill="#f4e31b"/>
<rect x="89" y="297" width="1.5" height="3.5" fill="#2e5eb2"/>
<rect x="89" y="300" width="1.5" height="16.5" fill="#1f84cc"/>
<rect x="89" y="316" width="1.5" height="65.5" fill="#27ade3"/>
<rect x="89" y="381" width="1.5" height="33.5" fill="#1fb5b0"/>
<rect x="89" y="414" width="1.5" height="8.5" fill="#40b64c"/>
<rect x="89" y="422" width="1.5" height="9.5" fill="#a9cf38"/>
<rect x="89" y="431" width="1.5" height="12.5" fill="#f4e31b"/>
<rect x="89" y="443" width="1.5" height="9.5" fill="#f8a51d"/>
<rect x="90" y="297" width="1.5" height="3.5" fill="#2e5eb2"/>
<rect x="90" y="300" width="1.5" height="15.5" fill="#1f84cc"/>
<rect x="90" y="315" width="1.5" height="62.5" fill="#27ade3"/>
<rect x="90" y="377" width="1.5" height="31.5" fill="#1fb5b0"/>
<rect x="90" y="408" width="1.5" height="11.5" fill="#40b64c"/>
<rect x="90" y="419" width="1.5" height="8.5" fill="#a9cf38"/>
<rect x="90" y="427" width="1.5" height="12.5" fill="#f4e31b"/>
<rect x="90" y="439" width="1.5" height="9.5" fill="#f8a51d"/>
<rect x="90" y="448" width="1.5" height="4.5" fill="#ef5123"/>
<rect x="91" y="297" width="1.5" height="2.5" fill="#2e5eb2"/>
<rect x="91" y="299" width="1.5" height="16.5" fill="#1f84cc"/>
<rect x="91" y="315" width="1.5" height="57.5" fill="#27ade3"/>
<rect x="91" y="372" width="1.5" height="32.5" fill="#1fb5b0"/>
<rect x="91" y="404" width="1.5" height="14.5" fill="#40b64c"/>
<rect x="91" y="418" width="1.5" height="9.5" fill="#a9cf38"/>
<rect x="91" y="427" width="1.5" height="11.5" fill="#f4e31b"/>
<rect x="91" y="438" width="1.5" height="8.5" fill="#f8a51d"/>
<rect x="91" y="446" width="1.5" height="6.5" fill="#ef5123"/>
<rect x="92" y="297" width="1.5" height="2.5" fill="#2e5eb2"/>
<rect x="92" y="299" width="1.5" height="16.5" fill="#1f84cc"/>
<rect x="92" y="315" width="1.5" height="52.5" fill="#27ade3"/>
<rect x="92" y="367" width="1.5" height="34.5" fill="#1fb5b0"/>
<rect x="92" y="401" width="1.5" height="16.5" fill="#40b64c"/>
<rect x="92" y="417" width="1.5" height="10.5" fill="#a9cf38"/>
<rect x="92" y="427" width="1.5" height="11.5" fill="#f4e31b"/>
<rect x="92" y="438" width="1.5" height="6.5" fill="#f8a51d"/>
<rect x="92" y="444" width="1.5" height="8.5" fill="#ef5123"/>
<rect x="93" y="297" width="1.5" height="2.5" fill="#2e5eb2"/>
<rect x="93" y="299" width="1.5" height="16.5" fill="#1f84cc"/>
<rect x="93" y="315" width="1.5" height="47.5" fill="#27ade3"/>
<rect x="93" y="362" width="1.5" height="37.5" fill="#1fb5b0"/>
<rect x="93" y="399" width="1.5" height="17.5" fill="#40b64c"/>
<rect x="93" y="416" width="1.5" height="10.5" fill="#a9cf38"/>
<rect x="93" y="426" width="1.5" height="12.5" fill="#f4e31b"/>
<rect x="93" y="438" width="1.5" height="5.5" fill="#f8a51d"/>
<rect x="93" y="443" width="1.5" height="9.5" fill="#ef5123"/>
<rect x="94" y="297" width="1.5" height="2.5" fill="#2e5eb2"/>
<rect x="94" y="299" width="1.5" height="16.5" fill="#1f84cc"/>
<rect x="94" y="315" width="1.5" height="42.5" fill="#27ade3"/>
<rect x="94" y="357" width="1.5" height="40.5" fill="#1fb5b0"/>
<rect x="94" y="397" width="1.5" height="16.5" fill="#40b64c"/>
<rect x="94" y="413" width="1.5" height="12.5" fill="#a9cf38"/>
<rect x="94" y="425" width="1.5" height="12.5" fill="#f4e31b"/>
<rect x="94" y="437" width="1.5" height="5.5" fill="#f8a51d"/>
<rect x="94" y="442" width="1.5" height="8.5" fill="#ef5123"/>
<rect x="94" y="450" width="1.5" height="2.5" fill="#dc2420"/>
<rect x="95" y="297" width="1.5" height="14.5" fill="#1f84cc"/>
<rect x="95" y="311" width="1.5" height="35.5" fill="#27ade3"/>
<rect x="95" y="346" width="1.5" height="48.5" fill="#1fb5b0"/>
<rect x="95" y="394" width="1.5" height="15.5" fill="#40b64c"/>
<rect x="95" y="409" width="1.5" height="13.5" fill="#a9cf38"/>
<rect x="95" y="422" width="1.5" height="14.5" fill="#f4e31b"/>
<rect x="95" y="436" width="1.5" height="5.5" fill="#f8a51d"/>
<rect x="95" y="441" width="1.5" height="5.5" fill="#ef5123"/>
<rect x="95" y="446" width="1.5" height="6.5" fill="#dc2420"/>
<rect x="96" y="297" width="1.5" height="13.5" fill="#1f84cc"/>
<rect x="96" y="310" width="1.5" height="31.5" fill="#27ade3"/>
<rect x="96" y="341" width="1.5" height="45.5" fill="#1fb5b0"/>
<rect x="96" y="386" width="1.5" height="20.5" fill="#40b64c"/>
<rect x="96" y="406" width="1.5" height="14.5" fill="#a9cf38"/>
<rect x="96" y="420" width="1.5" height="15.5" fill="#f4e31b"/>
<rect x="96" y="435" width="1.5" height="6.5" fill="#f8a51d"/>
<rect x="96" y="441" width="1.5" height="4.5" fill="#ef5123"/>
<rect x="96" y="445" width="1.5" height="7.5" fill="#dc2420"/>
<rect x="97" y="297" width="1.5" height="14.5" fill="#1f84cc"/>
<rect x="97" y="311" width="1.5" height="30.5" fill="#27ade3"/>
<rect x="97" y="341" width="1.5" height="41.5" fill="#1fb5b0"/>
<rect x="97" y="382" width="1.5" height="23.5" fill="#40b64c"/>
<rect x="97" y="405" width="1.5" height="15.5" fill="#a9cf38"/>
<rect x="97" y="420" width="1.5" height="15.5" fill="#f4e31b"/>
<rect x="97" y="435" width="1.5" height="6.5" fill="#f8a51d"/>
<rect x="97" y="441" width="1.5" height="5.5" fill="#ef5123"/>
<rect x="97" y="446" width="1.5" height="6.5" fill="#dc2420"/>
<rect x="98" y="297" width="1.5" height="16.5" fill="#1f84cc"/>
<rect x="98" y="313" width="1.5" height="30.5" fill="#27ade3"/>
<rect x="98" y="343" width="1.5" height="38.5" fill="#1fb5b0"/>
<rect x="98" y="381" width="1.5" height="24.5" fill="#40b64c"/>
<rect x="98" y="405" width="1.5" height="16.5" fill="#a9cf38"/>
<rect x="98" y="421" width="1.5" height="15.5" fill="#f4e31b"/>
<rect x="98" y="436" width="1.5" height="6.5" fill="#f8a51d"/>
<rect x="98" y="442" width="1.5" height="6.5" fill="#ef5123"/>
<rect x="98" y="448" width="1.5" height="4.5" fill="#dc2420"/>
<rect x="99" y="297" width="1.5" height="17.5" fill="#1f84cc"/>
<rect x="99" y="314" width="1.5" height="31.5" fill="#27ade3"/>
<rect x="99" y="345" width="1.5" height="34.5" fill="#1fb5b0"/>
<rect x="99" y="379" width="1.5" height="25.5" fill="#40b64c"/>
<rect x="99" y="404" width="1.5" height="17.5" fill="#a9cf38"/>
<rect x="99" y="421" width="1.5" height="15.5" fill="#f4e31b"/>
<rect x="99" y="436" width="1.5" height="7.5" fill="#f8a51d"/>
<rect x="99" y="443" width="1.5" height="5.5" fill="#ef5123"/>
<rect x="99" y="448" width="1.5" height="4.5" fill="#dc2420"/>
<rect x="100" y="297" width="1.5" height="19.5" fill="#1f84cc"/>
<rect x="100" y="316" width="1.5" height="31.5" fill="#27ade3"/>
<rect x="100" y="347" width="1.5" height="32.5" fill="#1fb5b0"/>
<rect x="100" y="379" width="1.5" height="24.5" fill="#40b64c"/>
<rect x="100" y="403" width="1.5" height="18.5" fill="#a9cf38"/>
<rect x="100" y="421" width="1.5" height="14.5" fill="#f4e31b"/>
<rect x="100" y="435" width="1.5" height="7.5" fill="#f8a51d"/>
<rect x="100" y="442" width="1.5" height="6.5" fill="#ef5123"/>
<rect x="100" y="448" width="1.5" height="4.5" fill="#dc2420"/>
<rect x="101" y="297" width="1.5" height="21.5" fill="#1f84cc"/>
<rect x="101" y="318" width="1.5" height="31.5" fill="#27ade3"/>
<rect x="101" y="349" width="1.5" height="30.5" fill="#1fb5b0"/>
<rect x="101" y="379" width="1.5" height="22.5" fill="#40b64c"/>
<rect x="101" y="401" width="1.5" height="20.5" fill="#a9cf38"/>
<rect x="101" y="421" width="1.5" height="14.5" fill="#f4e31b"/>
<rect x="101" y="435" width="1.5" height="6.5" fill="#f8a51d"/>
<rect x="101" y="441" width="1.5" height="8.5" fill="#ef5123"/>
<rect x="101" y="449" width="1.5" height="3.5" fill="#dc2420"/>
<rect x="102" y="297" width="1.5" height="20.5" fill="#1f84cc"/>
<rect x="102" y="317" width="1.5" height="30.5" fill="#27ade3"/>
<rect x="102" y="347" width="1.5" height="29.5" fill="#1fb5b0"/>
<rect x="102" y="376" width="1.5" height="22.5" fill="#40b64c"/>
<rect x="102" y="398" width="1.5" height="20.5" fill="#a9cf38"/>
<rect x="102" y="418" width="1.5" height="16.5" fill="#f4e31b"/>
<rect x="102" y="434" width="1.5" height="6.5" fill="#f8a51d"/>
<rect x="102" y="440" width="1.5" height="8.5" fill="#ef5123"/>
<rect x="102" y="448" width="1.5" height="4.5" fill="#dc2420"/>
<rect x="103" y="297" width="1.5" height="17.5" fill="#1f84cc"/>
<rect x="103" y="314" width="1.5" height="29.5" fill="#27ade3"/>
<rect x="103" y="343" width="1.5" height="28.5" fill="#1fb5b0"/>
<rect x="103" y="371" width="1.5" height="21.5" fill="#40b64c"/>
<rect x="103" y="392" width="1.5" height="21.5" fill="#a9cf38"/>
<rect x="103" y="413" width="1.5" height="19.5" fill="#f4e31b"/>
<rect x="103" y="432" width="1.5" height="5.5" fill="#f8a51d"/>
<rect x="103" y="437" width="1.5" height="8.5" fill="#ef5123"/>
<rect x="103" y="445" width="1.5" height="7.5" fill="#dc2420"/>
<rect x="104" y="297" width="1.5" height="13.5" fill="#1f84cc"/>
<rect x="104" y="310" width="1.5" height="28.5" fill="#27ade3"/>
<rect x="104" y="338" width="1.5" height="29.5" fill="#1fb5b0"/>
<rect x="104" y="367" width="1.5" height="21.5" fill="#40b64c"/>
<rect x="104" y="388" width="1.5" height="21.5" fill="#a9cf38"/>
<rect x="104" y="409" width="1.5" height="21.5" fill="#f4e31b"/>
<rect x="104" y="430" width="1.5" height="6.5" fill="#f8a51d"/>
<rect x="104" y="436" width="1.5" height="7.5" fill="#ef5123"/>
<rect x="104" y="443" width="1.5" height="9.5" fill="#dc2420"/>
<rect x="105" y="297" width="1.5" height="9.5" fill="#1f84cc"/>
<rect x="105" y="306" width="1.5" height="27.5" fill="#27ade3"/>
<rect x="105" y="333" width="1.5" height="28.5" fill="#1fb5b0"/>
<rect x="105" y="361" width="1.5" height="23.5" fill="#40b64c"/>
<rect x="105" y="384" width="1.5" height="21.5" fill="#a9cf38"/>
<rect x="105" y="405" width="1.5" height="23.5" fill="#f4e31b"/>
<rect x="105" y="428" width="1.5" height="6.5" fill="#f8a51d"/>
<rect x="105" y="434" width="1.5" height="7.5" fill="#ef5123"/>
<rect x="105" y="441" width="1.5" height="11.5" fill="#dc2420"/>
<rect x="106" y="297" width="1.5" height="3.5" fill="#1f84cc"/>
<rect x="106" y="300" width="1.5" height="29.5" fill="#27ade3"/>
<rect x="106" y="329" width="1.5" height="26.5" fill="#1fb5b0"/>
<rect x="106" y="355" width="1.5" height="25.5" fill="#40b64c"/>
<rect x="106" y="380" width="1.5" height="22.5" fill="#a9cf38"/>
<rect x="106" y="402" width="1.5" height="23.5" fill="#f4e31b"/>
<rect x="106" y="425" width="1.5" height="8.5" fill="#f8a51d"/>
<rect x="106" y="433" width="1.5" height="6.5" fill="#ef5123"/>
<rect x="106" y="439" width="1.5" height="13.5" fill="#dc2420"/>
<rect x="107" y="297" width="1.5" height="27.5" fill="#27ade3"/>
<rect x="107" y="324" width="1.5" height="25.5" fill="#1fb5b0"/>
<rect x="107" y="349" width="1.5" height="26.5" fill="#40b64c"/>
<rect x="107" y="375" width="1.5" height="24.5" fill="#a9cf38"/>
<rect x="107" y="399" width="1.5" height="24.5" fill="#f4e31b"/>
<rect x="107" y="423" width="1.5" height="9.5" fill="#f8a51d"/>
<rect x="107" y="432" width="1.5" height="6.5" fill="#ef5123"/>
<rect x="107" y="438" width="1.5" height="14.5" fill="#dc2420"/>
<rect x="108" y="297" width="1.5" height="24.5" fill="#27ade3"/>
<rect x="108" y="321" width="1.5" height="22.5" fill="#1fb5b0"/>
<rect x="108" y="343" width="1.5" height="29.5" fill="#40b64c"/>
<rect x="108" y="372" width="1.5" height="24.5" fill="#a9cf38"/>
<rect x="108" y="396" width="1.5" height="24.5" fill="#f4e31b"/>
<rect x="108" y="420" width="1.5" height="11.5" fill="#f8a51d"/>
<rect x="108" y="431" width="1.5" height="7.5" fill="#ef5123"/>
<rect x="108" y="438" width="1.5" height="14.5" fill="#dc2420"/>
<rect x="109" y="297" width="1.5" height="22.5" fill="#27ade3"/>
<rect x="109" y="319" width="1.5" height="22.5" fill="#1fb5b0"/>
<rect x="109" y="341" width="1.5" height="27.5" fill="#40b64c"/>
<rect x="109" y="368" width="1.5" height="26.5" fill="#a9cf38"/>
<rect x="109" y="394" width="1.5" height="25.5" fill="#f4e31b"/>
<rect x="109" y="419" width="1.5" height="13.5" fill="#f8a51d"/>
<rect x="109" y="432" width="1.5" height="7.5" fill="#ef5123"/>
<rect x="109" y="439" width="1.5" height="13.5" fill="#dc2420"/>
<rect x="110" y="297" width="1.5" height="5.5" fill="#1f84cc"/>
<rect x="110" y="302" width="1.5" height="23.5" fill="#27ade3"/>
<rect x="110" y="325" width="1.5" height="19.5" fill="#1fb5b0"/>
<rect x="110" y="344" width="1.5" height="26.5" fill="#40b64c"/>
<rect x="110" y="370" width="1.5" height="28.5" fill="#a9cf38"/>
<rect x="110" y="398" width="1.5" height="26.5" fill="#f4e31b"/>
<rect x="110" y="424" width="1.5" height="11.5" fill="#f8a51d"/>
<rect x="110" y="435" width="1.5" height="7.5" fill="#ef5123"/>
<rect x="110" y="442" width="1.5" height="10.5" fill="#dc2420"/>
<rect x="111" y="297" width="1.5" height="10.5" fill="#1f84cc"/>
<rect x="111" y="307" width="1.5" height="21.5" fill="#27ade3"/>
<rect x="111" y="328" width="1.5" height="16.5" fill="#1fb5b0"/>
<rect x="111" y="344" width="1.5" height="23.5" fill="#40b64c"/>
<rect x="111" y="367" width="1.5" height="33.5" fill="#a9cf38"/>
<rect x="111" y="400" width="1.5" height="26.5" fill="#f4e31b"/>
<rect x="111" y="426" width="1.5" height="10.5" fill="#f8a51d"/>
<rect x="111" y="436" width="1.5" height="9.5" fill="#ef5123"/>
<rect x="111" y="445" width="1.5" height="7.5" fill="#dc2420"/>
<rect x="112" y="297" width="1.5" height="10.5" fill="#1f84cc"/>
<rect x="112" y="307" width="1.5" height="20.5" fill="#27ade3"/>
<rect x="112" y="327" width="1.5" height="14.5" fill="#1fb5b0"/>
<rect x="112" y="341" width="1.5" height="15.5" fill="#40b64c"/>
<rect x="112" y="356" width="1.5" height="40.5" fill="#a9cf38"/>
<rect x="112" y="396" width="1.5" height="27.5" fill="#f4e31b"/>
<rect x="112" y="423" width="1.5" height="12.5" fill="#f8a51d"/>
<rect x="112" y="435" width="1.5" height="10.5" fill="#ef5123"/>
<rect x="112" y="445" width="1.5" height="7.5" fill="#dc2420"/>
<rect x="113" y="297" width="1.5" height="7.5" fill="#1f84cc"/>
<rect x="113" y="304" width="1.5" height="19.5" fill="#27ade3"/>
<rect x="113" y="323" width="1.5" height="13.5" fill="#1fb5b0"/>
<rect x="113" y="336" width="1.5" height="11.5" fill="#40b64c"/>
<rect x="113" y="347" width="1.5" height="36.5" fill="#a9cf38"/>
<rect x="113" y="383" width="1.5" height="35.5" fill="#f4e31b"/>
<rect x="113" y="418" width="1.5" height="14.5" fill="#f8a51d"/>
<rect x="113" y="432" width="1.5" height="11.5" fill="#ef5123"/>
<rect x="113" y="443" width="1.5" height="9.5" fill="#dc2420"/>
<rect x="114" y="297" width="1.5" height="5.5" fill="#1f84cc"/>
<rect x="114" y="302" width="1.5" height="19.5" fill="#27ade3"/>
<rect x="114" y="321" width="1.5" height="12.5" fill="#1fb5b0"/>
<rect x="114" y="333" width="1.5" height="10.5" fill="#40b64c"/>
<rect x="114" y="343" width="1.5" height="20.5" fill="#a9cf38"/>
<rect x="114" y="363" width="1.5" height="51.5" fill="#f4e31b"/>
<rect x="114" y="414" width="1.5" height="15.5" fill="#f8a51d"/>
<rect x="114" y="429" width="1.5" height="12.5" fill="#ef5123"/>
<rect x="114" y="441" width="1.5" height="11.5" fill="#dc2420"/>
<rect x="115" y="297" width="1.5" height="3.5" fill="#1f84cc"/>
<rect x="115" y="300" width="1.5" height="20.5" fill="#27ade3"/>
<rect x="115" y="320" width="1.5" height="12.5" fill="#1fb5b0"/>
<rect x="115" y="332" width="1.5" height="9.5" fill="#40b64c"/>
<rect x="115" y="341" width="1.5" height="9.5" fill="#a9cf38"/>
<rect x="115" y="350" width="1.5" height="61.5" fill="#f4e31b"/>
<rect x="115" y="411" width="1.5" height="12.5" fill="#f8a51d"/>
<rect x="115" y="423" width="1.5" height="14.5" fill="#ef5123"/>
<rect x="115" y="437" width="1.5" height="15.5" fill="#dc2420"/>
<rect x="116" y="297" width="1.5" height="2.5" fill="#1f84cc"/>
<rect x="116" y="299" width="1.5" height="19.5" fill="#27ade3"/>
<rect x="116" y="318" width="1.5" height="14.5" fill="#1fb5b0"/>
<rect x="116" y="332" width="1.5" height="9.5" fill="#40b64c"/>
<rect x="116" y="341" width="1.5" height="9.5" fill="#a9cf38"/>
<rect x="116" y="350" width="1.5" height="54.5" fill="#f4e31b"/>
<rect x="116" y="404" width="1.5" height="15.5" fill="#f8a51d"/>
<rect x="116" y="419" width="1.5" height="8.5" fill="#ef5123"/>
<rect x="116" y="427" width="1.5" height="21.5" fill="#dc2420"/>
<rect x="116" y="448" width="1.5" height="4.5" fill="#9e1b1f"/>
<rect x="117" y="297" width="1.5" height="2.5" fill="#1f84cc"/>
<rect x="117" y="299" width="1.5" height="19.5" fill="#27ade3"/>
<rect x="117" y="318" width="1.5" height="14.5" fill="#1fb5b0"/>
<rect x="117" y="332" width="1.5" height="9.5" fill="#40b64c"/>
<rect x="117" y="341" width="1.5" height="8.5" fill="#a9cf38"/>
<rect x="117" y="349" width="1.5" height="53.5" fill="#f4e31b"/>
<rect x="117" y="402" width="1.5" height="15.5" fill="#f8a51d"/>
<rect x="117" y="417" width="1.5" height="5.5" fill="#ef5123"/>
<rect x="117" y="422" width="1.5" height="8.5" fill="#dc2420"/>
<rect x="117" y="430" width="1.5" height="22.5" fill="#9e1b1f"/>
<rect x="118" y="297" width="1.5" height="2.5" fill="#1f84cc"/>
<rect x="118" y="299" width="1.5" height="19.5" fill="#27ade3"/>
<rect x="118" y="318" width="1.5" height="14.5" fill="#1fb5b0"/>
<rect x="118" y="332" width="1.5" height="9.5" fill="#40b64c"/>
<rect x="118" y="341" width="1.5" height="8.5" fill="#a9cf38"/>
<rect x="118" y="349" width="1.5" height="52.5" fill="#f4e31b"/>
<rect x="118" y="401" width="1.5" height="15.5" fill="#f8a51d"/>
<rect x="118" y="416" width="1.5" height="4.5" fill="#ef5123"/>
<rect x="118" y="420" width="1.5" height="4.5" fill="#dc2420"/>
<rect x="118" y="424" width="1.5" height="28.5" fill="#9e1b1f"/>
<rect x="119" y="297" width="1.5" height="3.5" fill="#1f84cc"/>
<rect x="119" y="300" width="1.5" height="19.5" fill="#27ade3"/>
<rect x="119" y="319" width="1.5" height="13.5" fill="#1fb5b0"/>
<rect x="119" y="332" width="1.5" height="8.5" fill="#40b64c"/>
<rect x="119" y="340" width="1.5" height="8.5" fill="#a9cf38"/>
<rect x="119" y="348" width="1.5" height="49.5" fill="#f4e31b"/>
<rect x="119" y="397" width="1.5" height="17.5" fill="#f8a51d"/>
<rect x="119" y="414" width="1.5" height="5.5" fill="#ef5123"/>
<rect x="119" y="419" width="1.5" height="3.5" fill="#dc2420"/>
<rect x="119" y="422" width="1.5" height="30.5" fill="#9e1b1f"/>
<rect x="120" y="297" width="1.5" height="4.5" fill="#1f84cc"/>
<rect x="120" y="301" width="1.5" height="19.5" fill="#27ade3"/>
<rect x="120" y="320" width="1.5" height="12.5" fill="#1fb5b0"/>
<rect x="120" y="332" width="1.5" height="8.5" fill="#40b64c"/>
<rect x="120" y="340" width="1.5" height="8.5" fill="#a9cf38"/>
<rect x="120" y="348" width="1.5" height="39.5" fill="#f4e31b"/>
<rect x="120" y="387" width="1.5" height="28.5" fill="#f8a51d"/>
<rect x="120" y="415" width="1.5" height="4.5" fill="#ef5123"/>
<rect x="120" y="419" width="1.5" height="3.5" fill="#dc2420"/>
<rect x="120" y="422" width="1.5" height="30.5" fill="#9e1b1f"/>
<rect x="121" y="297" width="1.5" height="5.5" fill="#1f84cc"/>
<rect x="121" y="302" width="1.5" height="19.5" fill="#27ade3"/>
<rect x="121" y="321" width="1.5" height="11.5" fill="#1fb5b0"/>
<rect x="121" y="332" width="1.5" height="7.5" fill="#40b64c"/>
<rect x="121" y="339" width="1.5" height="8.5" fill="#a9cf38"/>
<rect x="121" y="347" width="1.5" height="23.5" fill="#f4e31b"/>
<rect x="121" y="370" width="1.5" height="45.5" fill="#f8a51d"/>
<rect x="121" y="415" width="1.5" height="4.5" fill="#ef5123"/>
<rect x="121" y="419" width="1.5" height="4.5" fill="#dc2420"/>
<rect x="121" y="423" width="1.5" height="29.5" fill="#9e1b1f"/>
<rect x="122" y="297" width="1.5" height="6.5" fill="#1f84cc"/>
<rect x="122" y="303" width="1.5" height="19.5" fill="#27ade3"/>
<rect x="122" y="322" width="1.5" height="10.5" fill="#1fb5b0"/>
<rect x="122" y="332" width="1.5" height="7.5" fill="#40b64c"/>
<rect x="122" y="339" width="1.5" height="8.5" fill="#a9cf38"/>
<rect x="122" y="347" width="1.5" height="11.5" fill="#f4e31b"/>
<rect x="122" y="358" width="1.5" height="57.5" fill="#f8a51d"/>
<rect x="122" y="415" width="1.5" height="4.5" fill="#ef5123"/>
<rect x="122" y="419" width="1.5" height="4.5" fill="#dc2420"/>
<rect x="122" y="423" width="1.5" height="29.5" fill="#9e1b1f"/>
<rect x="123" y="297" width="1.5" height="8.5" fill="#1f84cc"/>
<rect x="123" y="305" width="1.5" height="17.5" fill="#27ade3"/>
<rect x="123" y="322" width="1.5" height="10.5" fill="#1fb5b0"/>
<rect x="123" y="332" width="1.5" height="7.5" fill="#40b64c"/>
<rect x="123" y="339" width="1.5" height="7.5" fill="#a9cf38"/>
<rect x="123" y="346" width="1.5" height="10.5" fill="#f4e31b"/>
<rect x="123" y="356" width="1.5" height="60.5" fill="#f8a51d"/>
<rect x="123" y="416" width="1.5" height="4.5" fill="#ef5123"/>
<rect x="123" y="420" width="1.5" height="4.5" fill="#dc2420"/>
<rect x="123" y="424" width="1.5" height="28.5" fill="#9e1b1f"/>
<rect x="124" y="297" width="1.5" height="9.5" fill="#1f84cc"/>
<rect x="124" y="306" width="1.5" height="17.5" fill="#27ade3"/>
<rect x="124" y="323" width="1.5" height="9.5" fill="#1fb5b0"/>
<rect x="124" y="332" width="1.5" height="6.5" fill="#40b64c"/>
<rect x="124" y="338" width="1.5" height="7.5" fill="#a9cf38"/>
<rect x="124" y="345" width="1.5" height="9.5" fill="#f4e31b"/>
<rect x="124" y="354" width="1.5" height="62.5" fill="#f8a51d"/>
<rect x="124" y="416" width="1.5" height="4.5" fill="#ef5123"/>
<rect x="124" y="420" width="1.5" height="4.5" fill="#dc2420"/>
<rect x="124" y="424" width="1.5" height="28.5" fill="#9e1b1f"/>
<rect x="125" y="297" width="1.5" height="9.5" fill="#1f84cc"/>
<rect x="125" y="306" width="1.5" height="17.5" fill="#27ade3"/>
<rect x="125" y="323" width="1.5" height="9.5" fill="#1fb5b0"/>
<rect x="125" y="332" width="1.5" height="6.5" fill="#40b64c"/>
<rect x="125" y="338" width="1.5" height="6.5" fill="#a9cf38"/>
<rect x="125" y="344" width="1.5" height="9.5" fill="#f4e31b"/>
<rect x="125" y="353" width="1.5" height="63.5" fill="#f8a51d"/>
<rect x="125" y="416" width="1.5" height="4.5" fill="#ef5123"/>
<rect x="125" y="420" width="1.5" height="5.5" fill="#dc2420"/>
<rect x="125" y="425" width="1.5" height="27.5" fill="#9e1b1f"/>
<rect x="126" y="297" width="1.5" height="9.5" fill="#1f84cc"/>
<rect x="126" y="306" width="1.5" height="17.5" fill="#27ade3"/>
<rect x="126" y="323" width="1.5" height="8.5" fill="#1fb5b0"/>
<rect x="126" y="331" width="1.5" height="6.5" fill="#40b64c"/>
<rect x="126" y="337" width="1.5" height="7.5" fill="#a9cf38"/>
<rect x="126" y="344" width="1.5" height="8.5" fill="#f4e31b"/>
<rect x="126" y="352" width="1.5" height="64.5" fill="#f8a51d"/>
<rect x="126" y="416" width="1.5" height="4.5" fill="#ef5123"/>
<rect x="126" y="420" width="1.5" height="6.5" fill="#dc2420"/>
<rect x="126" y="426" width="1.5" height="26.5" fill="#9e1b1f"/>
<rect x="127" y="297" width="1.5" height="8.5" fill="#1f84cc"/>
<rect x="127" y="305" width="1.5" height="17.5" fill="#27ade3"/>
<rect x="127" y="322" width="1.5" height="8.5" fill="#1fb5b0"/>
<rect x="127" y="330" width="1.5" height="6.5" fill="#40b64c"/>
<rect x="127" y="336" width="1.5" height="6.5" fill="#a9cf38"/>
<rect x="127" y="342" width="1.5" height="9.5" fill="#f4e31b"/>
<rect x="127" y="351" width="1.5" height="65.5" fill="#f8a51d"/>
<rect x="127" y="416" width="1.5" height="4.5" fill="#ef5123"/>
<rect x="127" y="420" width="1.5" height="6.5" fill="#dc2420"/>
<rect x="127" y="426" width="1.5" height="26.5" fill="#9e1b1f"/>
<rect x="128" y="297" width="1.5" height="6.5" fill="#1f84cc"/>
<rect x="128" y="303" width="1.5" height="18.5" fill="#27ade3"/>
<rect x="128" y="321" width="1.5" height="8.5" fill="#1fb5b0"/>
<rect x="128" y="329" width="1.5" height="5.5" fill="#40b64c"/>
<rect x="128" y="334" width="1.5" height="7.5" fill="#a9cf38"/>
<rect x="128" y="341" width="1.5" height="8.5" fill="#f4e31b"/>
<rect x="128" y="349" width="1.5" height="17.5" fill="#f8a51d"/>
<rect x="128" y="366" width="1.5" height="12.5" fill="#ef5123"/>
<rect x="128" y="378" width="1.5" height="37.5" fill="#f8a51d"/>
<rect x="128" y="415" width="1.5" height="4.5" fill="#ef5123"/>
<rect x="128" y="419" width="1.5" height="10.5" fill="#dc2420"/>
<rect x="128" y="429" width="1.5" height="23.5" fill="#9e1b1f"/>
<rect x="129" y="297" width="1.5" height="5.5" fill="#1f84cc"/>
<rect x="129" y="302" width="1.5" height="18.5" fill="#27ade3"/>
<rect x="129" y="320" width="1.5" height="8.5" fill="#1fb5b0"/>
<rect x="129" y="328" width="1.5" height="5.5" fill="#40b64c"/>
<rect x="129" y="333" width="1.5" height="6.5" fill="#a9cf38"/>
<rect x="129" y="339" width="1.5" height="9.5" fill="#f4e31b"/>
<rect x="129" y="348" width="1.5" height="12.5" fill="#f8a51d"/>
<rect x="129" y="360" width="1.5" height="22.5" fill="#ef5123"/>
<rect x="129" y="382" width="1.5" height="33.5" fill="#f8a51d"/>
<rect x="129" y="415" width="1.5" height="4.5" fill="#ef5123"/>
<rect x="129" y="419" width="1.5" height="23.5" fill="#dc2420"/>
<rect x="129" y="442" width="1.5" height="10.5" fill="#9e1b1f"/>
<rect x="130" y="297" width="1.5" height="5.5" fill="#1f84cc"/>
<rect x="130" y="302" width="1.5" height="18.5" fill="#27ade3"/>
<rect x="130" y="320" width="1.5" height="8.5" fill="#1fb5b0"/>
<rect x="130" y="328" width="1.5" height="5.5" fill="#40b64c"/>
<rect x="130" y="333" width="1.5" height="5.5" fill="#a9cf38"/>
<rect x="130" y="338" width="1.5" height="10.5" fill="#f4e31b"/>
<rect x="130" y="348" width="1.5" height="10.5" fill="#f8a51d"/>
<rect x="130" y="358" width="1.5" height="26.5" fill="#ef5123"/>
<rect x="130" y="384" width="1.5" height="31.5" fill="#f8a51d"/>
<rect x="130" y="415" width="1.5" height="4.5" fill="#ef5123"/>
<rect x="130" y="419" width="1.5" height="29.5" fill="#dc2420"/>
<rect x="130" y="448" width="1.5" height="4.5" fill="#9e1b1f"/>
<rect x="131" y="297" width="1.5" height="5.5" fill="#1f84cc"/>
<rect x="131" y="302" width="1.5" height="18.5" fill="#27ade3"/>
<rect x="131" y="320" width="1.5" height="7.5" fill="#1fb5b0"/>
<rect x="131" y="327" width="1.5" height="5.5" fill="#40b64c"/>
<rect x="131" y="332" width="1.5" height="6.5" fill="#a9cf38"/>
<rect x="131" y="338" width="1.5" height="10.5" fill="#f4e31b"/>
<rect x="131" y="348" width="1.5" height="9.5" fill="#f8a51d"/>
<rect x="131" y="357" width="1.5" height="28.5" fill="#ef5123"/>
<rect x="131" y="385" width="1.5" height="31.5" fill="#f8a51d"/>
<rect x="131" y="416" width="1.5" height="4.5" fill="#ef5123"/>
<rect x="131" y="420" width="1.5" height="32.5" fill="#dc2420"/>
<rect x="132" y="297" width="1.5" height="6.5" fill="#1f84cc"/>
<rect x="132" y="303" width="1.5" height="17.5" fill="#27ade3"/>
<rect x="132" y="320" width="1.5" height="7.5" fill="#1fb5b0"/>
<rect x="132" y="327" width="1.5" height="5.5" fill="#40b64c"/>
<rect x="132" y="332" width="1.5" height="6.5" fill="#a9cf38"/>
<rect x="132" y="338" width="1.5" height="10.5" fill="#f4e31b"/>
<rect x="132" y="348" width="1.5" height="10.5" fill="#f8a51d"/>
<rect x="132" y="358" width="1.5" height="25.5" fill="#ef5123"/>
<rect x="132" y="383" width="1.5" height="34.5" fill="#f8a51d"/>
<rect x="132" y="417" width="1.5" height="7.5" fill="#ef5123"/>
<rect x="132" y="424" width="1.5" height="28.5" fill="#dc2420"/>
<rect x="133" y="297" width="1.5" height="8.5" fill="#1f84cc"/>
<rect x="133" y="305" width="1.5" height="16.5" fill="#27ade3"/>
<rect x="133" y="321" width="1.5" height="6.5" fill="#1fb5b0"/>
<rect x="133" y="327" width="1.5" height="5.5" fill="#40b64c"/>
<rect x="133" y="332" width="1.5" height="6.5" fill="#a9cf38"/>
<rect x="133" y="338" width="1.5" height="10.5" fill="#f4e31b"/>
<rect x="133" y="348" width="1.5" height="14.5" fill="#f8a51d"/>
<rect x="133" y="362" width="1.5" height="18.5" fill="#ef5123"/>
<rect x="133" y="380" width="1.5" height="39.5" fill="#f8a51d"/>
<rect x="133" y="419" width="1.5" height="33.5" fill="#ef5123"/>
<rect x="134" y="297" width="1.5" height="10.5" fill="#1f84cc"/>
<rect x="134" y="307" width="1.5" height="15.5" fill="#27ade3"/>
<rect x="134" y="322" width="1.5" height="6.5" fill="#1fb5b0"/>
<rect x="134" y="328" width="1.5" height="5.5" fill="#40b64c"/>
<rect x="134" y="333" width="1.5" height="6.5" fill="#a9cf38"/>
<rect x="134" y="339" width="1.5" height="10.5" fill="#f4e31b"/>
<rect x="134" y="349" width="1.5" height="18.5" fill="#f8a51d"/>
<rect x="134" y="367" width="1.5" height="11.5" fill="#ef5123"/>
<rect x="134" y="378" width="1.5" height="43.5" fill="#f8a51d"/>
<rect x="134" y="421" width="1.5" height="31.5" fill="#ef5123"/>
<rect x="135" y="297" width="1.5" height="10.5" fill="#1f84cc"/>
<rect x="135" y="307" width="1.5" height="15.5" fill="#27ade3"/>
<rect x="135" y="322" width="1.5" height="5.5" fill="#1fb5b0"/>
<rect x="135" y="327" width="1.5" height="5.5" fill="#40b64c"/>
<rect x="135" y="332" width="1.5" height="6.5" fill="#a9cf38"/>
<rect x="135" y="338" width="1.5" height="10.5" fill="#f4e31b"/>
<rect x="135" y="348" width="1.5" height="17.5" fill="#f8a51d"/>
<rect x="135" y="365" width="1.5" height="13.5" fill="#ef5123"/>
<rect x="135" y="378" width="1.5" height="54.5" fill="#f8a51d"/>
<rect x="135" y="432" width="1.5" height="20.5" fill="#ef5123"/>
<rect x="136" y="297" width="1.5" height="10.5" fill="#1f84cc"/>
<rect x="136" y="307" width="1.5" height="15.5" fill="#27ade3"/>
<rect x="136" y="322" width="1.5" height="5.5" fill="#1fb5b0"/>
<rect x="136" y="327" width="1.5" height="4.5" fill="#40b64c"/>
<rect x="136" y="331" width="1.5" height="7.5" fill="#a9cf38"/>
<rect x="136" y="338" width="1.5" height="9.5" fill="#f4e31b"/>
<rect x="136" y="347" width="1.5" height="17.5" fill="#f8a51d"/>
<rect x="136" y="364" width="1.5" height="14.5" fill="#ef5123"/>
<rect x="136" y="378" width="1.5" height="74.5" fill="#f8a51d"/>
<rect x="137" y="297" width="1.5" height="8.5" fill="#1f84cc"/>
<rect x="137" y="305" width="1.5" height="17.5" fill="#27ade3"/>
<rect x="137" y="322" width="1.5" height="4.5" fill="#1fb5b0"/>
<rect x="137" y="326" width="1.5" height="5.5" fill="#40b64c"/>
<rect x="137" y="331" width="1.5" height="5.5" fill="#a9cf38"/>
<rect x="137" y="336" width="1.5" height="10.5" fill="#f4e31b"/>
<rect x="137" y="346" width="1.5" height="14.5" fill="#f8a51d"/>
<rect x="137" y="360" width="1.5" height="19.5" fill="#ef5123"/>
<rect x="137" y="379" width="1.5" height="73.5" fill="#f8a51d"/>
<rect x="138" y="297" width="1.5" height="6.5" fill="#1f84cc"/>
<rect x="138" y="303" width="1.5" height="18.5" fill="#27ade3"/>
<rect x="138" y="321" width="1.5" height="4.5" fill="#1fb5b0"/>
<rect x="138" y="325" width="1.5" height="5.5" fill="#40b64c"/>
<rect x="138" y="330" width="1.5" height="5.5" fill="#a9cf38"/>
<rect x="138" y="335" width="1.5" height="10.5" fill="#f4e31b"/>
<rect x="138" y="345" width="1.5" height="11.5" fill="#f8a51d"/>
<rect x="138" y="356" width="1.5" height="24.5" fill="#ef5123"/>
<rect x="138" y="380" width="1.5" height="72.5" fill="#f8a51d"/>
<rect x="139" y="297" width="1.5" height="4.5" fill="#1f84cc"/>
<rect x="139" y="301" width="1.5" height="18.5" fill="#27ade3"/>
<rect x="139" y="319" width="1.5" height="6.5" fill="#1fb5b0"/>
<rect x="139" y="325" width="1.5" height="4.5" fill="#40b64c"/>
<rect x="139" y="329" width="1.5" height="5.5" fill="#a9cf38"/>
<rect x="139" y="334" width="1.5" height="10.5" fill="#f4e31b"/>
<rect x="139" y="344" width="1.5" height="10.5" fill="#f8a51d"/>
<rect x="139" y="354" width="1.5" height="27.5" fill="#ef5123"/>
<rect x="139" y="381" width="1.5" height="71.5" fill="#f8a51d"/>
<rect x="140" y="297" width="1.5" height="4.5" fill="#1f84cc"/>
<rect x="140" y="301" width="1.5" height="17.5" fill="#27ade3"/>
<rect x="140" y="318" width="1.5" height="6.5" fill="#1fb5b0"/>
<rect x="140" y="324" width="1.5" height="5.5" fill="#40b64c"/>
<rect x="140" y="329" width="1.5" height="5.5" fill="#a9cf38"/>
<rect x="140" y="334" width="1.5" height="10.5" fill="#f4e31b"/>
<rect x="140" y="344" width="1.5" height="11.5" fill="#f8a51d"/>
<rect x="140" y="355" width="1.5" height="23.5" fill="#ef5123"/>
<rect x="140" y="378" width="1.5" height="74.5" fill="#f8a51d"/>
<rect x="141" y="297" width="1.5" height="5.5" fill="#1f84cc"/>
<rect x="141" y="302" width="1.5" height="16.5" fill="#27ade3"/>
<rect x="141" y="318" width="1.5" height="6.5" fill="#1fb5b0"/>
<rect x="141" y="324" width="1.5" height="5.5" fill="#40b64c"/>
<rect x="141" y="329" width="1.5" height="5.5" fill="#a9cf38"/>
<rect x="141" y="334" width="1.5" height="11.5" fill="#f4e31b"/>
<rect x="141" y="345" width="1.5" height="11.5" fill="#f8a51d"/>
<rect x="141" y="356" width="1.5" height="20.5" fill="#ef5123"/>
<rect x="141" y="376" width="1.5" height="76.5" fill="#f8a51d"/>
<rect x="142" y="297" width="1.5" height="5.5" fill="#1f84cc"/>
<rect x="142" y="302" width="1.5" height="15.5" fill="#27ade3"/>
<rect x="142" y="317" width="1.5" height="7.5" fill="#1fb5b0"/>
<rect x="142" y="324" width="1.5" height="5.5" fill="#40b64c"/>
<rect x="142" y="329" width="1.5" height="5.5" fill="#a9cf38"/>
<rect x="142" y="334" width="1.5" height="11.5" fill="#f4e31b"/>
<rect x="142" y="345" width="1.5" height="13.5" fill="#f8a51d"/>
<rect x="142" y="358" width="1.5" height="16.5" fill="#ef5123"/>
<rect x="142" y="374" width="1.5" height="52.5" fill="#f8a51d"/>
<rect x="142" y="426" width="1.5" height="26.5" fill="#f4e31b"/>
<rect x="143" y="297" width="1.5" height="5.5" fill="#1f84cc"/>
<rect x="143" y="302" width="1.5" height="15.5" fill="#27ade3"/>
<rect x="143" y="317" width="1.5" height="7.5" fill="#1fb5b0"/>
<rect x="143" y="324" width="1.5" height="5.5" fill="#40b64c"/>
<rect x="143" y="329" width="1.5" height="5.5" fill="#a9cf38"/>
<rect x="143" y="334" width="1.5" height="12.5" fill="#f4e31b"/>
<rect x="143" y="346" width="1.5" height="15.5" fill="#f8a51d"/>
<rect x="143" y="361" width="1.5" height="11.5" fill="#ef5123"/>
<rect x="143" y="372" width="1.5" height="23.5" fill="#f8a51d"/>
<rect x="143" y="395" width="1.5" height="57.5" fill="#f4e31b"/>
<rect x="144" y="297" width="1.5" height="4.5" fill="#1f84cc"/>
<rect x="144" y="301" width="1.5" height="15.5" fill="#27ade3"/>
<rect x="144" y="316" width="1.5" height="7.5" fill="#1fb5b0"/>
<rect x="144" y="323" width="1.5" height="5.5" fill="#40b64c"/>
<rect x="144" y="328" width="1.5" height="6.5" fill="#a9cf38"/>
<rect x="144" y="334" width="1.5" height="12.5" fill="#f4e31b"/>
<rect x="144" y="346" width="1.5" height="20.5" fill="#f8a51d"/>
<rect x="144" y="366" width="1.5" height="3.5" fill="#ef5123"/>
<rect x="144" y="369" width="1.5" height="18.5" fill="#f8a51d"/>
<rect x="144" y="387" width="1.5" height="65.5" fill="#f4e31b"/>
<rect x="145" y="297" width="1.5" height="3.5" fill="#1f84cc"/>
<rect x="145" y="300" width="1.5" height="15.5" fill="#27ade3"/>
<rect x="145" y="315" width="1.5" height="7.5" fill="#1fb5b0"/>
<rect x="145" y="322" width="1.5" height="5.5" fill="#40b64c"/>
<rect x="145" y="327" width="1.5" height="6.5" fill="#a9cf38"/>
<rect x="145" y="333" width="1.5" height="12.5" fill="#f4e31b"/>
<rect x="145" y="345" width="1.5" height="39.5" fill="#f8a51d"/>
<rect x="145" y="384" width="1.5" height="68.5" fill="#f4e31b"/>
<rect x="146" y="297" width="1.5" height="2.5" fill="#1f84cc"/>
<rect x="146" y="299" width="1.5" height="14.5" fill="#27ade3"/>
<rect x="146" y="313" width="1.5" height="9.5" fill="#1fb5b0"/>
<rect x="146" y="322" width="1.5" height="5.5" fill="#40b64c"/>
<rect x="146" y="327" width="1.5" height="6.5" fill="#a9cf38"/>
<rect x="146" y="333" width="1.5" height="12.5" fill="#f4e31b"/>
<rect x="146" y="345" width="1.5" height="33.5" fill="#f8a51d"/>
<rect x="146" y="378" width="1.5" height="74.5" fill="#f4e31b"/>
<rect x="147" y="297" width="1.5" height="2.5" fill="#1f84cc"/>
<rect x="147" y="299" width="1.5" height="14.5" fill="#27ade3"/>
<rect x="147" y="313" width="1.5" height="9.5" fill="#1fb5b0"/>
<rect x="147" y="322" width="1.5" height="5.5" fill="#40b64c"/>
<rect x="147" y="327" width="1.5" height="7.5" fill="#a9cf38"/>
<rect x="147" y="334" width="1.5" height="12.5" fill="#f4e31b"/>
<rect x="147" y="346" width="1.5" height="27.5" fill="#f8a51d"/>
<rect x="147" y="373" width="1.5" height="34.5" fill="#f4e31b"/>
<rect x="147" y="407" width="1.5" height="45.5" fill="#a9cf38"/>
<rect x="148" y="297" width="1.5" height="3.5" fill="#1f84cc"/>
<rect x="148" y="300" width="1.5" height="14.5" fill="#27ade3"/>
<rect x="148" y="314" width="1.5" height="9.5" fill="#1fb5b0"/>
<rect x="148" y="323" width="1.5" height="5.5" fill="#40b64c"/>
<rect x="148" y="328" width="1.5" height="7.5" fill="#a9cf38"/>
<rect x="148" y="335" width="1.5" height="13.5" fill="#f4e31b"/>
<rect x="148" y="348" width="1.5" height="21.5" fill="#f8a51d"/>
<rect x="148" y="369" width="1.5" height="15.5" fill="#f4e31b"/>
<rect x="148" y="384" width="1.5" height="68.5" fill="#a9cf38"/>
<rect x="149" y="297" width="1.5" height="4.5" fill="#1f84cc"/>
<rect x="149" y="301" width="1.5" height="15.5" fill="#27ade3"/>
<rect x="149" y="316" width="1.5" height="9.5" fill="#1fb5b0"/>
<rect x="149" y="325" width="1.5" height="5.5" fill="#40b64c"/>
<rect x="149" y="330" width="1.5" height="7.5" fill="#a9cf38"/>
<rect x="149" y="337" width="1.5" height="44.5" fill="#f4e31b"/>
<rect x="149" y="381" width="1.5" height="71.5" fill="#a9cf38"/>
<rect x="150" y="297" width="1.5" height="3.5" fill="#1f84cc"/>
<rect x="150" y="300" width="1.5" height="15.5" fill="#27ade3"/>
<rect x="150" y="315" width="1.5" height="10.5" fill="#1fb5b0"/>
<rect x="150" y="325" width="1.5" height="6.5" fill="#40b64c"/>
<rect x="150" y="331" width="1.5" height="6.5" fill="#a9cf38"/>
<rect x="150" y="337" width="1.5" height="41.5" fill="#f4e31b"/>
<rect x="150" y="378" width="1.5" height="42.5" fill="#a9cf38"/>
<rect x="150" y="420" width="1.5" height="32.5" fill="#40b64c"/>
<rect x="151" y="297" width="1.5" height="1.5" fill="#1f84cc"/>
<rect x="151" y="298" width="1.5" height="16.5" fill="#27ade3"/>
<rect x="151" y="314" width="1.5" height="10.5" fill="#1fb5b0"/>
<rect x="151" y="324" width="1.5" height="7.5" fill="#40b64c"/>
<rect x="151" y="331" width="1.5" height="6.5" fill="#a9cf38"/>
<rect x="151" y="337" width="1.5" height="41.5" fill="#f4e31b"/>
<rect x="151" y="378" width="1.5" height="35.5" fill="#a9cf38"/>
<rect x="151" y="413" width="1.5" height="39.5" fill="#40b64c"/>
<rect x="152" y="297" width="1.5" height="16.5" fill="#27ade3"/>
<rect x="152" y="313" width="1.5" height="11.5" fill="#1fb5b0"/>
<rect x="152" y="324" width="1.5" height="7.5" fill="#40b64c"/>
<rect x="152" y="331" width="1.5" height="6.5" fill="#a9cf38"/>
<rect x="152" y="337" width="1.5" height="42.5" fill="#f4e31b"/>
<rect x="152" y="379" width="1.5" height="65.5" fill="#a9cf38"/>
<rect x="152" y="444" width="1.5" height="8.5" fill="#40b64c"/>
<rect x="153" y="297" width="1.5" height="15.5" fill="#27ade3"/>
<rect x="153" y="312" width="1.5" height="12.5" fill="#1fb5b0"/>
<rect x="153" y="324" width="1.5" height="8.5" fill="#40b64c"/>
<rect x="153" y="332" width="1.5" height="6.5" fill="#a9cf38"/>
<rect x="153" y="338" width="1.5" height="42.5" fill="#f4e31b"/>
<rect x="153" y="380" width="1.5" height="72.5" fill="#a9cf38"/>
<rect x="154" y="297" width="1.5" height="15.5" fill="#27ade3"/>
<rect x="154" y="312" width="1.5" height="13.5" fill="#1fb5b0"/>
<rect x="154" y="325" width="1.5" height="7.5" fill="#40b64c"/>
<rect x="154" y="332" width="1.5" height="7.5" fill="#a9cf38"/>
<rect x="154" y="339" width="1.5" height="42.5" fill="#f4e31b"/>
<rect x="154" y="381" width="1.5" height="71.5" fill="#a9cf38"/>
<rect x="155" y="297" width="1.5" height="15.5" fill="#27ade3"/>
<rect x="155" y="312" width="1.5" height="13.5" fill="#1fb5b0"/>
<rect x="155" y="325" width="1.5" height="8.5" fill="#40b64c"/>
<rect x="155" y="333" width="1.5" height="7.5" fill="#a9cf38"/>
<rect x="155" y="340" width="1.5" height="42.5" fill="#f4e31b"/>
<rect x="155" y="382" width="1.5" height="70.5" fill="#a9cf38"/>
<rect x="156" y="297" width="1.5" height="14.5" fill="#27ade3"/>
<rect x="156" y="311" width="1.5" height="14.5" fill="#1fb5b0"/>
<rect x="156" y="325" width="1.5" height="9.5" fill="#40b64c"/>
<rect x="156" y="334" width="1.5" height="6.5" fill="#a9cf38"/>
<rect x="156" y="340" width="1.5" height="43.5" fill="#f4e31b"/>
<rect x="156" y="383" width="1.5" height="69.5" fill="#a9cf38"/>
<rect x="157" y="297" width="1.5" height="15.5" fill="#27ade3"/>
<rect x="157" y="312" width="1.5" height="13.5" fill="#1fb5b0"/>
<rect x="157" y="325" width="1.5" height="9.5" fill="#40b64c"/>
<rect x="157" y="334" width="1.5" height="7.5" fill="#a9cf38"/>
<rect x="157" y="341" width="1.5" height="44.5" fill="#f4e31b"/>
<rect x="157" y="385" width="1.5" height="67.5" fill="#a9cf38"/>
<rect x="158" y="297" width="1.5" height="16.5" fill="#27ade3"/>
<rect x="158" y="313" width="1.5" height="14.5" fill="#1fb5b0"/>
<rect x="158" y="327" width="1.5" height="8.5" fill="#40b64c"/>
<rect x="158" y="335" width="1.5" height="10.5" fill="#a9cf38"/>
<rect x="158" y="345" width="1.5" height="41.5" fill="#f4e31b"/>
<rect x="158" y="386" width="1.5" height="66.5" fill="#a9cf38"/>
<rect x="159" y="297" width="1.5" height="1.5" fill="#1f84cc"/>
<rect x="159" y="298" width="1.5" height="16.5" fill="#27ade3"/>
<rect x="159" y="314" width="1.5" height="14.5" fill="#1fb5b0"/>
<rect x="159" y="328" width="1.5" height="8.5" fill="#40b64c"/>
<rect x="159" y="336" width="1.5" height="12.5" fill="#a9cf38"/>
<rect x="159" y="348" width="1.5" height="39.5" fill="#f4e31b"/>
<rect x="159" y="387" width="1.5" height="51.5" fill="#a9cf38"/>
<rect x="159" y="438" width="1.5" height="14.5" fill="#40b64c"/>
<rect x="160" y="297" width="1.5" height="16.5" fill="#27ade3"/>
<rect x="160" y="313" width="1.5" height="13.5" fill="#1fb5b0"/>
<rect x="160" y="326" width="1.5" height="9.5" fill="#40b64c"/>
<rect x="160" y="335" width="1.5" height="12.5" fill="#a9cf38"/>
<rect x="160" y="347" width="1.5" height="40.5" fill="#f4e31b"/>
<rect x="160" y="387" width="1.5" height="42.5" fill="#a9cf38"/>
<rect x="160" y="429" width="1.5" height="23.5" fill="#40b64c"/>
<rect x="161" y="297" width="1.5" height="15.5" fill="#27ade3"/>
<rect x="161" y="312" width="1.5" height="13.5" fill="#1fb5b0"/>
<rect x="161" y="325" width="1.5" height="8.5" fill="#40b64c"/>
<rect x="161" y="333" width="1.5" height="12.5" fill="#a9cf38"/>
<rect x="161" y="345" width="1.5" height="38.5" fill="#f4e31b"/>
<rect x="161" y="383" width="1.5" height="32.5" fill="#a9cf38"/>
<rect x="161" y="415" width="1.5" height="37.5" fill="#40b64c"/>
<rect x="162" y="297" width="1.5" height="14.5" fill="#27ade3"/>
<rect x="162" y="311" width="1.5" height="12.5" fill="#1fb5b0"/>
<rect x="162" y="323" width="1.5" height="9.5" fill="#40b64c"/>
<rect x="162" y="332" width="1.5" height="10.5" fill="#a9cf38"/>
<rect x="162" y="342" width="1.5" height="39.5" fill="#f4e31b"/>
<rect x="162" y="381" width="1.5" height="21.5" fill="#a9cf38"/>
<rect x="162" y="402" width="1.5" height="50.5" fill="#40b64c"/>
<rect x="163" y="297" width="1.5" height="13.5" fill="#27ade3"/>
<rect x="163" y="310" width="1.5" height="12.5" fill="#1fb5b0"/>
<rect x="163" y="322" width="1.5" height="8.5" fill="#40b64c"/>
<rect x="163" y="330" width="1.5" height="10.5" fill="#a9cf38"/>
<rect x="163" y="340" width="1.5" height="40.5" fill="#f4e31b"/>
<rect x="163" y="380" width="1.5" height="18.5" fill="#a9cf38"/>
<rect x="163" y="398" width="1.5" height="54.5" fill="#40b64c"/>
<rect x="164" y="297" width="1.5" height="11.5" fill="#27ade3"/>
<rect x="164" y="308" width="1.5" height="13.5" fill="#1fb5b0"/>
<rect x="164" y="321" width="1.5" height="7.5" fill="#40b64c"/>
<rect x="164" y="328" width="1.5" height="9.5" fill="#a9cf38"/>
<rect x="164" y="337" width="1.5" height="42.5" fill="#f4e31b"/>
<rect x="164" y="379" width="1.5" height="16.5" fill="#a9cf38"/>
<rect x="164" y="395" width="1.5" height="57.5" fill="#40b64c"/>
<rect x="165" y="297" width="1.5" height="9.5" fill="#27ade3"/>
<rect x="165" y="306" width="1.5" height="13.5" fill="#1fb5b0"/>
<rect x="165" y="319" width="1.5" height="8.5" fill="#40b64c"/>
<rect x="165" y="327" width="1.5" height="7.5" fill="#a9cf38"/>
<rect x="165" y="334" width="1.5" height="43.5" fill="#f4e31b"/>
<rect x="165" y="377" width="1.5" height="15.5" fill="#a9cf38"/>
<rect x="165" y="392" width="1.5" height="60.5" fill="#40b64c"/>
<rect x="166" y="297" width="1.5" height="7.5" fill="#27ade3"/>
<rect x="166" y="304" width="1.5" height="14.5" fill="#1fb5b0"/>
<rect x="166" y="318" width="1.5" height="7.5" fill="#40b64c"/>
<rect x="166" y="325" width="1.5" height="6.5" fill="#a9cf38"/>
<rect x="166" y="331" width="1.5" height="45.5" fill="#f4e31b"/>
<rect x="166" y="376" width="1.5" height="12.5" fill="#a9cf38"/>
<rect x="166" y="388" width="1.5" height="64.5" fill="#40b64c"/>
<rect x="167" y="297" width="1.5" height="5.5" fill="#27ade3"/>
<rect x="167" y="302" width="1.5" height="15.5" fill="#1fb5b0"/>
<rect x="167" y="317" width="1.5" height="7.5" fill="#40b64c"/>
<rect x="167" y="324" width="1.5" height="6.5" fill="#a9cf38"/>
<rect x="167" y="330" width="1.5" height="45.5" fill="#f4e31b"/>
<rect x="167" y="375" width="1.5" height="12.5" fill="#a9cf38"/>
<rect x="167" y="387" width="1.5" height="52.5" fill="#40b64c"/>
<rect x="167" y="439" width="1.5" height="13.5" fill="#1fb5b0"/>
<rect x="168" y="297" width="1.5" height="5.5" fill="#27ade3"/>
<rect x="168" y="302" width="1.5" height="15.5" fill="#1fb5b0"/>
<rect x="168" y="317" width="1.5" height="6.5" fill="#40b64c"/>
<rect x="168" y="323" width="1.5" height="6.5" fill="#a9cf38"/>
<rect x="168" y="329" width="1.5" height="47.5" fill="#f4e31b"/>
<rect x="168" y="376" width="1.5" height="11.5" fill="#a9cf38"/>
<rect x="168" y="387" width="1.5" height="47.5" fill="#40b64c"/>
<rect x="168" y="434" width="1.5" height="18.5" fill="#1fb5b0"/>
<rect x="169" y="297" width="1.5" height="7.5" fill="#27ade3"/>
<rect x="169" y="304" width="1.5" height="13.5" fill="#1fb5b0"/>
<rect x="169" y="317" width="1.5" height="7.5" fill="#40b64c"/>
<rect x="169" y="324" width="1.5" height="6.5" fill="#a9cf38"/>
<rect x="169" y="330" width="1.5" height="47.5" fill="#f4e31b"/>
<rect x="169" y="377" width="1.5" height="11.5" fill="#a9cf38"/>
<rect x="169" y="388" width="1.5" height="42.5" fill="#40b64c"/>
<rect x="169" y="430" width="1.5" height="22.5" fill="#1fb5b0"/>
<rect x="170" y="297" width="1.5" height="8.5" fill="#27ade3"/>
<rect x="170" y="305" width="1.5" height="13.5" fill="#1fb5b0"/>
<rect x="170" y="318" width="1.5" height="6.5" fill="#40b64c"/>
<rect x="170" y="324" width="1.5" height="6.5" fill="#a9cf38"/>
<rect x="170" y="330" width="1.5" height="49.5" fill="#f4e31b"/>
<rect x="170" y="379" width="1.5" height="11.5" fill="#a9cf38"/>
<rect x="170" y="390" width="1.5" height="37.5" fill="#40b64c"/>
<rect x="170" y="427" width="1.5" height="25.5" fill="#1fb5b0"/>
<rect x="171" y="297" width="1.5" height="8.5" fill="#27ade3"/>
<rect x="171" y="305" width="1.5" height="12.5" fill="#1fb5b0"/>
<rect x="171" y="317" width="1.5" height="7.5" fill="#40b64c"/>
<rect x="171" y="324" width="1.5" height="6.5" fill="#a9cf38"/>
<rect x="171" y="330" width="1.5" height="49.5" fill="#f4e31b"/>
<rect x="171" y="379" width="1.5" height="11.5" fill="#a9cf38"/>
<rect x="171" y="390" width="1.5" height="33.5" fill="#40b64c"/>
<rect x="171" y="423" width="1.5" height="29.5" fill="#1fb5b0"/>
<rect x="172" y="297" width="1.5" height="8.5" fill="#27ade3"/>
<rect x="172" y="305" width="1.5" height="12.5" fill="#1fb5b0"/>
<rect x="172" y="317" width="1.5" height="6.5" fill="#40b64c"/>
<rect x="172" y="323" width="1.5" height="6.5" fill="#a9cf38"/>
<rect x="172" y="329" width="1.5" height="49.5" fill="#f4e31b"/>
<rect x="172" y="378" width="1.5" height="11.5" fill="#a9cf38"/>
<rect x="172" y="389" width="1.5" height="26.5" fill="#40b64c"/>
<rect x="172" y="415" width="1.5" height="37.5" fill="#1fb5b0"/>
<rect x="173" y="297" width="1.5" height="10.5" fill="#27ade3"/>
<rect x="173" y="307" width="1.5" height="9.5" fill="#1fb5b0"/>
<rect x="173" y="316" width="1.5" height="6.5" fill="#40b64c"/>
<rect x="173" y="322" width="1.5" height="7.5" fill="#a9cf38"/>
<rect x="173" y="329" width="1.5" height="49.5" fill="#f4e31b"/>
<rect x="173" y="378" width="1.5" height="11.5" fill="#a9cf38"/>
<rect x="173" y="389" width="1.5" height="34.5" fill="#40b64c"/>
<rect x="173" y="423" width="1.5" height="29.5" fill="#1fb5b0"/>
<rect x="174" y="297" width="1.5" height="12.5" fill="#27ade3"/>
<rect x="174" y="309" width="1.5" height="8.5" fill="#1fb5b0"/>
<rect x="174" y="317" width="1.5" height="6.5" fill="#40b64c"/>
<rect x="174" y="323" width="1.5" height="7.5" fill="#a9cf38"/>
<rect x="174" y="330" width="1.5" height="49.5" fill="#f4e31b"/>
<rect x="174" y="379" width="1.5" height="13.5" fill="#a9cf38"/>
<rect x="174" y="392" width="1.5" height="60.5" fill="#40b64c"/>
<rect x="175" y="297" width="1.5" height="13.5" fill="#27ade3"/>
<rect x="175" y="310" width="1.5" height="8.5" fill="#1fb5b0"/>
<rect x="175" y="318" width="1.5" height="6.5" fill="#40b64c"/>
<rect x="175" y="324" width="1.5" height="7.5" fill="#a9cf38"/>
<rect x="175" y="331" width="1.5" height="51.5" fill="#f4e31b"/>
<rect x="175" y="382" width="1.5" height="17.5" fill="#a9cf38"/>
<rect x="175" y="399" width="1.5" height="53.5" fill="#40b64c"/>
<rect x="176" y="297" width="1.5" height="14.5" fill="#27ade3"/>
<rect x="176" y="311" width="1.5" height="8.5" fill="#1fb5b0"/>
<rect x="176" y="319" width="1.5" height="6.5" fill="#40b64c"/>
<rect x="176" y="325" width="1.5" height="7.5" fill="#a9cf38"/>
<rect x="176" y="332" width="1.5" height="20.5" fill="#f4e31b"/>
<rect x="176" y="352" width="1.5" height="9.5" fill="#f8a51d"/>
<rect x="176" y="361" width="1.5" height="25.5" fill="#f4e31b"/>
<rect x="176" y="386" width="1.5" height="45.5" fill="#a9cf38"/>
<rect x="176" y="431" width="1.5" height="21.5" fill="#40b64c"/>
<rect x="177" y="297" width="1.5" height="14.5" fill="#27ade3"/>
<rect x="177" y="311" width="1.5" height="8.5" fill="#1fb5b0"/>
<rect x="177" y="319" width="1.5" height="6.5" fill="#40b64c"/>
<rect x="177" y="325" width="1.5" height="7.5" fill="#a9cf38"/>
<rect x="177" y="332" width="1.5" height="16.5" fill="#f4e31b"/>
<rect x="177" y="348" width="1.5" height="27.5" fill="#f8a51d"/>
<rect x="177" y="375" width="1.5" height="16.5" fill="#f4e31b"/>
<rect x="177" y="391" width="1.5" height="61.5" fill="#a9cf38"/>
<rect x="178" y="297" width="1.5" height="13.5" fill="#27ade3"/>
<rect x="178" y="310" width="1.5" height="8.5" fill="#1fb5b0"/>
<rect x="178" y="318" width="1.5" height="6.5" fill="#40b64c"/>
<rect x="178" y="324" width="1.5" height="5.5" fill="#a9cf38"/>
<rect x="178" y="329" width="1.5" height="14.5" fill="#f4e31b"/>
<rect x="178" y="343" width="1.5" height="39.5" fill="#f8a51d"/>
<rect x="178" y="382" width="1.5" height="44.5" fill="#f4e31b"/>
<rect x="178" y="426" width="1.5" height="26.5" fill="#a9cf38"/>
<rect x="179" y="297" width="1.5" height="10.5" fill="#27ade3"/>
<rect x="179" y="307" width="1.5" height="10.5" fill="#1fb5b0"/>
<rect x="179" y="317" width="1.5" height="6.5" fill="#40b64c"/>
<rect x="179" y="323" width="1.5" height="5.5" fill="#a9cf38"/>
<rect x="179" y="328" width="1.5" height="12.5" fill="#f4e31b"/>
<rect x="179" y="340" width="1.5" height="51.5" fill="#f8a51d"/>
<rect x="179" y="391" width="1.5" height="61.5" fill="#f4e31b"/>
<rect x="180" y="297" width="1.5" height="11.5" fill="#27ade3"/>
<rect x="180" y="308" width="1.5" height="9.5" fill="#1fb5b0"/>
<rect x="180" y="317" width="1.5" height="6.5" fill="#40b64c"/>
<rect x="180" y="323" width="1.5" height="5.5" fill="#a9cf38"/>
<rect x="180" y="328" width="1.5" height="12.5" fill="#f4e31b"/>
<rect x="180" y="340" width="1.5" height="17.5" fill="#f8a51d"/>
<rect x="180" y="357" width="1.5" height="18.5" fill="#ef5123"/>
<rect x="180" y="375" width="1.5" height="23.5" fill="#f8a51d"/>
<rect x="180" y="398" width="1.5" height="54.5" fill="#f4e31b"/>
<rect x="181" y="297" width="1.5" height="12.5" fill="#27ade3"/>
<rect x="181" y="309" width="1.5" height="8.5" fill="#1fb5b0"/>
<rect x="181" y="317" width="1.5" height="5.5" fill="#40b64c"/>
<rect x="181" y="322" width="1.5" height="6.5" fill="#a9cf38"/>
<rect x="181" y="328" width="1.5" height="12.5" fill="#f4e31b"/>
<rect x="181" y="340" width="1.5" height="13.5" fill="#f8a51d"/>
<rect x="181" y="353" width="1.5" height="33.5" fill="#ef5123"/>
<rect x="181" y="386" width="1.5" height="30.5" fill="#f8a51d"/>
<rect x="181" y="416" width="1.5" height="36.5" fill="#f4e31b"/>
<rect x="182" y="297" width="1.5" height="12.5" fill="#27ade3"/>
<rect x="182" y="309" width="1.5" height="8.5" fill="#1fb5b0"/>
<rect x="182" y="317" width="1.5" height="5.5" fill="#40b64c"/>
<rect x="182" y="322" width="1.5" height="5.5" fill="#a9cf38"/>
<rect x="182" y="327" width="1.5" height="12.5" fill="#f4e31b"/>
<rect x="182" y="339" width="1.5" height="11.5" fill="#f8a51d"/>
<rect x="182" y="350" width="1.5" height="41.5" fill="#ef5123"/>
<rect x="182" y="391" width="1.5" height="44.5" fill="#f8a51d"/>
<rect x="182" y="435" width="1.5" height="17.5" fill="#f4e31b"/>
<rect x="183" y="297" width="1.5" height="12.5" fill="#27ade3"/>
<rect x="183" y="309" width="1.5" height="7.5" fill="#1fb5b0"/>
<rect x="183" y="316" width="1.5" height="5.5" fill="#40b64c"/>
<rect x="183" y="321" width="1.5" height="6.5" fill="#a9cf38"/>
<rect x="183" y="327" width="1.5" height="11.5" fill="#f4e31b"/>
<rect x="183" y="338" width="1.5" height="10.5" fill="#f8a51d"/>
<rect x="183" y="348" width="1.5" height="47.5" fill="#ef5123"/>
<rect x="183" y="395" width="1.5" height="50.5" fill="#f8a51d"/>
<rect x="183" y="445" width="1.5" height="7.5" fill="#f4e31b"/>
<rect x="184" y="297" width="1.5" height="12.5" fill="#27ade3"/>
<rect x="184" y="309" width="1.5" height="7.5" fill="#1fb5b0"/>
<rect x="184" y="316" width="1.5" height="5.5" fill="#40b64c"/>
<rect x="184" y="321" width="1.5" height="6.5" fill="#a9cf38"/>
<rect x="184" y="327" width="1.5" height="11.5" fill="#f4e31b"/>
<rect x="184" y="338" width="1.5" height="10.5" fill="#f8a51d"/>
<rect x="184" y="348" width="1.5" height="50.5" fill="#ef5123"/>
<rect x="184" y="398" width="1.5" height="49.5" fill="#f8a51d"/>
<rect x="184" y="447" width="1.5" height="5.5" fill="#f4e31b"/>
<rect x="185" y="297" width="1.5" height="12.5" fill="#27ade3"/>
<rect x="185" y="309" width="1.5" height="7.5" fill="#1fb5b0"/>
<rect x="185" y="316" width="1.5" height="6.5" fill="#40b64c"/>
<rect x="185" y="322" width="1.5" height="5.5" fill="#a9cf38"/>
<rect x="185" y="327" width="1.5" height="11.5" fill="#f4e31b"/>
<rect x="185" y="338" width="1.5" height="10.5" fill="#f8a51d"/>
<rect x="185" y="348" width="1.5" height="52.5" fill="#ef5123"/>
<rect x="185" y="400" width="1.5" height="46.5" fill="#f8a51d"/>
<rect x="185" y="446" width="1.5" height="6.5" fill="#f4e31b"/>
<rect x="186" y="297" width="1.5" height="13.5" fill="#27ade3"/>
<rect x="186" y="310" width="1.5" height="7.5" fill="#1fb5b0"/>
<rect x="186" y="317" width="1.5" height="5.5" fill="#40b64c"/>
<rect x="186" y="322" width="1.5" height="5.5" fill="#a9cf38"/>
<rect x="186" y="327" width="1.5" height="11.5" fill="#f4e31b"/>
<rect x="186" y="338" width="1.5" height="11.5" fill="#f8a51d"/>
<rect x="186" y="349" width="1.5" height="54.5" fill="#ef5123"/>
<rect x="186" y="403" width="1.5" height="43.5" fill="#f8a51d"/>
<rect x="186" y="446" width="1.5" height="6.5" fill="#f4e31b"/>
<rect x="187" y="297" width="1.5" height="13.5" fill="#27ade3"/>
<rect x="187" y="310" width="1.5" height="7.5" fill="#1fb5b0"/>
<rect x="187" y="317" width="1.5" height="5.5" fill="#40b64c"/>
<rect x="187" y="322" width="1.5" height="6.5" fill="#a9cf38"/>
<rect x="187" y="328" width="1.5" height="10.5" fill="#f4e31b"/>
<rect x="187" y="338" width="1.5" height="11.5" fill="#f8a51d"/>
<rect x="187" y="349" width="1.5" height="56.5" fill="#ef5123"/>
<rect x="187" y="405" width="1.5" height="41.5" fill="#f8a51d"/>
<rect x="187" y="446" width="1.5" height="6.5" fill="#f4e31b"/>
<rect x="188" y="297" width="1.5" height="14.5" fill="#27ade3"/>
<rect x="188" y="311" width="1.5" height="6.5" fill="#1fb5b0"/>
<rect x="188" y="317" width="1.5" height="5.5" fill="#40b64c"/>
<rect x="188" y="322" width="1.5" height="6.5" fill="#a9cf38"/>
<rect x="188" y="328" width="1.5" height="11.5" fill="#f4e31b"/>
<rect x="188" y="339" width="1.5" height="10.5" fill="#f8a51d"/>
<rect x="188" y="349" width="1.5" height="29.5" fill="#ef5123"/>
<rect x="188" y="378" width="1.5" height="8.5" fill="#dc2420"/>
<rect x="188" y="386" width="1.5" height="20.5" fill="#ef5123"/>
<rect x="188" y="406" width="1.5" height="41.5" fill="#f8a51d"/>
<rect x="188" y="447" width="1.5" height="5.5" fill="#f4e31b"/>
<rect x="189" y="297" width="1.5" height="14.5" fill="#27ade3"/>
<rect x="189" y="311" width="1.5" height="6.5" fill="#1fb5b0"/>
<rect x="189" y="317" width="1.5" height="5.5" fill="#40b64c"/>
<rect x="189" y="322" width="1.5" height="6.5" fill="#a9cf38"/>
<rect x="189" y="328" width="1.5" height="10.5" fill="#f4e31b"/>
<rect x="189" y="338" width="1.5" height="11.5" fill="#f8a51d"/>
<rect x="189" y="349" width="1.5" height="18.5" fill="#ef5123"/>
<rect x="189" y="367" width="1.5" height="28.5" fill="#dc2420"/>
<rect x="189" y="395" width="1.5" height="12.5" fill="#ef5123"/>
<rect x="189" y="407" width="1.5" height="40.5" fill="#f8a51d"/>
<rect x="189" y="447" width="1.5" height="5.5" fill="#f4e31b"/>
<rect x="190" y="297" width="1.5" height="11.5" fill="#27ade3"/>
<rect x="190" y="308" width="1.5" height="7.5" fill="#1fb5b0"/>
<rect x="190" y="315" width="1.5" height="5.5" fill="#40b64c"/>
<rect x="190" y="320" width="1.5" height="6.5" fill="#a9cf38"/>
<rect x="190" y="326" width="1.5" height="10.5" fill="#f4e31b"/>
<rect x="190" y="336" width="1.5" height="11.5" fill="#f8a51d"/>
<rect x="190" y="347" width="1.5" height="9.5" fill="#ef5123"/>
<rect x="190" y="356" width="1.5" height="42.5" fill="#dc2420"/>
<rect x="190" y="398" width="1.5" height="11.5" fill="#ef5123"/>
<rect x="190" y="409" width="1.5" height="43.5" fill="#f8a51d"/>
<rect x="191" y="297" width="1.5" height="6.5" fill="#27ade3"/>
<rect x="191" y="303" width="1.5" height="10.5" fill="#1fb5b0"/>
<rect x="191" y="313" width="1.5" height="5.5" fill="#40b64c"/>
<rect x="191" y="318" width="1.5" height="6.5" fill="#a9cf38"/>
<rect x="191" y="324" width="1.5" height="9.5" fill="#f4e31b"/>
<rect x="191" y="333" width="1.5" height="12.5" fill="#f8a51d"/>
<rect x="191" y="345" width="1.5" height="8.5" fill="#ef5123"/>
<rect x="191" y="353" width="1.5" height="46.5" fill="#dc2420"/>
<rect x="191" y="399" width="1.5" height="13.5" fill="#ef5123"/>
<rect x="191" y="412" width="1.5" height="40.5" fill="#f8a51d"/>
<rect x="192" y="297" width="1.5" height="4.5" fill="#27ade3"/>
<rect x="192" y="301" width="1.5" height="10.5" fill="#1fb5b0"/>
<rect x="192" y="311" width="1.5" height="6.5" fill="#40b64c"/>
<rect x="192" y="317" width="1.5" height="6.5" fill="#a9cf38"/>
<rect x="192" y="323" width="1.5" height="9.5" fill="#f4e31b"/>
<rect x="192" y="332" width="1.5" height="12.5" fill="#f8a51d"/>
<rect x="192" y="344" width="1.5" height="8.5" fill="#ef5123"/>
<rect x="192" y="352" width="1.5" height="48.5" fill="#dc2420"/>
<rect x="192" y="400" width="1.5" height="12.5" fill="#ef5123"/>
<rect x="192" y="412" width="1.5" height="40.5" fill="#f8a51d"/>
<rect x="193" y="297" width="1.5" height="4.5" fill="#27ade3"/>
<rect x="193" y="301" width="1.5" height="9.5" fill="#1fb5b0"/>
<rect x="193" y="310" width="1.5" height="6.5" fill="#40b64c"/>
<rect x="193" y="316" width="1.5" height="6.5" fill="#a9cf38"/>
<rect x="193" y="322" width="1.5" height="10.5" fill="#f4e31b"/>
<rect x="193" y="332" width="1.5" height="12.5" fill="#f8a51d"/>
<rect x="193" y="344" width="1.5" height="8.5" fill="#ef5123"/>
<rect x="193" y="352" width="1.5" height="47.5" fill="#dc2420"/>
<rect x="193" y="399" width="1.5" height="12.5" fill="#ef5123"/>
<rect x="193" y="411" width="1.5" height="41.5" fill="#f8a51d"/>
<rect x="194" y="297" width="1.5" height="4.5" fill="#27ade3"/>
<rect x="194" y="301" width="1.5" height="8.5" fill="#1fb5b0"/>
<rect x="194" y="309" width="1.5" height="6.5" fill="#40b64c"/>
<rect x="194" y="315" width="1.5" height="7.5" fill="#a9cf38"/>
<rect x="194" y="322" width="1.5" height="11.5" fill="#f4e31b"/>
<rect x="194" y="333" width="1.5" height="12.5" fill="#f8a51d"/>
<rect x="194" y="345" width="1.5" height="7.5" fill="#ef5123"/>
<rect x="194" y="352" width="1.5" height="47.5" fill="#dc2420"/>
<rect x="194" y="399" width="1.5" height="11.5" fill="#ef5123"/>
<rect x="194" y="410" width="1.5" height="34.5" fill="#f8a51d"/>
<rect x="194" y="444" width="1.5" height="8.5" fill="#f4e31b"/>
<rect x="195" y="297" width="1.5" height="4.5" fill="#27ade3"/>
<rect x="195" y="301" width="1.5" height="8.5" fill="#1fb5b0"/>
<rect x="195" y="309" width="1.5" height="6.5" fill="#40b64c"/>
<rect x="195" y="315" width="1.5" height="7.5" fill="#a9cf38"/>
<rect x="195" y="322" width="1.5" height="12.5" fill="#f4e31b"/>
<rect x="195" y="334" width="1.5" height="12.5" fill="#f8a51d"/>
<rect x="195" y="346" width="1.5" height="7.5" fill="#ef5123"/>
<rect x="195" y="353" width="1.5" height="45.5" fill="#dc2420"/>
<rect x="195" y="398" width="1.5" height="11.5" fill="#ef5123"/>
<rect x="195" y="409" width="1.5" height="22.5" fill="#f8a51d"/>
<rect x="195" y="431" width="1.5" height="21.5" fill="#f4e31b"/>
<rect x="196" y="297" width="1.5" height="5.5" fill="#27ade3"/>
<rect x="196" y="302" width="1.5" height="6.5" fill="#1fb5b0"/>
<rect x="196" y="308" width="1.5" height="6.5" fill="#40b64c"/>
<rect x="196" y="314" width="1.5" height="7.5" fill="#a9cf38"/>
<rect x="196" y="321" width="1.5" height="14.5" fill="#f4e31b"/>
<rect x="196" y="335" width="1.5" height="12.5" fill="#f8a51d"/>
<rect x="196" y="347" width="1.5" height="7.5" fill="#ef5123"/>
<rect x="196" y="354" width="1.5" height="43.5" fill="#dc2420"/>
<rect x="196" y="397" width="1.5" height="11.5" fill="#ef5123"/>
<rect x="196" y="408" width="1.5" height="10.5" fill="#f8a51d"/>
<rect x="196" y="418" width="1.5" height="34.5" fill="#f4e31b"/>
<rect x="197" y="297" width="1.5" height="5.5" fill="#27ade3"/>
<rect x="197" y="302" width="1.5" height="7.5" fill="#1fb5b0"/>
<rect x="197" y="309" width="1.5" height="6.5" fill="#40b64c"/>
<rect x="197" y="315" width="1.5" height="8.5" fill="#a9cf38"/>
<rect x="197" y="323" width="1.5" height="13.5" fill="#f4e31b"/>
<rect x="197" y="336" width="1.5" height="11.5" fill="#f8a51d"/>
<rect x="197" y="347" width="1.5" height="9.5" fill="#ef5123"/>
<rect x="197" y="356" width="1.5" height="37.5" fill="#dc2420"/>
<rect x="197" y="393" width="1.5" height="13.5" fill="#ef5123"/>
<rect x="197" y="406" width="1.5" height="11.5" fill="#f8a51d"/>
<rect x="197" y="417" width="1.5" height="35.5" fill="#f4e31b"/>
<rect x="198" y="297" width="1.5" height="6.5" fill="#27ade3"/>
<rect x="198" y="303" width="1.5" height="7.5" fill="#1fb5b0"/>
<rect x="198" y="310" width="1.5" height="7.5" fill="#40b64c"/>
<rect x="198" y="317" width="1.5" height="8.5" fill="#a9cf38"/>
<rect x="198" y="325" width="1.5" height="12.5" fill="#f4e31b"/>
<rect x="198" y="337" width="1.5" height="11.5" fill="#f8a51d"/>
<rect x="198" y="348" width="1.5" height="11.5" fill="#ef5123"/>
<rect x="198" y="359" width="1.5" height="29.5" fill="#dc2420"/>
<rect x="198" y="388" width="1.5" height="14.5" fill="#ef5123"/>
<rect x="198" y="402" width="1.5" height="12.5" fill="#f8a51d"/>
<rect x="198" y="414" width="1.5" height="38.5" fill="#f4e31b"/>
<rect x="199" y="297" width="1.5" height="6.5" fill="#27ade3"/>
<rect x="199" y="303" width="1.5" height="9.5" fill="#1fb5b0"/>
<rect x="199" y="312" width="1.5" height="7.5" fill="#40b64c"/>
<rect x="199" y="319" width="1.5" height="8.5" fill="#a9cf38"/>
<rect x="199" y="327" width="1.5" height="11.5" fill="#f4e31b"/>
<rect x="199" y="338" width="1.5" height="11.5" fill="#f8a51d"/>
<rect x="199" y="349" width="1.5" height="21.5" fill="#ef5123"/>
<rect x="199" y="370" width="1.5" height="12.5" fill="#dc2420"/>
<rect x="199" y="382" width="1.5" height="17.5" fill="#ef5123"/>
<rect x="199" y="399" width="1.5" height="11.5" fill="#f8a51d"/>
<rect x="199" y="410" width="1.5" height="42.5" fill="#f4e31b"/>
<rect x="200" y="297" width="1.5" height="8.5" fill="#27ade3"/>
<rect x="200" y="305" width="1.5" height="10.5" fill="#1fb5b0"/>
<rect x="200" y="315" width="1.5" height="6.5" fill="#40b64c"/>
<rect x="200" y="321" width="1.5" height="8.5" fill="#a9cf38"/>
<rect x="200" y="329" width="1.5" height="12.5" fill="#f4e31b"/>
<rect x="200" y="341" width="1.5" height="10.5" fill="#f8a51d"/>
<rect x="200" y="351" width="1.5" height="45.5" fill="#ef5123"/>
<rect x="200" y="396" width="1.5" height="8.5" fill="#f8a51d"/>
<rect x="200" y="404" width="1.5" height="38.5" fill="#f4e31b"/>
<rect x="200" y="442" width="1.5" height="10.5" fill="#a9cf38"/>
<rect x="201" y="297" width="1.5" height="9.5" fill="#27ade3"/>
<rect x="201" y="306" width="1.5" height="11.5" fill="#1fb5b0"/>
<rect x="201" y="317" width="1.5" height="7.5" fill="#40b64c"/>
<rect x="201" y="324" width="1.5" height="7.5" fill="#a9cf38"/>
<rect x="201" y="331" width="1.5" height="12.5" fill="#f4e31b"/>
<rect x="201" y="343" width="1.5" height="10.5" fill="#f8a51d"/>
<rect x="201" y="353" width="1.5" height="38.5" fill="#ef5123"/>
<rect x="201" y="391" width="1.5" height="10.5" fill="#f8a51d"/>
<rect x="201" y="401" width="1.5" height="16.5" fill="#f4e31b"/>
<rect x="201" y="417" width="1.5" height="35.5" fill="#a9cf38"/>
<rect x="202" y="297" width="1.5" height="12.5" fill="#27ade3"/>
<rect x="202" y="309" width="1.5" height="10.5" fill="#1fb5b0"/>
<rect x="202" y="319" width="1.5" height="6.5" fill="#40b64c"/>
<rect x="202" y="325" width="1.5" height="6.5" fill="#a9cf38"/>
<rect x="202" y="331" width="1.5" height="14.5" fill="#f4e31b"/>
<rect x="202" y="345" width="1.5" height="11.5" fill="#f8a51d"/>
<rect x="202" y="356" width="1.5" height="31.5" fill="#ef5123"/>
<rect x="202" y="387" width="1.5" height="11.5" fill="#f8a51d"/>
<rect x="202" y="398" width="1.5" height="7.5" fill="#f4e31b"/>
<rect x="202" y="405" width="1.5" height="47.5" fill="#a9cf38"/>
<rect x="203" y="297" width="1.5" height="14.5" fill="#27ade3"/>
<rect x="203" y="311" width="1.5" height="9.5" fill="#1fb5b0"/>
<rect x="203" y="320" width="1.5" height="6.5" fill="#40b64c"/>
<rect x="203" y="326" width="1.5" height="7.5" fill="#a9cf38"/>
<rect x="203" y="333" width="1.5" height="14.5" fill="#f4e31b"/>
<rect x="203" y="347" width="1.5" height="18.5" fill="#f8a51d"/>
<rect x="203" y="365" width="1.5" height="19.5" fill="#ef5123"/>
<rect x="203" y="384" width="1.5" height="12.5" fill="#f8a51d"/>
<rect x="203" y="396" width="1.5" height="7.5" fill="#f4e31b"/>
<rect x="203" y="403" width="1.5" height="49.5" fill="#a9cf38"/>
<rect x="204" y="297" width="1.5" height="14.5" fill="#27ade3"/>
<rect x="204" y="311" width="1.5" height="9.5" fill="#1fb5b0"/>
<rect x="204" y="320" width="1.5" height="6.5" fill="#40b64c"/>
<rect x="204" y="326" width="1.5" height="8.5" fill="#a9cf38"/>
<rect x="204" y="334" width="1.5" height="15.5" fill="#f4e31b"/>
<rect x="204" y="349" width="1.5" height="44.5" fill="#f8a51d"/>
<rect x="204" y="393" width="1.5" height="10.5" fill="#f4e31b"/>
<rect x="204" y="403" width="1.5" height="49.5" fill="#a9cf38"/>
<rect x="205" y="297" width="1.5" height="10.5" fill="#27ade3"/>
<rect x="205" y="307" width="1.5" height="12.5" fill="#1fb5b0"/>
<rect x="205" y="319" width="1.5" height="7.5" fill="#40b64c"/>
<rect x="205" y="326" width="1.5" height="8.5" fill="#a9cf38"/>
<rect x="205" y="334" width="1.5" height="16.5" fill="#f4e31b"/>
<rect x="205" y="350" width="1.5" height="41.5" fill="#f8a51d"/>
<rect x="205" y="391" width="1.5" height="13.5" fill="#f4e31b"/>
<rect x="205" y="404" width="1.5" height="48.5" fill="#a9cf38"/>
<rect x="206" y="297" width="1.5" height="6.5" fill="#27ade3"/>
<rect x="206" y="303" width="1.5" height="15.5" fill="#1fb5b0"/>
<rect x="206" y="318" width="1.5" height="7.5" fill="#40b64c"/>
<rect x="206" y="325" width="1.5" height="9.5" fill="#a9cf38"/>
<rect x="206" y="334" width="1.5" height="17.5" fill="#f4e31b"/>
<rect x="206" y="351" width="1.5" height="37.5" fill="#f8a51d"/>
<rect x="206" y="388" width="1.5" height="34.5" fill="#f4e31b"/>
<rect x="206" y="422" width="1.5" height="30.5" fill="#a9cf38"/>
<rect x="207" y="297" width="1.5" height="7.5" fill="#27ade3"/>
<rect x="207" y="304" width="1.5" height="14.5" fill="#1fb5b0"/>
<rect x="207" y="318" width="1.5" height="9.5" fill="#40b64c"/>
<rect x="207" y="327" width="1.5" height="8.5" fill="#a9cf38"/>
<rect x="207" y="335" width="1.5" height="32.5" fill="#f4e31b"/>
<rect x="207" y="367" width="1.5" height="15.5" fill="#f8a51d"/>
<rect x="207" y="382" width="1.5" height="53.5" fill="#f4e31b"/>
<rect x="207" y="435" width="1.5" height="17.5" fill="#a9cf38"/>
<rect x="208" y="297" width="1.5" height="12.5" fill="#27ade3"/>
<rect x="208" y="309" width="1.5" height="12.5" fill="#1fb5b0"/>
<rect x="208" y="321" width="1.5" height="8.5" fill="#40b64c"/>
<rect x="208" y="329" width="1.5" height="13.5" fill="#a9cf38"/>
<rect x="208" y="342" width="1.5" height="93.5" fill="#f4e31b"/>
<rect x="208" y="435" width="1.5" height="17.5" fill="#a9cf38"/>
<rect x="209" y="297" width="1.5" height="16.5" fill="#27ade3"/>
<rect x="209" y="313" width="1.5" height="10.5" fill="#1fb5b0"/>
<rect x="209" y="323" width="1.5" height="9.5" fill="#40b64c"/>
<rect x="209" y="332" width="1.5" height="17.5" fill="#a9cf38"/>
<rect x="209" y="349" width="1.5" height="97.5" fill="#f4e31b"/>
<rect x="209" y="446" width="1.5" height="6.5" fill="#a9cf38"/>
<rect x="210" y="297" width="1.5" height="18.5" fill="#27ade3"/>
<rect x="210" y="315" width="1.5" height="10.5" fill="#1fb5b0"/>
<rect x="210" y="325" width="1.5" height="10.5" fill="#40b64c"/>
<rect x="210" y="335" width="1.5" height="18.5" fill="#a9cf38"/>
<rect x="210" y="353" width="1.5" height="99.5" fill="#f4e31b"/>
<rect x="211" y="297" width="1.5" height="20.5" fill="#27ade3"/>
<rect x="211" y="317" width="1.5" height="10.5" fill="#1fb5b0"/>
<rect x="211" y="327" width="1.5" height="12.5" fill="#40b64c"/>
<rect x="211" y="339" width="1.5" height="16.5" fill="#a9cf38"/>
<rect x="211" y="355" width="1.5" height="97.5" fill="#f4e31b"/>
<rect x="212" y="297" width="1.5" height="21.5" fill="#27ade3"/>
<rect x="212" y="318" width="1.5" height="11.5" fill="#1fb5b0"/>
<rect x="212" y="329" width="1.5" height="14.5" fill="#40b64c"/>
<rect x="212" y="343" width="1.5" height="14.5" fill="#a9cf38"/>
<rect x="212" y="357" width="1.5" height="95.5" fill="#f4e31b"/>
<rect x="213" y="297" width="1.5" height="21.5" fill="#27ade3"/>
<rect x="213" y="318" width="1.5" height="11.5" fill="#1fb5b0"/>
<rect x="213" y="329" width="1.5" height="16.5" fill="#40b64c"/>
<rect x="213" y="345" width="1.5" height="12.5" fill="#a9cf38"/>
<rect x="213" y="357" width="1.5" height="95.5" fill="#f4e31b"/>
<rect x="214" y="297" width="1.5" height="19.5" fill="#27ade3"/>
<rect x="214" y="316" width="1.5" height="13.5" fill="#1fb5b0"/>
<rect x="214" y="329" width="1.5" height="17.5" fill="#40b64c"/>
<rect x="214" y="346" width="1.5" height="10.5" fill="#a9cf38"/>
<rect x="214" y="356" width="1.5" height="96.5" fill="#f4e31b"/>
<rect x="215" y="297" width="1.5" height="20.5" fill="#27ade3"/>
<rect x="215" y="317" width="1.5" height="13.5" fill="#1fb5b0"/>
<rect x="215" y="330" width="1.5" height="17.5" fill="#40b64c"/>
<rect x="215" y="347" width="1.5" height="11.5" fill="#a9cf38"/>
<rect x="215" y="358" width="1.5" height="74.5" fill="#f4e31b"/>
<rect x="215" y="432" width="1.5" height="20.5" fill="#f8a51d"/>
<rect x="216" y="297" width="1.5" height="20.5" fill="#27ade3"/>
<rect x="216" y="317" width="1.5" height="14.5" fill="#1fb5b0"/>
<rect x="216" y="331" width="1.5" height="16.5" fill="#40b64c"/>
<rect x="216" y="347" width="1.5" height="13.5" fill="#a9cf38"/>
<rect x="216" y="360" width="1.5" height="62.5" fill="#f4e31b"/>
<rect x="216" y="422" width="1.5" height="30.5" fill="#f8a51d"/>
<rect x="217" y="297" width="1.5" height="20.5" fill="#27ade3"/>
<rect x="217" y="317" width="1.5" height="14.5" fill="#1fb5b0"/>
<rect x="217" y="331" width="1.5" height="16.5" fill="#40b64c"/>
<rect x="217" y="347" width="1.5" height="15.5" fill="#a9cf38"/>
<rect x="217" y="362" width="1.5" height="53.5" fill="#f4e31b"/>
<rect x="217" y="415" width="1.5" height="37.5" fill="#f8a51d"/>
<rect x="218" y="297" width="1.5" height="19.5" fill="#27ade3"/>
<rect x="218" y="316" width="1.5" height="15.5" fill="#1fb5b0"/>
<rect x="218" y="331" width="1.5" height="16.5" fill="#40b64c"/>
<rect x="218" y="347" width="1.5" height="16.5" fill="#a9cf38"/>
<rect x="218" y="363" width="1.5" height="44.5" fill="#f4e31b"/>
<rect x="218" y="407" width="1.5" height="44.5" fill="#f8a51d"/>
<rect x="218" y="451" width="1.5" height="1.5" fill="#ef5123"/>
<rect x="219" y="297" width="1.5" height="18.5" fill="#27ade3"/>
<rect x="219" y="315" width="1.5" height="16.5" fill="#1fb5b0"/>
<rect x="219" y="331" width="1.5" height="16.5" fill="#40b64c"/>
<rect x="219" y="347" width="1.5" height="16.5" fill="#a9cf38"/>
<rect x="219" y="363" width="1.5" height="40.5" fill="#f4e31b"/>
<rect x="219" y="403" width="1.5" height="32.5" fill="#f8a51d"/>
<rect x="219" y="435" width="1.5" height="17.5" fill="#ef5123"/>
<rect x="220" y="297" width="1.5" height="18.5" fill="#27ade3"/>
<rect x="220" y="315" width="1.5" height="17.5" fill="#1fb5b0"/>
<rect x="220" y="332" width="1.5" height="15.5" fill="#40b64c"/>
<rect x="220" y="347" width="1.5" height="18.5" fill="#a9cf38"/>
<rect x="220" y="365" width="1.5" height="38.5" fill="#f4e31b"/>
<rect x="220" y="403" width="1.5" height="28.5" fill="#f8a51d"/>
<rect x="220" y="431" width="1.5" height="21.5" fill="#ef5123"/>
<rect x="221" y="297" width="1.5" height="19.5" fill="#27ade3"/>
<rect x="221" y="316" width="1.5" height="16.5" fill="#1fb5b0"/>
<rect x="221" y="332" width="1.5" height="15.5" fill="#40b64c"/>
<rect x="221" y="347" width="1.5" height="20.5" fill="#a9cf38"/>
<rect x="221" y="367" width="1.5" height="35.5" fill="#f4e31b"/>
<rect x="221" y="402" width="1.5" height="25.5" fill="#f8a51d"/>
<rect x="221" y="427" width="1.5" height="25.5" fill="#ef5123"/>
<rect x="222" y="297" width="1.5" height="21.5" fill="#27ade3"/>
<rect x="222" y="318" width="1.5" height="16.5" fill="#1fb5b0"/>
<rect x="222" y="334" width="1.5" height="15.5" fill="#40b64c"/>
<rect x="222" y="349" width="1.5" height="23.5" fill="#a9cf38"/>
<rect x="222" y="372" width="1.5" height="33.5" fill="#f4e31b"/>
<rect x="222" y="405" width="1.5" height="24.5" fill="#f8a51d"/>
<rect x="222" y="429" width="1.5" height="23.5" fill="#ef5123"/>
<rect x="223" y="297" width="1.5" height="23.5" fill="#27ade3"/>
<rect x="223" y="320" width="1.5" height="17.5" fill="#1fb5b0"/>
<rect x="223" y="337" width="1.5" height="17.5" fill="#40b64c"/>
<rect x="223" y="354" width="1.5" height="25.5" fill="#a9cf38"/>
<rect x="223" y="379" width="1.5" height="35.5" fill="#f4e31b"/>
<rect x="223" y="414" width="1.5" height="25.5" fill="#f8a51d"/>
<rect x="223" y="439" width="1.5" height="13.5" fill="#ef5123"/>
<rect x="224" y="297" width="1.5" height="25.5" fill="#27ade3"/>
<rect x="224" y="322" width="1.5" height="18.5" fill="#1fb5b0"/>
<rect x="224" y="340" width="1.5" height="19.5" fill="#40b64c"/>
<rect x="224" y="359" width="1.5" height="25.5" fill="#a9cf38"/>
<rect x="224" y="384" width="1.5" height="40.5" fill="#f4e31b"/>
<rect x="224" y="424" width="1.5" height="28.5" fill="#f8a51d"/>
<rect x="225" y="297" width="1.5" height="28.5" fill="#27ade3"/>
<rect x="225" y="325" width="1.5" height="17.5" fill="#1fb5b0"/>
<rect x="225" y="342" width="1.5" height="23.5" fill="#40b64c"/>
<rect x="225" y="365" width="1.5" height="22.5" fill="#a9cf38"/>
<rect x="225" y="387" width="1.5" height="55.5" fill="#f4e31b"/>
<rect x="225" y="442" width="1.5" height="10.5" fill="#f8a51d"/>
<rect x="226" y="297" width="1.5" height="31.5" fill="#27ade3"/>
<rect x="226" y="328" width="1.5" height="16.5" fill="#1fb5b0"/>
<rect x="226" y="344" width="1.5" height="28.5" fill="#40b64c"/>
<rect x="226" y="372" width="1.5" height="17.5" fill="#a9cf38"/>
<rect x="226" y="389" width="1.5" height="63.5" fill="#f4e31b"/>
<rect x="227" y="297" width="1.5" height="32.5" fill="#27ade3"/>
<rect x="227" y="329" width="1.5" height="18.5" fill="#1fb5b0"/>
<rect x="227" y="347" width="1.5" height="27.5" fill="#40b64c"/>
<rect x="227" y="374" width="1.5" height="56.5" fill="#a9cf38"/>
<rect x="227" y="430" width="1.5" height="22.5" fill="#f4e31b"/>
<rect x="228" y="297" width="1.5" height="32.5" fill="#27ade3"/>
<rect x="228" y="329" width="1.5" height="21.5" fill="#1fb5b0"/>
<rect x="228" y="350" width="1.5" height="26.5" fill="#40b64c"/>
<rect x="228" y="376" width="1.5" height="76.5" fill="#a9cf38"/>
<rect x="229" y="297" width="1.5" height="34.5" fill="#27ade3"/>
<rect x="229" y="331" width="1.5" height="21.5" fill="#1fb5b0"/>
<rect x="229" y="352" width="1.5" height="28.5" fill="#40b64c"/>
<rect x="229" y="380" width="1.5" height="72.5" fill="#a9cf38"/>
<rect x="230" y="297" width="1.5" height="3.5" fill="#1f84cc"/>
<rect x="230" y="300" width="1.5" height="35.5" fill="#27ade3"/>
<rect x="230" y="335" width="1.5" height="21.5" fill="#1fb5b0"/>
<rect x="230" y="356" width="1.5" height="35.5" fill="#40b64c"/>
<rect x="230" y="391" width="1.5" height="61.5" fill="#a9cf38"/>
<rect x="231" y="297" width="1.5" height="11.5" fill="#1f84cc"/>
<rect x="231" y="308" width="1.5" height="33.5" fill="#27ade3"/>
<rect x="231" y="341" width="1.5" height="17.5" fill="#1fb5b0"/>
<rect x="231" y="358" width="1.5" height="94.5" fill="#40b64c"/>
<rect x="232" y="297" width="1.5" height="14.5" fill="#1f84cc"/>
<rect x="232" y="311" width="1.5" height="36.5" fill="#27ade3"/>
<rect x="232" y="347" width="1.5" height="13.5" fill="#1fb5b0"/>
<rect x="232" y="360" width="1.5" height="92.5" fill="#40b64c"/>
<rect x="233" y="297" width="1.5" height="14.5" fill="#1f84cc"/>
<rect x="233" y="311" width="1.5" height="36.5" fill="#27ade3"/>
<rect x="233" y="347" width="1.5" height="13.5" fill="#1fb5b0"/>
<rect x="233" y="360" width="1.5" height="92.5" fill="#40b64c"/>
<rect x="234" y="297" width="1.5" height="12.5" fill="#1f84cc"/>
<rect x="234" y="309" width="1.5" height="33.5" fill="#27ade3"/>
<rect x="234" y="342" width="1.5" height="17.5" fill="#1fb5b0"/>
<rect x="234" y="359" width="1.5" height="93.5" fill="#40b64c"/>
<rect x="235" y="297" width="1.5" height="13.5" fill="#1f84cc"/>
<rect x="235" y="310" width="1.5" height="31.5" fill="#27ade3"/>
<rect x="235" y="341" width="1.5" height="19.5" fill="#1fb5b0"/>
<rect x="235" y="360" width="1.5" height="92.5" fill="#40b64c"/>
<rect x="236" y="297" width="1.5" height="14.5" fill="#1f84cc"/>
<rect x="236" y="311" width="1.5" height="30.5" fill="#27ade3"/>
<rect x="236" y="341" width="1.5" height="19.5" fill="#1fb5b0"/>
<rect x="236" y="360" width="1.5" height="92.5" fill="#40b64c"/>
<rect x="237" y="297" width="1.5" height="15.5" fill="#1f84cc"/>
<rect x="237" y="312" width="1.5" height="28.5" fill="#27ade3"/>
<rect x="237" y="340" width="1.5" height="20.5" fill="#1fb5b0"/>
<rect x="237" y="360" width="1.5" height="92.5" fill="#40b64c"/>
<rect x="238" y="297" width="1.5" height="14.5" fill="#1f84cc"/>
<rect x="238" y="311" width="1.5" height="28.5" fill="#27ade3"/>
<rect x="238" y="339" width="1.5" height="21.5" fill="#1fb5b0"/>
<rect x="238" y="360" width="1.5" height="92.5" fill="#40b64c"/>
<rect x="239" y="297" width="1.5" height="14.5" fill="#1f84cc"/>
<rect x="239" y="311" width="1.5" height="27.5" fill="#27ade3"/>
<rect x="239" y="338" width="1.5" height="24.5" fill="#1fb5b0"/>
<rect x="239" y="362" width="1.5" height="90.5" fill="#40b64c"/>
<rect x="240" y="297" width="1.5" height="11.5" fill="#1f84cc"/>
<rect x="240" y="308" width="1.5" height="26.5" fill="#27ade3"/>
<rect x="240" y="334" width="1.5" height="17.5" fill="#1fb5b0"/>
<rect x="240" y="351" width="1.5" height="101.5" fill="#40b64c"/>
<rect x="241" y="297" width="1.5" height="2.5" fill="#1f84cc"/>
<rect x="241" y="299" width="1.5" height="30.5" fill="#27ade3"/>
<rect x="241" y="329" width="1.5" height="18.5" fill="#1fb5b0"/>
<rect x="241" y="347" width="1.5" height="47.5" fill="#40b64c"/>
<rect x="241" y="394" width="1.5" height="52.5" fill="#a9cf38"/>
<rect x="241" y="446" width="1.5" height="6.5" fill="#40b64c"/>
<rect x="242" y="297" width="1.5" height="29.5" fill="#27ade3"/>
<rect x="242" y="326" width="1.5" height="20.5" fill="#1fb5b0"/>
<rect x="242" y="346" width="1.5" height="35.5" fill="#40b64c"/>
<rect x="242" y="381" width="1.5" height="71.5" fill="#a9cf38"/>
<rect x="243" y="297" width="1.5" height="28.5" fill="#27ade3"/>
<rect x="243" y="325" width="1.5" height="21.5" fill="#1fb5b0"/>
<rect x="243" y="346" width="1.5" height="29.5" fill="#40b64c"/>
<rect x="243" y="375" width="1.5" height="77.5" fill="#a9cf38"/>
<rect x="244" y="297" width="1.5" height="28.5" fill="#27ade3"/>
<rect x="244" y="325" width="1.5" height="20.5" fill="#1fb5b0"/>
<rect x="244" y="345" width="1.5" height="24.5" fill="#40b64c"/>
<rect x="244" y="369" width="1.5" height="62.5" fill="#a9cf38"/>
<rect x="244" y="431" width="1.5" height="21.5" fill="#f4e31b"/>
<rect x="245" y="297" width="1.5" height="24.5" fill="#27ade3"/>
<rect x="245" y="321" width="1.5" height="20.5" fill="#1fb5b0"/>
<rect x="245" y="341" width="1.5" height="18.5" fill="#40b64c"/>
<rect x="245" y="359" width="1.5" height="37.5" fill="#a9cf38"/>
<rect x="245" y="396" width="1.5" height="56.5" fill="#f4e31b"/>
<rect x="246" y="297" width="1.5" height="20.5" fill="#27ade3"/>
<rect x="246" y="317" width="1.5" height="20.5" fill="#1fb5b0"/>
<rect x="246" y="337" width="1.5" height="15.5" fill="#40b64c"/>
<rect x="246" y="352" width="1.5" height="29.5" fill="#a9cf38"/>
<rect x="246" y="381" width="1.5" height="50.5" fill="#f4e31b"/>
<rect x="246" y="431" width="1.5" height="21.5" fill="#f8a51d"/>
<rect x="247" y="297" width="1.5" height="17.5" fill="#27ade3"/>
<rect x="247" y="314" width="1.5" height="21.5" fill="#1fb5b0"/>
<rect x="247" y="335" width="1.5" height="13.5" fill="#40b64c"/>
<rect x="247" y="348" width="1.5" height="23.5" fill="#a9cf38"/>
<rect x="247" y="371" width="1.5" height="36.5" fill="#f4e31b"/>
<rect x="247" y="407" width="1.5" height="45.5" fill="#f8a51d"/>
<rect x="248" y="297" width="1.5" height="18.5" fill="#27ade3"/>
<rect x="248" y="315" width="1.5" height="20.5" fill="#1fb5b0"/>
<rect x="248" y="335" width="1.5" height="11.5" fill="#40b64c"/>
<rect x="248" y="346" width="1.5" height="19.5" fill="#a9cf38"/>
<rect x="248" y="365" width="1.5" height="31.5" fill="#f4e31b"/>
<rect x="248" y="396" width="1.5" height="48.5" fill="#f8a51d"/>
<rect x="248" y="444" width="1.5" height="8.5" fill="#ef5123"/>
<rect x="249" y="297" width="1.5" height="20.5" fill="#27ade3"/>
<rect x="249" y="317" width="1.5" height="17.5" fill="#1fb5b0"/>
<rect x="249" y="334" width="1.5" height="10.5" fill="#40b64c"/>
<rect x="249" y="344" width="1.5" height="16.5" fill="#a9cf38"/>
<rect x="249" y="360" width="1.5" height="29.5" fill="#f4e31b"/>
<rect x="249" y="389" width="1.5" height="36.5" fill="#f8a51d"/>
<rect x="249" y="425" width="1.5" height="27.5" fill="#ef5123"/>
<rect x="250" y="297" width="1.5" height="19.5" fill="#27ade3"/>
<rect x="250" y="316" width="1.5" height="18.5" fill="#1fb5b0"/>
<rect x="250" y="334" width="1.5" height="9.5" fill="#40b64c"/>
<rect x="250" y="343" width="1.5" height="12.5" fill="#a9cf38"/>
<rect x="250" y="355" width="1.5" height="26.5" fill="#f4e31b"/>
<rect x="250" y="381" width="1.5" height="31.5" fill="#f8a51d"/>
<rect x="250" y="412" width="1.5" height="40.5" fill="#ef5123"/>
<rect x="251" y="297" width="1.5" height="19.5" fill="#27ade3"/>
<rect x="251" y="316" width="1.5" height="17.5" fill="#1fb5b0"/>
<rect x="251" y="333" width="1.5" height="9.5" fill="#40b64c"/>
<rect x="251" y="342" width="1.5" height="8.5" fill="#a9cf38"/>
<rect x="251" y="350" width="1.5" height="25.5" fill="#f4e31b"/>
<rect x="251" y="375" width="1.5" height="27.5" fill="#f8a51d"/>
<rect x="251" y="402" width="1.5" height="33.5" fill="#ef5123"/>
<rect x="251" y="435" width="1.5" height="17.5" fill="#dc2420"/>
<polyline points="113,451 117.5,428 118.5,422.5 123.5,422.5 123.5,427.5 126,427.5 127.5,422.5 130,422.5 130.5,451" fill="none" stroke="#111" stroke-width="2.2" stroke-linejoin="miter"/>
<polyline points="133.7,349 133.7,366" fill="none" stroke="#111" stroke-width="2.2" stroke-linejoin="miter"/>
<polyline points="140,348.5 140,376" fill="none" stroke="#111" stroke-width="2.2" stroke-linejoin="miter"/>
<polyline points="166.5,366.7 166.5,349 182.4,349 182.4,330.2 202.7,330.2 202.7,349 213.5,349" fill="none" stroke="#111" stroke-width="2.2" stroke-linejoin="miter"/>
<polyline points="186.5,330.2 186.5,349" fill="none" stroke="#111" stroke-width="2.2" stroke-linejoin="miter"/>
<polyline points="173.5,349 173.5,379.4" fill="none" stroke="#111" stroke-width="2.2" stroke-linejoin="miter"/>
<polyline points="177.7,349 177.7,375" fill="none" stroke="#111" stroke-width="2.2" stroke-linejoin="miter"/>
<polyline points="166.5,366.7 171.5,366.7" fill="none" stroke="#111" stroke-width="2.2" stroke-linejoin="miter"/>
<polyline points="180.3,349 180.3,390.8 188.2,390.8 188.2,400.2 191,400.2 191,409.6 196,409.6 196.5,420 197,438 199.7,446 199.7,400 204,400 204,409.6" fill="none" stroke="#111" stroke-width="2.2" stroke-linejoin="miter"/>
<polyline points="207.5,379.4 207.5,409.6" fill="none" stroke="#111" stroke-width="2.2" stroke-linejoin="miter"/>
<polyline points="211.8,390.8 211.8,409.6" fill="none" stroke="#111" stroke-width="2.2" stroke-linejoin="miter"/>
<polyline points="207,349 207,366.7" fill="none" stroke="#111" stroke-width="2.2" stroke-linejoin="miter"/>
<polyline points="210.8,349 210.8,366.7" fill="none" stroke="#111" stroke-width="2.2" stroke-linejoin="miter"/>
<polyline points="215.8,349 216.5,420 219,452" fill="none" stroke="#111" stroke-width="2.2" stroke-linejoin="miter"/>
<polyline points="220,349 220,420 221,452" fill="none" stroke="#111" stroke-width="2.2" stroke-linejoin="miter"/>
<polyline points="214.5,365.6 227,365.6 227,420 230,452" fill="none" stroke="#111" stroke-width="2.2" stroke-linejoin="miter"/>
<polyline points="252,349 247.6,349 247.6,365.6 244.5,365.6 244.5,420 248,452" fill="none" stroke="#111" stroke-width="2.2" stroke-linejoin="miter"/>
<rect x="166.5" y="349" width="5" height="17.7" fill="#111"/>
<rect x="182.4" y="330.2" width="4.4" height="18.8" fill="#111"/>
<rect x="188.4" y="400.2" width="3.6" height="9.4" fill="#111"/>
<rect x="198" y="400" width="3.5" height="40" fill="#111"/>
<rect x="208.7" y="390.8" width="4" height="18.8" fill="#111"/>
<rect x="62.8" y="42.6" width="189.8" height="154.6" fill="none" stroke="#111" stroke-width="1.7"/><line x1="110.3" y1="42.6" x2="110.3" y2="46.2" stroke="#111" stroke-width="1.6"/><line x1="110.3" y1="197.2" x2="110.3" y2="193.6" stroke="#111" stroke-width="1.6"/><line x1="157.8" y1="42.6" x2="157.8" y2="46.2" stroke="#111" stroke-width="1.6"/><line x1="157.8" y1="197.2" x2="157.8" y2="193.6" stroke="#111" stroke-width="1.6"/><line x1="205.3" y1="42.6" x2="205.3" y2="46.2" stroke="#111" stroke-width="1.6"/><line x1="205.3" y1="197.2" x2="205.3" y2="193.6" stroke="#111" stroke-width="1.6"/><line x1="62.8" y1="83.4" x2="66.4" y2="83.4" stroke="#111" stroke-width="1.6"/><line x1="252.6" y1="83.4" x2="249" y2="83.4" stroke="#111" stroke-width="1.6"/><line x1="62.8" y1="124.3" x2="66.4" y2="124.3" stroke="#111" stroke-width="1.6"/><line x1="252.6" y1="124.3" x2="249" y2="124.3" stroke="#111" stroke-width="1.6"/><line x1="62.8" y1="165.2" x2="66.4" y2="165.2" stroke="#111" stroke-width="1.6"/><line x1="252.6" y1="165.2" x2="249" y2="165.2" stroke="#111" stroke-width="1.6"/>
<rect x="62.8" y="296.4" width="189.8" height="155.6" fill="none" stroke="#111" stroke-width="1.7"/><line x1="110.3" y1="296.4" x2="110.3" y2="300" stroke="#111" stroke-width="1.6"/><line x1="110.3" y1="452" x2="110.3" y2="448.4" stroke="#111" stroke-width="1.6"/><line x1="157.8" y1="296.4" x2="157.8" y2="300" stroke="#111" stroke-width="1.6"/><line x1="157.8" y1="452" x2="157.8" y2="448.4" stroke="#111" stroke-width="1.6"/><line x1="205.3" y1="296.4" x2="205.3" y2="300" stroke="#111" stroke-width="1.6"/><line x1="205.3" y1="452" x2="205.3" y2="448.4" stroke="#111" stroke-width="1.6"/><line x1="62.8" y1="337.4" x2="66.4" y2="337.4" stroke="#111" stroke-width="1.6"/><line x1="252.6" y1="337.4" x2="249" y2="337.4" stroke="#111" stroke-width="1.6"/><line x1="62.8" y1="378.4" x2="66.4" y2="378.4" stroke="#111" stroke-width="1.6"/><line x1="252.6" y1="378.4" x2="249" y2="378.4" stroke="#111" stroke-width="1.6"/><line x1="62.8" y1="419.4" x2="66.4" y2="419.4" stroke="#111" stroke-width="1.6"/><line x1="252.6" y1="419.4" x2="249" y2="419.4" stroke="#111" stroke-width="1.6"/>
<clipPath id="ca2l"><rect x="348.8" y="40.3" width="188" height="160.3"/></clipPath>
<g clip-path="url(#ca2l)" fill="none" stroke-width="4.1" stroke-linejoin="round" stroke-linecap="round"><path d="M348.3 132.8 L349.8 129.6 L351.3 127.7 L352.8 126.3 L354.3 124.2 L355.8 116.6 L357.3 114.6 L358.8 113.3 L360.3 110.6 L361.8 107.2 L363.3 102.3 L364.8 98.5 L366.3 94.5 L367.8 92.8 L369.3 86.9 L370.8 80.1 L372.3 72.1 L373.8 58.6 L375.3 67.7 L376.8 68.2 L378.3 66.7 L379.8 65.5 L381.3 63.1 L382.8 60.1 L384.3 57.9 L385.8 56.6 L387.3 54.0 L388.8 53.9 L390.3 56.5 L391.8 57.9 L393.3 60.5 L394.8 60.9 L396.3 64.3 L397.8 63.1 L399.3 50.7 L400.8 51.1 L402.3 51.3 L403.8 52.5 L405.3 55.1 L406.8 57.2 L408.3 64.9 L409.8 75.6 L411.3 86.7 L412.8 90.5 L414.3 94.0 L415.8 99.1 L417.3 104.3 L418.8 108.4 L420.3 111.9 L421.8 117.7 L423.3 123.8 L424.8 129.0 L426.3 131.5 L427.8 131.8 L429.3 133.4 L430.8 134.7 L432.3 133.9 L433.8 130.6 L435.3 128.4 L436.8 128.2 L438.3 136.1 L439.8 140.5 L441.3 143.2 L442.8 140.6 L444.3 137.0 L445.8 136.2 L447.3 137.2 L448.8 137.6 L450.3 140.0 L451.8 138.8 L453.3 141.1 L454.8 143.7 L456.3 140.4 L457.8 138.9 L459.3 137.8 L460.8 138.1 L462.3 145.6 L463.8 148.4 L465.3 147.0 L466.8 148.0 L468.3 146.1 L469.8 146.9 L471.3 148.2 L472.8 150.4 L474.3 150.5 L475.8 153.0 L477.3 154.8 L478.8 154.7 L480.3 155.2 L481.8 155.5 L483.3 155.4 L484.8 154.9 L486.3 154.7 L487.8 151.2 L489.3 152.3 L490.8 153.4 L492.3 152.8 L493.8 152.9 L495.3 157.2 L496.8 157.3 L498.3 156.7 L499.8 159.4 L501.3 156.9 L502.8 157.0 L504.3 155.6 L505.8 153.4 L507.3 150.2 L508.8 147.4 L510.3 145.1 L511.8 147.1 L513.3 148.0 L514.8 147.6 L516.3 147.3 L517.8 149.1 L519.3 149.0 L520.8 151.0 L522.3 150.8 L523.8 155.5 L525.3 157.0 L526.8 152.6 L528.3 149.4 L529.8 147.1 L531.3 145.3 L532.8 143.8 L534.3 143.3 L535.8 141.5" stroke="#e8282b"/><path d="M348.3 156.6 L349.8 154.1 L351.3 151.8 L352.8 149.4 L354.3 145.8 L355.8 143.5 L357.3 139.8 L358.8 134.5 L360.3 132.9 L361.8 132.0 L363.3 129.6 L364.8 127.1 L366.3 125.3 L367.8 122.7 L369.3 122.0 L370.8 119.9 L372.3 118.7 L373.8 117.5 L375.3 119.3 L376.8 119.8 L378.3 120.5 L379.8 122.1 L381.3 123.7 L382.8 124.6 L384.3 125.6 L385.8 127.3 L387.3 129.0 L388.8 129.4 L390.3 131.0 L391.8 133.4 L393.3 132.9 L394.8 131.1 L396.3 132.0 L397.8 130.4 L399.3 133.5 L400.8 136.6 L402.3 138.8 L403.8 142.8 L405.3 144.3 L406.8 149.1 L408.3 153.8 L409.8 157.0 L411.3 162.1 L412.8 166.4 L414.3 172.6 L415.8 174.8 L417.3 177.7 L418.8 179.7 L420.3 181.8 L421.8 182.2 L423.3 181.9 L424.8 183.4 L426.3 181.1 L427.8 181.6 L429.3 180.6 L430.8 179.9 L432.3 180.4 L433.8 180.7 L435.3 181.3 L436.8 181.9 L438.3 181.9 L439.8 182.7 L441.3 181.9 L442.8 182.7 L444.3 182.1 L445.8 181.9 L447.3 182.5 L448.8 183.1 L450.3 182.7 L451.8 182.6 L453.3 180.1 L454.8 180.4 L456.3 181.4 L457.8 180.5 L459.3 181.8 L460.8 184.1 L462.3 182.5 L463.8 182.8 L465.3 182.0 L466.8 182.7 L468.3 182.2 L469.8 181.4 L471.3 182.3 L472.8 183.3 L474.3 185.3 L475.8 187.1 L477.3 188.2 L478.8 186.2 L480.3 184.3 L481.8 181.2 L483.3 178.0 L484.8 176.2 L486.3 173.6 L487.8 172.5 L489.3 170.2 L490.8 168.5 L492.3 167.1 L493.8 166.6 L495.3 165.0 L496.8 164.7 L498.3 164.3 L499.8 163.0 L501.3 162.6 L502.8 160.8 L504.3 159.5 L505.8 159.0 L507.3 156.9 L508.8 158.4 L510.3 161.5 L511.8 162.9 L513.3 164.3 L514.8 160.2 L516.3 158.7 L517.8 156.6 L519.3 151.2 L520.8 150.6 L522.3 147.0 L523.8 144.4 L525.3 141.3 L526.8 139.5 L528.3 138.4 L529.8 136.9 L531.3 135.9 L532.8 135.9 L534.3 135.2 L535.8 136.3" stroke="#2e3d97"/><path d="M348.3 166.9 L349.8 168.5 L351.3 171.5 L352.8 171.3 L354.3 169.6 L355.8 167.8 L357.3 164.6 L358.8 160.7 L360.3 155.7 L361.8 155.1 L363.3 150.0 L364.8 144.9 L366.3 139.6 L367.8 133.9 L369.3 126.2 L370.8 117.0 L372.3 108.5 L373.8 102.2 L375.3 95.9 L376.8 93.3 L378.3 86.2 L379.8 80.4 L381.3 76.0 L382.8 72.9 L384.3 69.5 L385.8 68.1 L387.3 67.3 L388.8 68.2 L390.3 69.0 L391.8 70.5 L393.3 72.3 L394.8 73.8 L396.3 71.8 L397.8 71.5 L399.3 69.4 L400.8 67.5 L402.3 65.0 L403.8 66.7 L405.3 68.5 L406.8 71.7 L408.3 76.7 L409.8 82.0 L411.3 86.6 L412.8 92.7 L414.3 99.4 L415.8 105.8 L417.3 111.4 L418.8 119.1 L420.3 124.9 L421.8 131.5 L423.3 140.9 L424.8 148.2 L426.3 153.5 L427.8 155.1 L429.3 154.6 L430.8 154.6 L432.3 154.4 L433.8 152.5 L435.3 153.2 L436.8 152.2 L438.3 149.9 L439.8 150.0 L441.3 148.5 L442.8 147.4 L444.3 146.7 L445.8 147.0 L447.3 147.5 L448.8 148.3 L450.3 148.7 L451.8 148.3 L453.3 149.6 L454.8 152.4 L456.3 155.0 L457.8 158.5 L459.3 158.3 L460.8 159.5 L462.3 161.7 L463.8 165.5 L465.3 167.0 L466.8 168.6 L468.3 168.4 L469.8 167.9 L471.3 171.4 L472.8 172.0 L474.3 173.3 L475.8 173.8 L477.3 175.0 L478.8 176.0 L480.3 178.3 L481.8 179.0 L483.3 179.9 L484.8 180.3 L486.3 179.1 L487.8 176.1 L489.3 174.2 L490.8 172.7 L492.3 170.9 L493.8 169.6 L495.3 166.6 L496.8 165.3 L498.3 160.9 L499.8 159.7 L501.3 159.1 L502.8 154.7 L504.3 153.1 L505.8 151.0 L507.3 150.2 L508.8 151.5 L510.3 153.1 L511.8 153.5 L513.3 155.3 L514.8 154.7 L516.3 153.1 L517.8 152.6 L519.3 151.5 L520.8 150.0 L522.3 145.5 L523.8 143.9 L525.3 140.2 L526.8 136.0 L528.3 132.8 L529.8 130.4 L531.3 126.6 L532.8 125.1 L534.3 124.6 L535.8 123.0" stroke="#0f8a48"/></g>
<rect x="383.3" y="189.3" width="40" height="6.2" fill="#111"/>
<rect x="438.3" y="189.3" width="12.5" height="6.2" fill="#111"/>
<clipPath id="ca2r"><rect x="544.6" y="40.3" width="188.8" height="160.3"/></clipPath>
<g clip-path="url(#ca2r)" fill="none" stroke-width="4.1" stroke-linejoin="round" stroke-linecap="round"><path d="M545.0 190.0 L546.5 190.8 L548.0 191.7 L549.5 193.1 L551.0 192.4 L552.5 191.3 L554.0 189.0 L555.5 189.1 L557.0 187.9 L558.5 187.1 L560.0 185.1 L561.5 182.4 L563.0 182.1 L564.5 181.1 L566.0 180.0 L567.5 177.7 L569.0 177.1 L570.5 176.7 L572.0 176.8 L573.5 177.4 L575.0 177.0 L576.5 177.3 L578.0 176.0 L579.5 173.5 L581.0 174.0 L582.5 172.6 L584.0 171.0 L585.5 170.6 L587.0 168.4 L588.5 168.8 L590.0 169.1 L591.5 166.8 L593.0 165.3 L594.5 164.9 L596.0 165.7 L597.5 166.9 L599.0 166.7 L600.5 168.9 L602.0 169.1 L603.5 172.4 L605.0 171.8 L606.5 172.6 L608.0 173.7 L609.5 176.1 L611.0 176.7 L612.5 176.1 L614.0 177.6 L615.5 179.1 L617.0 179.3 L618.5 180.8 L620.0 181.0 L621.5 181.1 L623.0 182.2 L624.5 181.7 L626.0 180.7 L627.5 179.4 L629.0 179.6 L630.5 179.5 L632.0 180.8 L633.5 181.1 L635.0 178.5 L636.5 180.1 L638.0 178.3 L639.5 178.2 L641.0 177.8 L642.5 177.0 L644.0 176.2 L645.5 176.5 L647.0 176.3 L648.5 177.0 L650.0 175.0 L651.5 174.7 L653.0 173.6 L654.5 174.1 L656.0 175.5 L657.5 175.7 L659.0 175.4 L660.5 177.5 L662.0 177.4 L663.5 178.5 L665.0 179.7 L666.5 179.5 L668.0 178.8 L669.5 180.8 L671.0 180.0 L672.5 182.4 L674.0 184.1 L675.5 183.4 L677.0 184.5 L678.5 186.7 L680.0 187.5 L681.5 188.3 L683.0 189.2 L684.5 189.8 L686.0 187.9 L687.5 187.9 L689.0 189.4 L690.5 190.6 L692.0 190.6 L693.5 191.1 L695.0 190.4 L696.5 191.4 L698.0 191.1 L699.5 192.3 L701.0 193.0 L702.5 193.3 L704.0 192.4 L705.5 192.2 L707.0 191.9 L708.5 191.0 L710.0 190.9 L711.5 190.8 L713.0 191.5 L714.5 189.6 L716.0 187.8 L717.5 188.3 L719.0 188.3 L720.5 187.7 L722.0 186.9 L723.5 185.6 L725.0 184.0 L726.5 183.0 L728.0 183.2 L729.5 182.3 L731.0 182.0 L732.5 183.2" stroke="#0f8a48"/><path d="M545.0 185.6 L546.5 185.0 L548.0 184.2 L549.5 182.8 L551.0 183.2 L552.5 181.4 L554.0 181.5 L555.5 181.1 L557.0 179.3 L558.5 179.8 L560.0 181.5 L561.5 179.8 L563.0 180.8 L564.5 181.4 L566.0 180.5 L567.5 180.0 L569.0 180.8 L570.5 180.4 L572.0 181.7 L573.5 180.7 L575.0 181.5 L576.5 181.4 L578.0 182.5 L579.5 181.8 L581.0 180.2 L582.5 178.5 L584.0 179.5 L585.5 180.1 L587.0 179.6 L588.5 177.2 L590.0 178.0 L591.5 177.5 L593.0 176.9 L594.5 176.1 L596.0 176.8 L597.5 174.9 L599.0 176.2 L600.5 175.7 L602.0 176.5 L603.5 176.6 L605.0 176.1 L606.5 177.5 L608.0 174.7 L609.5 175.9 L611.0 176.1 L612.5 176.8 L614.0 177.2 L615.5 177.9 L617.0 177.6 L618.5 176.9 L620.0 176.1 L621.5 176.6 L623.0 176.4 L624.5 174.8 L626.0 175.5 L627.5 175.6 L629.0 176.7 L630.5 177.2 L632.0 176.8 L633.5 177.5 L635.0 178.1 L636.5 179.2 L638.0 180.3 L639.5 178.3 L641.0 177.8 L642.5 179.1 L644.0 178.7 L645.5 180.7 L647.0 180.0 L648.5 179.3 L650.0 180.8 L651.5 181.0 L653.0 182.0 L654.5 182.8 L656.0 182.5 L657.5 182.7 L659.0 184.1 L660.5 185.5 L662.0 184.1 L663.5 183.3 L665.0 183.5 L666.5 183.8 L668.0 185.4 L669.5 187.5 L671.0 189.0 L672.5 189.8 L674.0 191.1 L675.5 190.4 L677.0 188.3 L678.5 188.0 L680.0 188.3 L681.5 188.4 L683.0 187.5 L684.5 189.8 L686.0 189.4 L687.5 187.7 L689.0 190.7 L690.5 190.8 L692.0 191.7 L693.5 193.2 L695.0 191.3 L696.5 192.7 L698.0 191.7 L699.5 193.7 L701.0 193.7 L702.5 192.7 L704.0 195.1 L705.5 193.9 L707.0 194.1 L708.5 194.6 L710.0 193.2 L711.5 193.7 L713.0 195.0 L714.5 193.4 L716.0 191.6 L717.5 191.9 L719.0 191.9 L720.5 191.6 L722.0 191.4 L723.5 190.5 L725.0 191.4 L726.5 190.9 L728.0 189.7 L729.5 188.6 L731.0 187.1 L732.5 187.5" stroke="#2e3d97"/><path d="M545.0 182.0 L546.5 180.2 L548.0 179.6 L549.5 177.6 L551.0 177.1 L552.5 175.5 L554.0 171.5 L555.5 167.7 L557.0 165.5 L558.5 163.6 L560.0 161.0 L561.5 159.1 L563.0 156.9 L564.5 153.4 L566.0 152.1 L567.5 149.8 L569.0 149.0 L570.5 145.7 L572.0 149.1 L573.5 152.5 L575.0 157.3 L576.5 157.7 L578.0 157.2 L579.5 156.0 L581.0 157.3 L582.5 155.4 L584.0 154.4 L585.5 154.9 L587.0 156.4 L588.5 157.3 L590.0 158.2 L591.5 157.3 L593.0 155.9 L594.5 156.0 L596.0 153.3 L597.5 154.4 L599.0 156.3 L600.5 157.6 L602.0 158.3 L603.5 159.7 L605.0 160.9 L606.5 160.5 L608.0 161.6 L609.5 163.9 L611.0 163.5 L612.5 166.5 L614.0 166.8 L615.5 168.0 L617.0 169.2 L618.5 167.9 L620.0 167.8 L621.5 166.7 L623.0 164.8 L624.5 161.8 L626.0 163.8 L627.5 163.8 L629.0 164.2 L630.5 164.3 L632.0 164.9 L633.5 165.8 L635.0 166.0 L636.5 167.2 L638.0 166.7 L639.5 168.1 L641.0 169.8 L642.5 172.1 L644.0 175.5 L645.5 176.3 L647.0 176.2 L648.5 176.3 L650.0 177.9 L651.5 177.1 L653.0 178.9 L654.5 179.5 L656.0 180.1 L657.5 178.7 L659.0 180.1 L660.5 179.4 L662.0 181.9 L663.5 180.7 L665.0 180.8 L666.5 181.7 L668.0 180.9 L669.5 182.8 L671.0 182.0 L672.5 182.9 L674.0 184.6 L675.5 183.1 L677.0 183.0 L678.5 183.6 L680.0 182.6 L681.5 182.7 L683.0 182.6 L684.5 182.6 L686.0 183.3 L687.5 186.6 L689.0 183.7 L690.5 183.1 L692.0 182.2 L693.5 181.1 L695.0 181.6 L696.5 183.0 L698.0 181.9 L699.5 182.2 L701.0 181.6 L702.5 182.3 L704.0 182.8 L705.5 183.4 L707.0 182.3 L708.5 182.6 L710.0 184.8 L711.5 188.6 L713.0 190.0 L714.5 189.8 L716.0 188.8 L717.5 189.2 L719.0 189.8 L720.5 189.7 L722.0 189.3 L723.5 187.1 L725.0 186.7 L726.5 186.0 L728.0 185.6 L729.5 184.9 L731.0 183.8 L732.5 185.0" stroke="#e8282b"/></g>
<clipPath id="cb2l"><rect x="348.8" y="294.3" width="188" height="160.3"/></clipPath>
<g clip-path="url(#cb2l)" fill="none" stroke-width="4.1" stroke-linejoin="round" stroke-linecap="round"><path d="M348.3 424.6 L349.8 422.8 L351.3 421.7 L352.8 419.3 L354.3 420.6 L355.8 421.7 L357.3 423.8 L358.8 422.5 L360.3 422.3 L361.8 420.6 L363.3 420.0 L364.8 420.7 L366.3 423.0 L367.8 425.0 L369.3 423.2 L370.8 418.0 L372.3 414.3 L373.8 409.9 L375.3 407.9 L376.8 406.7 L378.3 405.1 L379.8 403.5 L381.3 402.6 L382.8 402.1 L384.3 401.1 L385.8 402.5 L387.3 403.6 L388.8 405.1 L390.3 406.6 L391.8 407.0 L393.3 407.8 L394.8 407.2 L396.3 409.7 L397.8 412.5 L399.3 412.9 L400.8 412.9 L402.3 415.7 L403.8 416.5 L405.3 419.2 L406.8 420.7 L408.3 421.7 L409.8 423.0 L411.3 424.4 L412.8 424.1 L414.3 424.3 L415.8 425.6 L417.3 424.7 L418.8 428.0 L420.3 427.6 L421.8 429.8 L423.3 428.6 L424.8 429.6 L426.3 431.2 L427.8 432.1 L429.3 430.1 L430.8 431.9 L432.3 432.8 L433.8 432.7 L435.3 432.8 L436.8 433.2 L438.3 432.7 L439.8 432.3 L441.3 432.7 L442.8 432.4 L444.3 432.6 L445.8 433.9 L447.3 431.7 L448.8 430.3 L450.3 429.5 L451.8 428.6 L453.3 428.1 L454.8 428.4 L456.3 428.0 L457.8 426.6 L459.3 426.3 L460.8 425.8 L462.3 424.3 L463.8 425.9 L465.3 425.1 L466.8 427.3 L468.3 425.5 L469.8 424.1 L471.3 423.7 L472.8 422.7 L474.3 419.7 L475.8 420.7 L477.3 421.5 L478.8 420.4 L480.3 422.8 L481.8 421.6 L483.3 420.1 L484.8 422.8 L486.3 423.8 L487.8 423.2 L489.3 424.0 L490.8 424.5 L492.3 425.3 L493.8 425.0 L495.3 424.9 L496.8 423.3 L498.3 420.7 L499.8 423.0 L501.3 422.4 L502.8 422.4 L504.3 422.0 L505.8 420.4 L507.3 421.0 L508.8 420.7 L510.3 418.9 L511.8 420.5 L513.3 419.7 L514.8 419.6 L516.3 419.8 L517.8 419.6 L519.3 418.7 L520.8 418.9 L522.3 418.8 L523.8 416.9 L525.3 415.0 L526.8 415.7 L528.3 413.5 L529.8 412.1 L531.3 411.6 L532.8 410.9 L534.3 410.1 L535.8 408.8" stroke="#0f8a48"/><path d="M348.3 432.4 L349.8 430.8 L351.3 430.4 L352.8 430.2 L354.3 430.0 L355.8 429.2 L357.3 429.5 L358.8 429.6 L360.3 430.2 L361.8 430.4 L363.3 429.8 L364.8 428.0 L366.3 425.5 L367.8 426.1 L369.3 424.6 L370.8 422.2 L372.3 420.7 L373.8 419.0 L375.3 417.5 L376.8 416.9 L378.3 416.2 L379.8 414.8 L381.3 412.2 L382.8 411.2 L384.3 411.1 L385.8 411.1 L387.3 411.4 L388.8 411.4 L390.3 409.7 L391.8 408.5 L393.3 407.6 L394.8 405.0 L396.3 405.9 L397.8 404.7 L399.3 407.0 L400.8 406.1 L402.3 406.9 L403.8 406.2 L405.3 405.8 L406.8 403.8 L408.3 404.2 L409.8 403.8 L411.3 403.4 L412.8 400.8 L414.3 404.5 L415.8 404.3 L417.3 406.5 L418.8 406.1 L420.3 406.6 L421.8 406.8 L423.3 408.6 L424.8 407.6 L426.3 409.3 L427.8 408.4 L429.3 408.9 L430.8 409.0 L432.3 409.0 L433.8 409.8 L435.3 408.0 L436.8 407.5 L438.3 410.5 L439.8 408.9 L441.3 409.3 L442.8 409.6 L444.3 408.7 L445.8 407.1 L447.3 407.4 L448.8 405.7 L450.3 406.1 L451.8 406.1 L453.3 405.9 L454.8 404.1 L456.3 403.8 L457.8 401.2 L459.3 399.9 L460.8 399.8 L462.3 396.9 L463.8 395.9 L465.3 395.4 L466.8 393.3 L468.3 392.1 L469.8 392.6 L471.3 394.8 L472.8 396.0 L474.3 397.0 L475.8 396.3 L477.3 394.1 L478.8 395.1 L480.3 393.5 L481.8 396.1 L483.3 397.6 L484.8 399.1 L486.3 400.3 L487.8 401.1 L489.3 403.1 L490.8 402.1 L492.3 405.0 L493.8 404.8 L495.3 407.3 L496.8 408.0 L498.3 409.2 L499.8 408.4 L501.3 405.6 L502.8 405.6 L504.3 404.1 L505.8 403.0 L507.3 402.5 L508.8 399.7 L510.3 399.7 L511.8 402.0 L513.3 403.5 L514.8 404.6 L516.3 406.3 L517.8 407.9 L519.3 408.9 L520.8 406.2 L522.3 402.9 L523.8 402.4 L525.3 401.8 L526.8 400.9 L528.3 399.7 L529.8 399.1 L531.3 398.9 L532.8 395.6 L534.3 393.2 L535.8 392.4" stroke="#2e3d97"/><path d="M348.3 386.6 L349.8 389.1 L351.3 390.7 L352.8 393.2 L354.3 397.6 L355.8 400.9 L357.3 404.6 L358.8 411.4 L360.3 419.5 L361.8 422.6 L363.3 427.4 L364.8 427.3 L366.3 427.0 L367.8 425.5 L369.3 422.6 L370.8 416.9 L372.3 410.9 L373.8 407.8 L375.3 405.2 L376.8 407.3 L378.3 406.9 L379.8 408.2 L381.3 407.2 L382.8 406.3 L384.3 406.2 L385.8 404.3 L387.3 405.2 L388.8 408.5 L390.3 409.5 L391.8 411.7 L393.3 412.4 L394.8 413.1 L396.3 411.1 L397.8 410.6 L399.3 409.7 L400.8 408.2 L402.3 408.2 L403.8 408.9 L405.3 410.0 L406.8 409.9 L408.3 410.1 L409.8 409.8 L411.3 409.2 L412.8 411.4 L414.3 412.3 L415.8 412.1 L417.3 412.7 L418.8 416.2 L420.3 416.5 L421.8 413.6 L423.3 411.2 L424.8 411.9 L426.3 409.8 L427.8 408.2 L429.3 408.3 L430.8 407.2 L432.3 408.5 L433.8 410.2 L435.3 413.4 L436.8 414.8 L438.3 417.5 L439.8 417.4 L441.3 415.6 L442.8 413.9 L444.3 412.2 L445.8 411.5 L447.3 411.0 L448.8 409.9 L450.3 409.4 L451.8 408.7 L453.3 409.2 L454.8 406.8 L456.3 406.3 L457.8 403.5 L459.3 399.2 L460.8 396.6 L462.3 396.4 L463.8 396.0 L465.3 396.5 L466.8 396.4 L468.3 400.4 L469.8 402.4 L471.3 405.2 L472.8 405.7 L474.3 407.2 L475.8 407.2 L477.3 406.4 L478.8 405.4 L480.3 405.0 L481.8 410.4 L483.3 415.2 L484.8 416.8 L486.3 418.6 L487.8 420.2 L489.3 421.6 L490.8 421.3 L492.3 425.4 L493.8 425.0 L495.3 419.9 L496.8 418.8 L498.3 420.6 L499.8 420.4 L501.3 423.6 L502.8 422.1 L504.3 420.2 L505.8 419.3 L507.3 417.5 L508.8 416.7 L510.3 414.8 L511.8 415.3 L513.3 413.2 L514.8 414.2 L516.3 415.4 L517.8 417.1 L519.3 416.4 L520.8 415.2 L522.3 413.5 L523.8 412.9 L525.3 410.8 L526.8 408.6 L528.3 406.8 L529.8 406.0 L531.3 403.2 L532.8 401.2 L534.3 395.0 L535.8 390.4" stroke="#e8282b"/></g>
<clipPath id="cb2r"><rect x="544.6" y="294.3" width="188.8" height="160.3"/></clipPath>
<g clip-path="url(#cb2r)" fill="none" stroke-width="4.1" stroke-linejoin="round" stroke-linecap="round"><path d="M545.0 424.8 L546.5 422.9 L548.0 425.3 L549.5 424.0 L551.0 425.5 L552.5 425.8 L554.0 425.2 L555.5 426.0 L557.0 425.4 L558.5 425.0 L560.0 424.6 L561.5 425.3 L563.0 426.3 L564.5 425.3 L566.0 424.5 L567.5 420.5 L569.0 419.2 L570.5 419.6 L572.0 417.7 L573.5 416.1 L575.0 414.2 L576.5 413.2 L578.0 412.6 L579.5 410.2 L581.0 409.2 L582.5 408.9 L584.0 406.7 L585.5 405.6 L587.0 404.0 L588.5 402.5 L590.0 402.2 L591.5 401.5 L593.0 400.7 L594.5 398.6 L596.0 398.4 L597.5 398.2 L599.0 399.7 L600.5 395.7 L602.0 395.9 L603.5 397.4 L605.0 398.1 L606.5 399.0 L608.0 399.4 L609.5 400.1 L611.0 398.1 L612.5 399.7 L614.0 399.2 L615.5 399.1 L617.0 398.5 L618.5 399.5 L620.0 401.2 L621.5 402.3 L623.0 402.8 L624.5 406.6 L626.0 408.5 L627.5 409.8 L629.0 409.7 L630.5 410.5 L632.0 413.1 L633.5 412.6 L635.0 410.8 L636.5 409.6 L638.0 407.4 L639.5 406.9 L641.0 405.6 L642.5 405.0 L644.0 404.3 L645.5 403.6 L647.0 402.1 L648.5 401.4 L650.0 401.1 L651.5 399.6 L653.0 398.0 L654.5 396.3 L656.0 395.6 L657.5 395.1 L659.0 395.2 L660.5 393.5 L662.0 393.5 L663.5 391.9 L665.0 390.5 L666.5 388.9 L668.0 386.1 L669.5 386.6 L671.0 385.5 L672.5 386.9 L674.0 387.4 L675.5 388.2 L677.0 389.1 L678.5 390.8 L680.0 390.5 L681.5 393.4 L683.0 394.0 L684.5 396.8 L686.0 397.8 L687.5 399.3 L689.0 402.2 L690.5 403.2 L692.0 404.8 L693.5 407.2 L695.0 407.4 L696.5 407.7 L698.0 407.3 L699.5 406.3 L701.0 405.1 L702.5 405.2 L704.0 406.2 L705.5 404.1 L707.0 402.0 L708.5 402.5 L710.0 401.2 L711.5 400.0 L713.0 398.3 L714.5 396.8 L716.0 397.5 L717.5 395.4 L719.0 394.7 L720.5 394.6 L722.0 392.0 L723.5 392.4 L725.0 391.2 L726.5 390.8 L728.0 389.9 L729.5 390.2 L731.0 389.4 L732.5 388.1" stroke="#0f8a48"/><path d="M545.0 423.8 L546.5 422.7 L548.0 424.1 L549.5 424.7 L551.0 423.3 L552.5 423.6 L554.0 423.0 L555.5 424.3 L557.0 422.1 L558.5 422.2 L560.0 420.3 L561.5 420.1 L563.0 421.0 L564.5 418.3 L566.0 414.9 L567.5 412.2 L569.0 409.4 L570.5 408.7 L572.0 406.6 L573.5 402.7 L575.0 402.5 L576.5 399.7 L578.0 396.0 L579.5 394.7 L581.0 392.5 L582.5 389.6 L584.0 387.4 L585.5 387.5 L587.0 386.7 L588.5 382.8 L590.0 382.2 L591.5 381.9 L593.0 381.1 L594.5 379.6 L596.0 379.8 L597.5 378.1 L599.0 377.4 L600.5 377.1 L602.0 376.2 L603.5 376.0 L605.0 373.8 L606.5 373.1 L608.0 372.9 L609.5 371.2 L611.0 372.4 L612.5 373.2 L614.0 374.8 L615.5 376.2 L617.0 377.1 L618.5 379.4 L620.0 380.3 L621.5 380.2 L623.0 382.6 L624.5 381.3 L626.0 382.0 L627.5 381.5 L629.0 380.9 L630.5 379.6 L632.0 379.3 L633.5 377.8 L635.0 378.1 L636.5 379.1 L638.0 378.0 L639.5 378.3 L641.0 378.1 L642.5 378.8 L644.0 375.5 L645.5 373.7 L647.0 371.1 L648.5 372.4 L650.0 373.6 L651.5 374.0 L653.0 373.8 L654.5 372.8 L656.0 374.8 L657.5 374.8 L659.0 372.4 L660.5 372.3 L662.0 371.8 L663.5 370.5 L665.0 371.4 L666.5 371.5 L668.0 370.7 L669.5 372.4 L671.0 373.6 L672.5 378.2 L674.0 377.9 L675.5 377.5 L677.0 379.8 L678.5 380.3 L680.0 381.5 L681.5 382.0 L683.0 382.7 L684.5 384.6 L686.0 382.5 L687.5 384.6 L689.0 386.1 L690.5 386.7 L692.0 385.8 L693.5 387.8 L695.0 390.3 L696.5 388.2 L698.0 387.4 L699.5 386.3 L701.0 385.6 L702.5 385.0 L704.0 385.7 L705.5 386.0 L707.0 385.9 L708.5 387.8 L710.0 388.2 L711.5 389.3 L713.0 392.1 L714.5 393.4 L716.0 393.2 L717.5 391.8 L719.0 390.9 L720.5 390.7 L722.0 389.1 L723.5 389.3 L725.0 387.4 L726.5 389.0 L728.0 387.9 L729.5 386.8 L731.0 384.6 L732.5 383.9" stroke="#2e3d97"/><path d="M545.0 388.9 L546.5 388.5 L548.0 388.4 L549.5 388.2 L551.0 389.6 L552.5 392.2 L554.0 396.0 L555.5 401.0 L557.0 403.4 L558.5 407.2 L560.0 407.9 L561.5 407.8 L563.0 405.9 L564.5 406.1 L566.0 404.9 L567.5 405.5 L569.0 407.1 L570.5 405.8 L572.0 406.0 L573.5 407.8 L575.0 412.0 L576.5 411.5 L578.0 408.9 L579.5 407.5 L581.0 405.1 L582.5 402.7 L584.0 401.1 L585.5 399.6 L587.0 399.8 L588.5 398.2 L590.0 399.3 L591.5 395.8 L593.0 394.5 L594.5 391.7 L596.0 390.9 L597.5 392.3 L599.0 393.0 L600.5 393.1 L602.0 393.5 L603.5 393.4 L605.0 391.7 L606.5 390.6 L608.0 387.4 L609.5 386.8 L611.0 385.9 L612.5 384.1 L614.0 382.7 L615.5 382.9 L617.0 381.6 L618.5 377.8 L620.0 376.3 L621.5 373.0 L623.0 372.1 L624.5 375.4 L626.0 376.4 L627.5 378.3 L629.0 381.4 L630.5 384.3 L632.0 387.0 L633.5 387.8 L635.0 387.1 L636.5 385.3 L638.0 384.7 L639.5 383.0 L641.0 381.7 L642.5 380.7 L644.0 383.1 L645.5 385.0 L647.0 381.1 L648.5 376.1 L650.0 372.8 L651.5 371.9 L653.0 372.1 L654.5 371.2 L656.0 368.0 L657.5 364.7 L659.0 362.8 L660.5 362.3 L662.0 361.1 L663.5 361.0 L665.0 363.9 L666.5 365.1 L668.0 364.9 L669.5 366.8 L671.0 368.6 L672.5 366.3 L674.0 366.9 L675.5 367.9 L677.0 369.5 L678.5 369.7 L680.0 373.1 L681.5 375.3 L683.0 377.7 L684.5 382.1 L686.0 384.1 L687.5 385.5 L689.0 386.7 L690.5 389.0 L692.0 389.5 L693.5 391.5 L695.0 394.2 L696.5 393.7 L698.0 393.3 L699.5 392.5 L701.0 391.9 L702.5 392.7 L704.0 394.9 L705.5 396.7 L707.0 399.1 L708.5 400.7 L710.0 400.5 L711.5 401.1 L713.0 402.6 L714.5 403.6 L716.0 400.9 L717.5 400.4 L719.0 399.3 L720.5 398.4 L722.0 397.1 L723.5 397.6 L725.0 396.0 L726.5 395.4 L728.0 395.2 L729.5 390.9 L731.0 390.9 L732.5 390.1" stroke="#e8282b"/></g>
<rect x="603.3" y="443.4" width="20.7" height="6.2" fill="#111"/>
<rect x="348.8" y="40.3" width="188" height="160.3" fill="none" stroke="#111" stroke-width="1.7"/><line x1="395.5" y1="40.3" x2="395.5" y2="43.9" stroke="#111" stroke-width="1.6"/><line x1="395.5" y1="200.6" x2="395.5" y2="197" stroke="#111" stroke-width="1.6"/><line x1="442.5" y1="40.3" x2="442.5" y2="43.9" stroke="#111" stroke-width="1.6"/><line x1="442.5" y1="200.6" x2="442.5" y2="197" stroke="#111" stroke-width="1.6"/><line x1="489.5" y1="40.3" x2="489.5" y2="43.9" stroke="#111" stroke-width="1.6"/><line x1="489.5" y1="200.6" x2="489.5" y2="197" stroke="#111" stroke-width="1.6"/><line x1="348.8" y1="89.9" x2="352.4" y2="89.9" stroke="#111" stroke-width="1.6"/><line x1="536.8" y1="89.9" x2="533.2" y2="89.9" stroke="#111" stroke-width="1.6"/><line x1="348.8" y1="139.7" x2="352.4" y2="139.7" stroke="#111" stroke-width="1.6"/><line x1="536.8" y1="139.7" x2="533.2" y2="139.7" stroke="#111" stroke-width="1.6"/><line x1="348.8" y1="190" x2="352.4" y2="190" stroke="#111" stroke-width="1.6"/><line x1="536.8" y1="190" x2="533.2" y2="190" stroke="#111" stroke-width="1.6"/>
<rect x="544.6" y="40.3" width="188.8" height="160.3" fill="none" stroke="#111" stroke-width="1.7"/><line x1="591.8" y1="40.3" x2="591.8" y2="43.9" stroke="#111" stroke-width="1.6"/><line x1="591.8" y1="200.6" x2="591.8" y2="197" stroke="#111" stroke-width="1.6"/><line x1="638.8" y1="40.3" x2="638.8" y2="43.9" stroke="#111" stroke-width="1.6"/><line x1="638.8" y1="200.6" x2="638.8" y2="197" stroke="#111" stroke-width="1.6"/><line x1="686" y1="40.3" x2="686" y2="43.9" stroke="#111" stroke-width="1.6"/><line x1="686" y1="200.6" x2="686" y2="197" stroke="#111" stroke-width="1.6"/><line x1="544.6" y1="89.9" x2="548.2" y2="89.9" stroke="#111" stroke-width="1.6"/><line x1="733.4" y1="89.9" x2="729.8" y2="89.9" stroke="#111" stroke-width="1.6"/><line x1="544.6" y1="139.7" x2="548.2" y2="139.7" stroke="#111" stroke-width="1.6"/><line x1="733.4" y1="139.7" x2="729.8" y2="139.7" stroke="#111" stroke-width="1.6"/><line x1="544.6" y1="190" x2="548.2" y2="190" stroke="#111" stroke-width="1.6"/><line x1="733.4" y1="190" x2="729.8" y2="190" stroke="#111" stroke-width="1.6"/>
<rect x="348.8" y="294.3" width="188" height="160.3" fill="none" stroke="#111" stroke-width="1.7"/><line x1="395.5" y1="294.3" x2="395.5" y2="297.9" stroke="#111" stroke-width="1.6"/><line x1="395.5" y1="454.6" x2="395.5" y2="451" stroke="#111" stroke-width="1.6"/><line x1="442.5" y1="294.3" x2="442.5" y2="297.9" stroke="#111" stroke-width="1.6"/><line x1="442.5" y1="454.6" x2="442.5" y2="451" stroke="#111" stroke-width="1.6"/><line x1="489.5" y1="294.3" x2="489.5" y2="297.9" stroke="#111" stroke-width="1.6"/><line x1="489.5" y1="454.6" x2="489.5" y2="451" stroke="#111" stroke-width="1.6"/><line x1="348.8" y1="343.8" x2="352.4" y2="343.8" stroke="#111" stroke-width="1.6"/><line x1="536.8" y1="343.8" x2="533.2" y2="343.8" stroke="#111" stroke-width="1.6"/><line x1="348.8" y1="393.6" x2="352.4" y2="393.6" stroke="#111" stroke-width="1.6"/><line x1="536.8" y1="393.6" x2="533.2" y2="393.6" stroke="#111" stroke-width="1.6"/><line x1="348.8" y1="443.9" x2="352.4" y2="443.9" stroke="#111" stroke-width="1.6"/><line x1="536.8" y1="443.9" x2="533.2" y2="443.9" stroke="#111" stroke-width="1.6"/>
<rect x="544.6" y="294.3" width="188.8" height="160.3" fill="none" stroke="#111" stroke-width="1.7"/><line x1="591.8" y1="294.3" x2="591.8" y2="297.9" stroke="#111" stroke-width="1.6"/><line x1="591.8" y1="454.6" x2="591.8" y2="451" stroke="#111" stroke-width="1.6"/><line x1="638.8" y1="294.3" x2="638.8" y2="297.9" stroke="#111" stroke-width="1.6"/><line x1="638.8" y1="454.6" x2="638.8" y2="451" stroke="#111" stroke-width="1.6"/><line x1="686" y1="294.3" x2="686" y2="297.9" stroke="#111" stroke-width="1.6"/><line x1="686" y1="454.6" x2="686" y2="451" stroke="#111" stroke-width="1.6"/><line x1="544.6" y1="343.8" x2="548.2" y2="343.8" stroke="#111" stroke-width="1.6"/><line x1="733.4" y1="343.8" x2="729.8" y2="343.8" stroke="#111" stroke-width="1.6"/><line x1="544.6" y1="393.6" x2="548.2" y2="393.6" stroke="#111" stroke-width="1.6"/><line x1="733.4" y1="393.6" x2="729.8" y2="393.6" stroke="#111" stroke-width="1.6"/><line x1="544.6" y1="443.9" x2="548.2" y2="443.9" stroke="#111" stroke-width="1.6"/><line x1="733.4" y1="443.9" x2="729.8" y2="443.9" stroke="#111" stroke-width="1.6"/>
<line x1="664.2" y1="53" x2="685.5" y2="53" stroke="#0f8a48" stroke-width="3.2"/>
<line x1="664.2" y1="70.5" x2="685.5" y2="70.5" stroke="#e8282b" stroke-width="3.2"/>
<line x1="664.2" y1="86.3" x2="685.5" y2="86.3" stroke="#2e3d97" stroke-width="3.2"/>
<rect x="664.2" y="100.8" width="21.6" height="5.9" fill="#111"/>
<text x="1.94" y="16.80" font-size="19.5" font-weight="bold" textLength="23.78" lengthAdjust="spacingAndGlyphs" >A1</text>
<text x="60.58" y="24.50" font-size="16" font-weight="normal" textLength="23.16" lengthAdjust="spacingAndGlyphs" >MF</text>
<line x1="89.3" y1="17.8" x2="107.6" y2="17.8" stroke="#231f20" stroke-width="1.5"/><polygon points="102.6,10.4 116.4,17.8 102.6,25.2 106.6,17.8" fill="#231f20"/>
<text x="120.11" y="24.50" font-size="16" font-weight="normal" textLength="130.09" lengthAdjust="spacingAndGlyphs" >OC, all conditions</text>
<text x="32.88" y="47.90" font-size="16" font-weight="normal" textLength="18.16" lengthAdjust="spacingAndGlyphs" >20</text>
<text x="34.07" y="86.70" font-size="16" font-weight="normal" textLength="17.90" lengthAdjust="spacingAndGlyphs" >15</text>
<text x="33.72" y="129.70" font-size="16" font-weight="normal" textLength="17.29" lengthAdjust="spacingAndGlyphs" >10</text>
<text x="42.59" y="170.40" font-size="16" font-weight="normal" textLength="8.45" lengthAdjust="spacingAndGlyphs" >5</text>
<text x="0" y="0" font-size="16" textLength="114.90" lengthAdjust="spacingAndGlyphs" transform="translate(13.30,179.27) rotate(-90)">Frequency (Hz)</text>
<text x="44.35" y="221.70" font-size="16" font-weight="normal" textLength="36.38" lengthAdjust="spacingAndGlyphs" >−500</text>
<text x="94.30" y="221.70" font-size="16" font-weight="normal" textLength="32.30" lengthAdjust="spacingAndGlyphs" >resp</text>
<text x="144.15" y="221.70" font-size="16" font-weight="normal" textLength="27.08" lengthAdjust="spacingAndGlyphs" >500</text>
<text x="189.65" y="221.70" font-size="16" font-weight="normal" textLength="29.93" lengthAdjust="spacingAndGlyphs" >stim</text>
<text x="234.95" y="221.70" font-size="16" font-weight="normal" textLength="62.94" lengthAdjust="spacingAndGlyphs" >1500 ms</text>
<defs><linearGradient id="cbg0" x1="0" x2="1" y1="0" y2="0"><stop offset="0" stop-color="#2a3588"/><stop offset="1" stop-color="#2f4aa0"/></linearGradient><linearGradient id="cbg1" x1="0" x2="1" y1="0" y2="0"><stop offset="0" stop-color="#2f55a8"/><stop offset="1" stop-color="#2a72bd"/></linearGradient><linearGradient id="cbg2" x1="0" x2="1" y1="0" y2="0"><stop offset="0" stop-color="#1a9ad8"/><stop offset="1" stop-color="#22b2e2"/></linearGradient><linearGradient id="cbg3" x1="0" x2="1" y1="0" y2="0"><stop offset="0" stop-color="#1bae9e"/><stop offset="1" stop-color="#3db774"/></linearGradient><linearGradient id="cbg4" x1="0" x2="1" y1="0" y2="0"><stop offset="0" stop-color="#7cc243"/><stop offset="1" stop-color="#d6e021"/></linearGradient><linearGradient id="cbg5" x1="0" x2="1" y1="0" y2="0"><stop offset="0" stop-color="#fbc82c"/><stop offset="1" stop-color="#f8a334"/></linearGradient><linearGradient id="cbg6" x1="0" x2="1" y1="0" y2="0"><stop offset="0" stop-color="#f47a27"/><stop offset="1" stop-color="#ee4d26"/></linearGradient><linearGradient id="cbg7" x1="0" x2="1" y1="0" y2="0"><stop offset="0" stop-color="#e2332a"/><stop offset="1" stop-color="#c8202a"/></linearGradient></defs>
<rect x="96.3" y="237" width="96.1" height="8.8" rx="1.5" fill="#111"/>
<rect x="97.6" y="238.2" width="11.2" height="6.4" rx="0.8" fill="url(#cbg0)"/>
<rect x="109.5" y="238.2" width="11.2" height="6.4" rx="0.8" fill="url(#cbg1)"/>
<rect x="121.4" y="238.2" width="11.2" height="6.4" rx="0.8" fill="url(#cbg2)"/>
<rect x="133.3" y="238.2" width="11.2" height="6.4" rx="0.8" fill="url(#cbg3)"/>
<rect x="145.2" y="238.2" width="11.2" height="6.4" rx="0.8" fill="url(#cbg4)"/>
<rect x="157.1" y="238.2" width="11.2" height="6.4" rx="0.8" fill="url(#cbg5)"/>
<rect x="169" y="238.2" width="11.2" height="6.4" rx="0.8" fill="url(#cbg6)"/>
<rect x="180.9" y="238.2" width="11.2" height="6.4" rx="0.8" fill="url(#cbg7)"/>
<text x="84.18" y="245.90" font-size="12" font-weight="normal" textLength="5.93" lengthAdjust="spacingAndGlyphs" >0</text>
<text x="199.58" y="245.90" font-size="12" font-weight="normal" textLength="41.01" lengthAdjust="spacingAndGlyphs" >.00013</text>
<text x="0.16" y="270.80" font-size="19.5" font-weight="bold" textLength="23.76" lengthAdjust="spacingAndGlyphs" >B1</text>
<text x="60.93" y="276.60" font-size="16" font-weight="normal" textLength="24.28" lengthAdjust="spacingAndGlyphs" >OC</text>
<line x1="89" y1="270.8" x2="107.2" y2="270.8" stroke="#231f20" stroke-width="1.5"/><polygon points="102.2,263.4 116,270.8 102.2,278.2 106.2,270.8" fill="#231f20"/>
<text x="118.84" y="276.60" font-size="16" font-weight="normal" textLength="129.36" lengthAdjust="spacingAndGlyphs" >MF, all conditions</text>
<text x="32.88" y="303.40" font-size="16" font-weight="normal" textLength="18.16" lengthAdjust="spacingAndGlyphs" >20</text>
<text x="33.39" y="343.40" font-size="16" font-weight="normal" textLength="17.68" lengthAdjust="spacingAndGlyphs" >15</text>
<text x="34.25" y="383.90" font-size="16" font-weight="normal" textLength="16.73" lengthAdjust="spacingAndGlyphs" >10</text>
<text x="43.13" y="424.40" font-size="16" font-weight="normal" textLength="7.86" lengthAdjust="spacingAndGlyphs" >5</text>
<text x="0" y="0" font-size="16" textLength="113.27" lengthAdjust="spacingAndGlyphs" transform="translate(13.30,432.65) rotate(-90)">Frequency (Hz)</text>
<text x="93.20" y="474.20" font-size="16" font-weight="normal" textLength="32.30" lengthAdjust="spacingAndGlyphs" >resp</text>
<text x="190.63" y="474.20" font-size="16" font-weight="normal" textLength="30.67" lengthAdjust="spacingAndGlyphs" >stim</text>
<text x="301.80" y="16.60" font-size="19.5" font-weight="bold" textLength="25.50" lengthAdjust="spacingAndGlyphs" >A2</text>
<text x="348.39" y="24.50" font-size="16" font-weight="normal" textLength="23.05" lengthAdjust="spacingAndGlyphs" >MF</text>
<line x1="373.5" y1="17.8" x2="391.9" y2="17.8" stroke="#231f20" stroke-width="1.5"/><polygon points="386.9,10.4 400.7,17.8 386.9,25.2 390.9,17.8" fill="#231f20"/>
<text x="404.11" y="24.50" font-size="16" font-weight="normal" textLength="83.42" lengthAdjust="spacingAndGlyphs" >OC, 2-8 Hz</text>
<text x="544.97" y="24.50" font-size="16" font-weight="normal" textLength="23.38" lengthAdjust="spacingAndGlyphs" >MF</text>
<line x1="570.4" y1="17.8" x2="588.8" y2="17.8" stroke="#231f20" stroke-width="1.5"/><polygon points="583.8,10.4 597.6,17.8 583.8,25.2 587.8,17.8" fill="#231f20"/>
<text x="600.51" y="24.50" font-size="16" font-weight="normal" textLength="102.12" lengthAdjust="spacingAndGlyphs" >OC, 10-15 Hz</text>
<text x="319.73" y="48.60" font-size="16" font-weight="normal" textLength="22.38" lengthAdjust="spacingAndGlyphs" >.02</text>
<text x="319.80" y="146.40" font-size="16" font-weight="normal" textLength="21.35" lengthAdjust="spacingAndGlyphs" >.01</text>
<text x="0" y="0" font-size="16" textLength="88.64" lengthAdjust="spacingAndGlyphs" transform="translate(313.30,166.25) rotate(-90)">Causal gain</text>
<text x="377.46" y="221.70" font-size="16" font-weight="normal" textLength="33.25" lengthAdjust="spacingAndGlyphs" >resp</text>
<text x="475.53" y="221.70" font-size="16" font-weight="normal" textLength="30.67" lengthAdjust="spacingAndGlyphs" >stim</text>
<text x="577.09" y="221.70" font-size="16" font-weight="normal" textLength="32.62" lengthAdjust="spacingAndGlyphs" >resp</text>
<text x="672.35" y="221.70" font-size="16" font-weight="normal" textLength="29.83" lengthAdjust="spacingAndGlyphs" >stim</text>
<text x="690.10" y="60.10" font-size="12" font-weight="normal" textLength="15.65" lengthAdjust="spacingAndGlyphs" >Ec</text>
<text x="690.07" y="74.80" font-size="12" font-weight="normal" textLength="16.84" lengthAdjust="spacingAndGlyphs" >Ee</text>
<text x="690.53" y="90.60" font-size="12" font-weight="normal" textLength="16.12" lengthAdjust="spacingAndGlyphs" >Cc</text>
<text x="690.53" y="107.30" font-size="12" font-weight="normal" textLength="36.12" lengthAdjust="spacingAndGlyphs" >Cc-Ec</text>
<text x="299.36" y="270.80" font-size="19.5" font-weight="bold" textLength="25.54" lengthAdjust="spacingAndGlyphs" >B2</text>
<text x="348.83" y="279.30" font-size="16" font-weight="normal" textLength="24.39" lengthAdjust="spacingAndGlyphs" >OC</text>
<line x1="376.8" y1="273.3" x2="395.6" y2="273.3" stroke="#231f20" stroke-width="1.5"/><polygon points="390.6,265.9 404.4,273.3 390.6,280.7 394.6,273.3" fill="#231f20"/>
<text x="407.23" y="279.30" font-size="16" font-weight="normal" textLength="82.50" lengthAdjust="spacingAndGlyphs" >MF, 2-8 Hz</text>
<text x="545.33" y="279.30" font-size="16" font-weight="normal" textLength="24.39" lengthAdjust="spacingAndGlyphs" >OC</text>
<line x1="573.9" y1="273.3" x2="591.1" y2="273.3" stroke="#231f20" stroke-width="1.5"/><polygon points="586.1,265.9 599.9,273.3 586.1,280.7 590.1,273.3" fill="#231f20"/>
<text x="603.32" y="279.30" font-size="16" font-weight="normal" textLength="101.61" lengthAdjust="spacingAndGlyphs" >MF, 10-15 Hz</text>
<text x="319.73" y="303.60" font-size="16" font-weight="normal" textLength="22.38" lengthAdjust="spacingAndGlyphs" >.02</text>
<text x="319.80" y="398.00" font-size="16" font-weight="normal" textLength="21.35" lengthAdjust="spacingAndGlyphs" >.01</text>
<text x="0" y="0" font-size="16" textLength="86.90" lengthAdjust="spacingAndGlyphs" transform="translate(313.30,418.74) rotate(-90)">Causal gain</text>
<text x="377.89" y="474.20" font-size="16" font-weight="normal" textLength="32.51" lengthAdjust="spacingAndGlyphs" >resp</text>
<text x="475.54" y="474.20" font-size="16" font-weight="normal" textLength="30.25" lengthAdjust="spacingAndGlyphs" >stim</text>
<text x="577.09" y="474.20" font-size="16" font-weight="normal" textLength="32.62" lengthAdjust="spacingAndGlyphs" >resp</text>
<text x="672.35" y="474.20" font-size="16" font-weight="normal" textLength="29.83" lengthAdjust="spacingAndGlyphs" >stim</text>
</svg></body></html>
